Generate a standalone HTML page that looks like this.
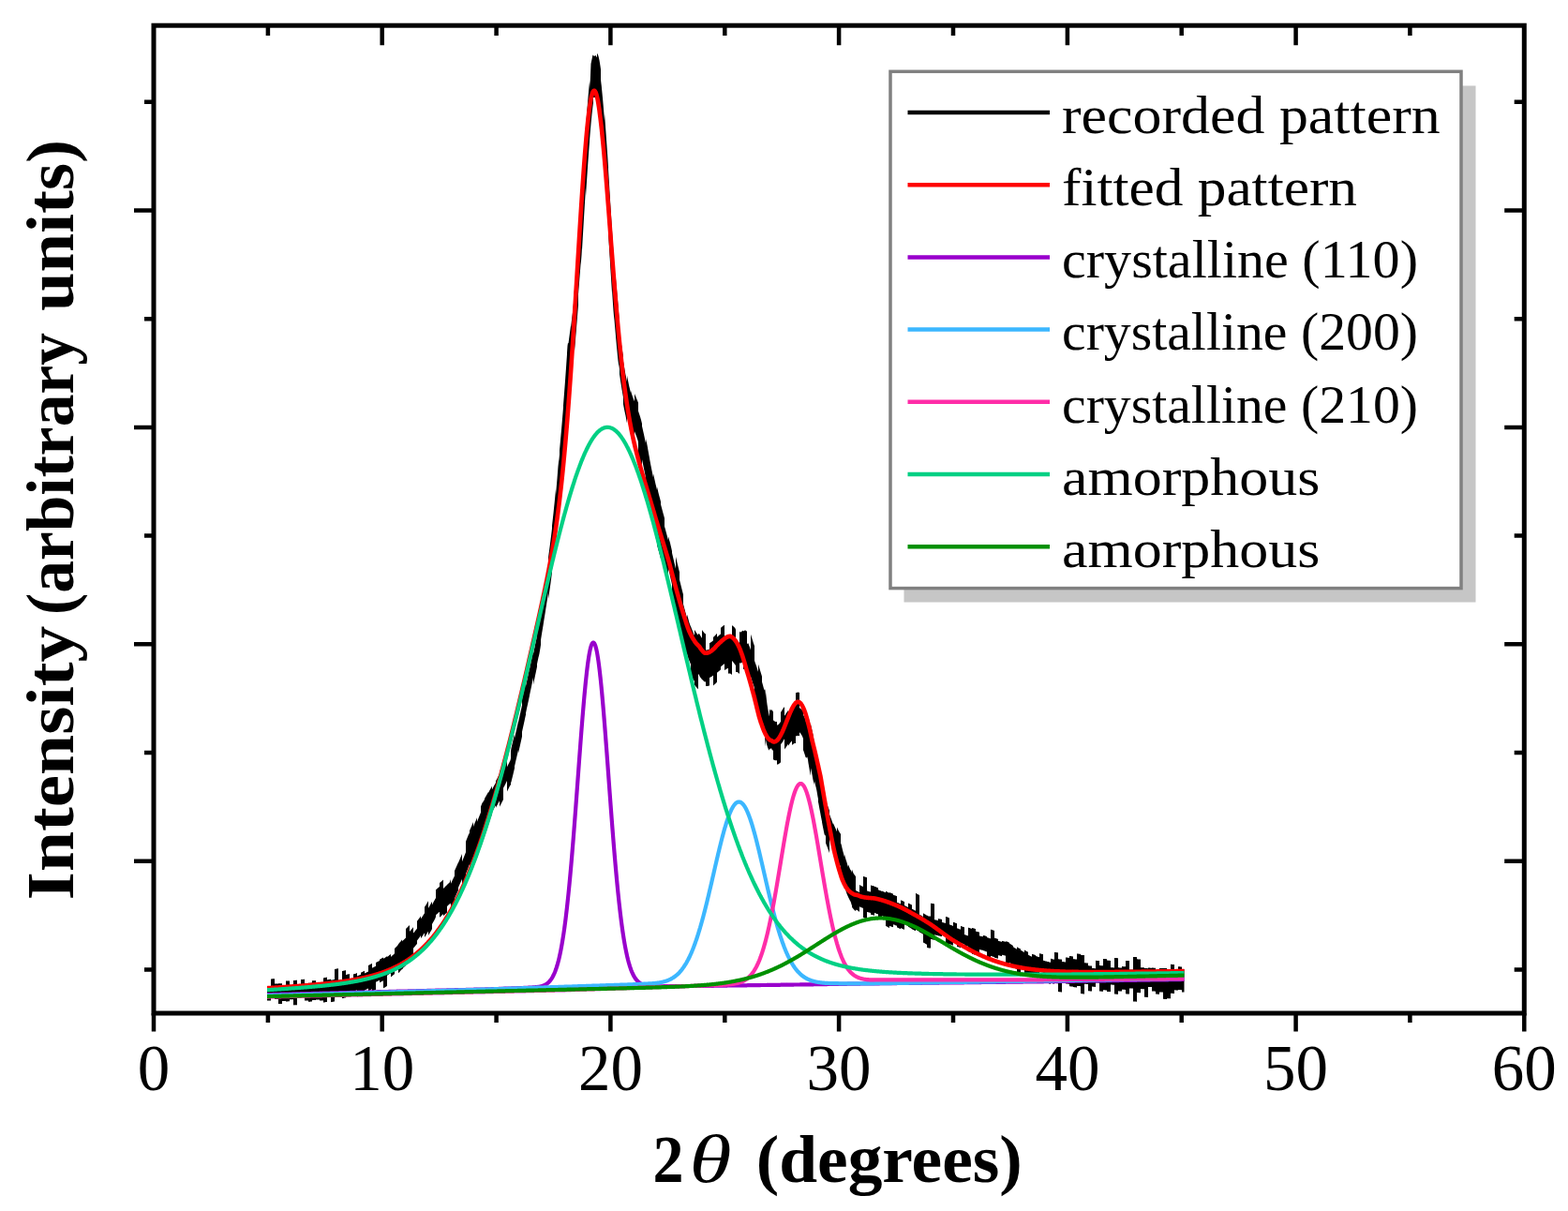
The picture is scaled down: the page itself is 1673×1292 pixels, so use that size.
<!DOCTYPE html>
<html><head><meta charset="utf-8"><title>XRD pattern</title><style>html,body{margin:0;padding:0;background:#fff;overflow:hidden}svg{display:block}text{font-family:"Liberation Serif",serif}</style></head><body>
<svg width="1673" height="1292" viewBox="0 0 1673 1292">
<rect x="0" y="0" width="1673" height="1292" fill="#fff"/>
<path fill="#000" d="M285.0,1052.7 L285.5,1052.7 L286.0,1052.7 L286.5,1052.7 L287.0,1052.7 L287.5,1052.7 L288.0,1052.7 L288.5,1052.7 L289.0,1052.6 L289.0,1044.4 L289.5,1044.4 L290.0,1044.4 L290.5,1044.3 L291.0,1044.3 L291.5,1044.3 L292.0,1044.3 L292.5,1044.3 L293.0,1044.3 L293.0,1049.6 L293.5,1049.6 L294.0,1049.6 L294.5,1049.6 L295.0,1049.5 L295.5,1049.5 L296.0,1049.5 L296.5,1049.5 L297.0,1049.5 L297.0,1049.3 L297.5,1049.3 L298.0,1049.3 L298.5,1049.3 L299.0,1049.3 L299.5,1049.3 L300.0,1049.3 L300.5,1049.3 L301.0,1049.2 L301.0,1051.1 L301.5,1051.1 L302.0,1051.1 L302.5,1051.1 L303.0,1051.1 L303.5,1051.1 L304.0,1051.1 L304.5,1051.0 L305.0,1051.0 L305.0,1046.6 L305.5,1046.5 L306.0,1046.5 L306.5,1046.5 L307.0,1046.5 L307.5,1046.5 L308.0,1046.5 L308.5,1046.5 L309.0,1046.4 L309.0,1051.3 L309.5,1051.2 L310.0,1051.2 L310.5,1051.2 L311.0,1051.2 L311.5,1051.2 L312.0,1051.2 L312.5,1051.1 L313.0,1051.1 L313.0,1045.9 L313.5,1045.9 L314.0,1045.9 L314.5,1045.9 L315.0,1045.9 L315.5,1045.8 L316.0,1045.8 L316.5,1045.8 L317.0,1045.8 L317.0,1051.2 L317.5,1051.2 L318.0,1051.2 L318.5,1051.2 L319.0,1051.2 L319.5,1051.2 L320.0,1051.1 L320.5,1051.1 L321.0,1051.1 L321.0,1045.0 L321.5,1044.9 L322.0,1044.9 L322.5,1044.9 L323.0,1044.9 L323.5,1044.9 L324.0,1044.8 L324.5,1044.8 L325.0,1044.8 L325.0,1049.6 L325.5,1049.6 L326.0,1049.5 L326.5,1049.5 L327.0,1049.5 L327.5,1049.5 L328.0,1049.5 L328.5,1049.4 L329.0,1049.4 L329.0,1048.8 L329.5,1048.8 L330.0,1048.7 L330.5,1048.7 L331.0,1048.7 L331.5,1048.7 L332.0,1048.7 L332.5,1048.6 L333.0,1048.6 L333.0,1046.3 L333.5,1046.3 L334.0,1046.3 L334.5,1046.3 L335.0,1046.2 L335.5,1046.2 L336.0,1046.2 L336.5,1046.2 L337.0,1046.1 L337.0,1049.3 L337.5,1049.3 L338.0,1049.2 L338.5,1049.2 L339.0,1049.2 L339.5,1049.2 L340.0,1049.1 L340.5,1049.1 L341.0,1049.1 L341.0,1048.0 L341.5,1048.0 L342.0,1048.0 L342.5,1048.0 L343.0,1047.9 L343.5,1047.9 L344.0,1047.9 L344.5,1047.8 L345.0,1047.8 L345.0,1043.4 L345.5,1043.3 L346.0,1043.2 L346.5,1043.1 L347.0,1043.0 L347.5,1042.9 L348.0,1042.8 L348.5,1042.7 L349.0,1042.6 L349.0,1045.4 L349.5,1045.3 L350.0,1045.2 L350.5,1045.1 L351.0,1045.0 L351.5,1044.9 L352.0,1044.8 L352.5,1044.7 L353.0,1044.7 L353.0,1045.7 L353.5,1045.6 L354.0,1045.5 L354.5,1045.5 L355.0,1045.4 L355.5,1045.3 L356.0,1045.2 L356.5,1045.1 L357.0,1045.0 L357.0,1034.0 L357.5,1033.9 L358.0,1033.8 L358.5,1033.7 L359.0,1033.6 L359.5,1033.5 L360.0,1033.4 L360.5,1033.3 L361.0,1033.2 L361.0,1045.8 L361.5,1045.7 L362.0,1045.6 L362.5,1045.5 L363.0,1045.4 L363.5,1045.3 L364.0,1045.2 L364.5,1045.1 L365.0,1045.0 L365.0,1036.0 L365.5,1035.9 L366.0,1035.8 L366.5,1035.7 L367.0,1035.6 L367.5,1035.5 L368.0,1035.4 L368.5,1035.3 L369.0,1035.1 L369.0,1040.0 L369.5,1039.9 L370.0,1039.8 L370.5,1039.6 L371.0,1039.5 L371.5,1039.4 L372.0,1039.3 L372.5,1039.2 L373.0,1039.1 L373.0,1046.4 L373.5,1046.3 L374.0,1046.1 L374.5,1046.0 L375.0,1045.9 L375.5,1045.8 L376.0,1045.7 L376.5,1045.5 L377.0,1045.4 L377.0,1039.4 L377.5,1039.2 L378.0,1039.1 L378.5,1039.0 L379.0,1038.9 L379.5,1038.7 L380.0,1038.6 L380.5,1038.3 L381.0,1038.1 L381.0,1041.5 L381.5,1041.3 L382.0,1041.0 L382.5,1040.8 L383.0,1040.6 L383.5,1040.4 L384.0,1040.1 L384.5,1039.9 L385.0,1039.7 L385.0,1037.7 L385.5,1037.4 L386.0,1037.2 L386.5,1037.0 L387.0,1036.7 L387.5,1036.5 L388.0,1036.3 L388.5,1036.0 L389.0,1035.8 L389.0,1038.4 L389.5,1038.2 L390.0,1037.9 L390.5,1037.7 L391.0,1037.4 L391.5,1037.2 L392.0,1036.9 L392.5,1036.7 L393.0,1036.4 L393.0,1029.9 L393.5,1029.7 L394.0,1029.4 L394.5,1029.2 L395.0,1028.9 L395.5,1028.6 L396.0,1028.4 L396.5,1028.1 L397.0,1027.9 L397.0,1032.8 L397.5,1032.6 L398.0,1032.3 L398.5,1032.0 L399.0,1031.8 L399.5,1031.5 L400.0,1031.2 L400.5,1031.1 L401.0,1030.8 L401.0,1026.9 L401.5,1026.7 L402.0,1026.4 L402.5,1026.2 L403.0,1026.0 L403.5,1025.7 L404.0,1025.5 L404.5,1025.2 L405.0,1025.0 L405.0,1023.7 L405.5,1023.4 L406.0,1023.1 L406.5,1022.9 L407.0,1022.6 L407.5,1022.3 L408.0,1022.0 L408.5,1021.7 L409.0,1021.4 L409.0,1022.8 L409.5,1022.5 L410.0,1022.2 L410.5,1021.9 L411.0,1021.5 L411.5,1021.2 L412.0,1020.9 L412.5,1020.6 L413.0,1020.2 L413.0,1020.9 L413.5,1020.6 L414.0,1020.2 L414.5,1019.9 L415.0,1019.5 L415.5,1019.1 L416.0,1018.7 L416.5,1018.3 L417.0,1017.9 L417.0,1020.8 L417.5,1020.4 L418.0,1020.0 L418.5,1019.6 L419.0,1019.1 L419.5,1018.7 L420.0,1018.2 L420.5,1017.7 L421.0,1017.3 L421.0,1011.9 L421.5,1011.4 L422.0,1010.9 L422.5,1010.4 L423.0,1009.9 L423.5,1009.4 L424.0,1008.9 L424.5,1008.3 L425.0,1007.8 L425.0,1007.3 L425.5,1006.7 L426.0,1006.1 L426.5,1005.6 L427.0,1005.0 L427.5,1004.4 L428.0,1003.7 L428.5,1003.1 L429.0,1002.5 L429.0,1004.5 L429.5,1003.8 L430.0,1003.3 L430.5,1003.0 L431.0,1002.5 L431.5,1002.1 L432.0,1001.6 L432.5,1001.1 L433.0,1000.6 L433.0,991.1 L433.5,990.6 L434.0,990.1 L434.5,989.6 L435.0,989.1 L435.5,988.5 L436.0,988.0 L436.5,987.5 L437.0,986.9 L437.0,993.9 L437.5,993.3 L438.0,992.8 L438.5,992.2 L439.0,991.6 L439.5,991.0 L440.0,990.4 L440.5,989.8 L441.0,989.2 L441.0,995.6 L441.5,995.0 L442.0,994.4 L442.5,993.8 L443.0,993.1 L443.5,992.5 L444.0,991.9 L444.5,991.2 L445.0,990.6 L445.0,982.8 L445.5,982.1 L446.0,981.5 L446.5,980.8 L447.0,980.1 L447.5,979.4 L448.0,978.7 L448.5,978.0 L449.0,977.3 L449.0,980.3 L449.5,979.6 L450.0,978.9 L450.5,978.1 L451.0,977.4 L451.5,976.6 L452.0,975.8 L452.5,975.1 L453.0,974.3 L453.0,967.8 L453.5,967.0 L454.0,966.2 L454.5,965.4 L455.0,964.5 L455.5,963.7 L456.0,962.9 L456.5,962.0 L457.0,961.2 L457.0,969.0 L457.5,968.1 L458.0,967.2 L458.5,966.3 L459.0,965.4 L459.5,964.5 L460.0,963.6 L460.5,962.7 L461.0,961.8 L461.0,965.5 L461.5,964.5 L462.0,963.6 L462.5,962.6 L463.0,961.6 L463.5,960.7 L464.0,959.7 L464.5,958.7 L465.0,958.3 L465.0,948.9 L465.5,948.9 L466.0,948.5 L466.5,948.1 L467.0,947.6 L467.5,947.2 L468.0,946.8 L468.5,946.3 L469.0,945.9 L469.0,942.1 L469.5,941.6 L470.0,941.2 L470.5,940.8 L471.0,940.3 L471.5,939.9 L472.0,939.4 L472.5,938.9 L473.0,938.5 L473.0,947.9 L473.5,947.4 L474.0,947.0 L474.5,946.5 L475.0,946.0 L475.5,945.6 L476.0,945.1 L476.5,944.6 L477.0,944.2 L477.0,944.1 L477.5,943.6 L478.0,943.1 L478.5,942.6 L479.0,942.2 L479.5,941.7 L480.0,940.7 L480.5,939.2 L481.0,938.2 L481.0,942.7 L481.5,941.7 L482.0,940.7 L482.5,939.6 L483.0,938.6 L483.5,937.5 L484.0,936.5 L484.5,935.4 L485.0,934.4 L485.0,928.9 L485.5,927.9 L486.0,926.8 L486.5,925.7 L487.0,924.6 L487.5,923.5 L488.0,922.3 L488.5,921.2 L489.0,920.1 L489.0,920.4 L489.5,919.3 L490.0,918.1 L490.5,917.0 L491.0,915.8 L491.5,914.6 L492.0,913.4 L492.5,912.2 L493.0,911.0 L493.0,919.2 L493.5,918.0 L494.0,916.8 L494.5,915.5 L495.0,914.3 L495.5,913.0 L496.0,911.8 L496.5,910.5 L497.0,909.3 L497.0,897.9 L497.5,896.6 L498.0,895.3 L498.5,894.0 L499.0,892.7 L499.5,891.4 L500.0,890.3 L500.5,889.4 L501.0,888.3 L501.0,886.2 L501.5,885.1 L502.0,883.9 L502.5,882.8 L503.0,881.7 L503.5,880.5 L504.0,879.3 L504.5,878.2 L505.0,877.0 L505.0,881.9 L505.5,880.7 L506.0,879.5 L506.5,878.3 L507.0,877.1 L507.5,875.9 L508.0,874.7 L508.5,873.5 L509.0,872.3 L509.0,876.8 L509.5,875.5 L510.0,874.3 L510.5,873.1 L511.0,871.8 L511.5,870.6 L512.0,869.3 L512.5,868.0 L513.0,866.8 L513.0,860.6 L513.5,859.3 L514.0,858.1 L514.5,856.8 L515.0,855.9 L515.5,855.5 L516.0,854.6 L516.5,853.8 L517.0,852.9 L517.0,852.1 L517.5,851.2 L518.0,850.3 L518.5,849.5 L519.0,848.6 L519.5,847.7 L520.0,846.8 L520.5,845.9 L521.0,845.0 L521.0,845.8 L521.5,844.9 L522.0,844.0 L522.5,843.1 L523.0,842.2 L523.5,841.3 L524.0,840.4 L524.5,839.5 L525.0,838.6 L525.0,842.3 L525.5,841.4 L526.0,840.5 L526.5,839.6 L527.0,838.6 L527.5,837.7 L528.0,836.8 L528.5,835.9 L529.0,835.0 L529.0,833.3 L529.5,832.3 L530.0,831.4 L530.5,830.5 L531.0,829.5 L531.5,828.6 L532.0,827.7 L532.5,826.7 L533.0,825.8 L533.0,823.3 L533.5,822.3 L534.0,821.4 L534.5,820.4 L535.0,819.5 L535.5,818.5 L536.0,817.6 L536.5,816.6 L537.0,815.6 L537.0,817.9 L537.5,817.0 L538.0,816.0 L538.5,815.0 L539.0,814.1 L539.5,813.1 L540.0,812.1 L540.5,811.1 L541.0,810.2 L541.0,818.2 L541.5,817.3 L542.0,816.3 L542.5,815.3 L543.0,814.3 L543.5,813.3 L544.0,812.3 L544.5,811.3 L545.0,809.1 L545.0,801.5 L545.5,798.2 L546.0,796.0 L546.5,793.9 L547.0,791.8 L547.5,789.7 L548.0,787.6 L548.5,785.4 L549.0,783.3 L549.0,787.4 L549.5,785.3 L550.0,783.1 L550.5,780.9 L551.0,778.7 L551.5,776.5 L552.0,774.3 L552.5,772.1 L553.0,769.9 L553.0,770.4 L553.5,768.2 L554.0,766.0 L554.5,763.7 L555.0,761.5 L555.5,759.2 L556.0,757.0 L556.5,754.7 L557.0,752.4 L557.0,745.6 L557.5,743.3 L558.0,741.0 L558.5,738.7 L559.0,736.4 L559.5,734.1 L560.0,731.8 L560.5,729.5 L561.0,727.1 L561.0,731.9 L561.5,729.6 L562.0,727.2 L562.5,724.9 L563.0,722.6 L563.5,720.2 L564.0,717.9 L564.5,715.5 L565.0,713.1 L565.0,713.7 L565.5,711.3 L566.0,708.9 L566.5,706.5 L567.0,704.2 L567.5,701.8 L568.0,699.4 L568.5,697.0 L569.0,694.6 L569.0,697.6 L569.5,695.2 L570.0,692.8 L570.5,690.4 L571.0,688.0 L571.5,685.6 L572.0,683.2 L572.5,680.8 L573.0,678.4 L573.0,668.4 L573.5,665.9 L574.0,663.5 L574.5,661.1 L575.0,657.9 L575.5,654.1 L576.0,651.0 L576.5,647.9 L577.0,644.8 L577.0,649.5 L577.5,646.4 L578.0,643.2 L578.5,640.1 L579.0,636.9 L579.5,633.8 L580.0,630.6 L580.5,627.4 L581.0,624.1 L581.0,628.7 L581.5,625.5 L582.0,622.2 L582.5,618.8 L583.0,615.5 L583.5,612.1 L584.0,608.6 L584.5,605.1 L585.0,601.6 L585.0,594.9 L585.5,591.3 L586.0,587.6 L586.5,583.8 L587.0,580.0 L587.5,576.1 L588.0,572.1 L588.5,568.0 L589.0,563.8 L589.0,560.8 L589.5,556.5 L590.0,552.0 L590.5,547.4 L591.0,542.6 L591.5,537.7 L592.0,532.7 L592.5,527.4 L593.0,522.0 L593.0,527.9 L593.5,522.3 L594.0,516.5 L594.5,510.4 L595.0,504.1 L595.5,497.6 L596.0,493.0 L596.5,490.0 L597.0,484.9 L597.0,480.2 L597.5,475.0 L598.0,469.6 L598.5,464.1 L599.0,458.5 L599.5,452.7 L600.0,446.8 L600.5,440.8 L601.0,434.6 L601.0,432.4 L601.5,426.0 L602.0,419.5 L602.5,412.9 L603.0,406.2 L603.5,399.3 L604.0,392.3 L604.5,385.1 L605.0,377.9 L605.0,376.3 L605.5,368.9 L606.0,365.8 L606.5,366.4 L607.0,362.6 L607.5,358.8 L608.0,355.0 L608.5,351.2 L609.0,347.4 L609.0,349.3 L609.5,345.4 L610.0,341.5 L610.5,337.6 L611.0,333.6 L611.5,329.6 L612.0,323.3 L612.5,314.8 L613.0,308.7 L613.0,313.9 L613.5,307.7 L614.0,301.5 L614.5,295.3 L615.0,289.1 L615.5,282.8 L616.0,276.5 L616.5,270.2 L617.0,263.8 L617.0,265.8 L617.5,259.4 L618.0,253.0 L618.5,246.6 L619.0,240.2 L619.5,233.8 L620.0,225.0 L620.5,214.2 L621.0,205.9 L621.0,197.1 L621.5,188.9 L622.0,180.7 L622.5,172.7 L623.0,164.8 L623.5,157.0 L624.0,149.3 L624.5,141.9 L625.0,134.6 L625.0,136.7 L625.5,129.6 L626.0,122.7 L626.5,116.1 L627.0,109.8 L627.5,103.7 L628.0,97.9 L628.5,92.5 L629.0,87.4 L629.0,95.0 L629.5,90.3 L630.0,86.0 L630.5,82.1 L631.0,78.6 L631.5,75.5 L632.0,72.9 L632.5,70.7 L633.0,69.0 L633.0,64.1 L633.5,62.9 L634.0,62.0 L634.5,61.6 L635.0,61.7 L635.5,62.1 L636.0,62.0 L636.5,61.7 L637.0,61.7 L637.0,57.0 L637.5,57.5 L638.0,58.4 L638.5,59.9 L639.0,61.9 L639.5,64.3 L640.0,67.2 L640.5,70.6 L641.0,74.1 L641.0,85.1 L641.5,89.5 L642.0,94.3 L642.5,99.3 L643.0,104.6 L643.5,110.2 L644.0,116.2 L644.5,122.4 L645.0,128.8 L645.0,121.2 L645.5,127.8 L646.0,134.7 L646.5,141.7 L647.0,148.9 L647.5,156.3 L648.0,163.2 L648.5,170.6 L649.0,178.7 L649.0,180.4 L649.5,188.5 L650.0,196.7 L650.5,205.0 L651.0,213.2 L651.5,221.5 L652.0,229.7 L652.5,237.9 L653.0,246.1 L653.0,245.8 L653.5,253.9 L654.0,261.9 L654.5,269.9 L655.0,279.2 L655.5,287.1 L656.0,293.4 L656.5,299.5 L657.0,305.6 L657.0,297.3 L657.5,303.3 L658.0,309.1 L658.5,314.8 L659.0,320.5 L659.5,326.0 L660.0,332.8 L660.5,338.3 L661.0,342.1 L661.0,352.8 L661.5,356.6 L662.0,360.3 L662.5,363.9 L663.0,367.4 L663.5,370.9 L664.0,374.3 L664.5,377.6 L665.0,380.8 L665.0,385.4 L665.5,388.5 L666.0,391.5 L666.5,394.5 L667.0,397.3 L667.5,400.0 L668.0,402.2 L668.5,404.7 L669.0,407.6 L669.0,400.5 L669.5,403.2 L670.0,405.8 L670.5,408.3 L671.0,410.7 L671.5,412.9 L672.0,415.0 L672.5,417.0 L673.0,418.9 L673.0,416.8 L673.5,418.5 L674.0,420.2 L674.5,421.7 L675.0,423.2 L675.5,424.6 L676.0,425.9 L676.5,427.1 L677.0,428.3 L677.0,420.1 L677.5,421.3 L678.0,422.4 L678.5,423.6 L679.0,424.8 L679.5,425.9 L680.0,427.2 L680.5,428.4 L681.0,429.8 L681.0,438.5 L681.5,439.9 L682.0,441.4 L682.5,443.0 L683.0,444.6 L683.5,446.3 L684.0,448.1 L684.5,450.0 L685.0,452.0 L685.0,454.8 L685.5,456.8 L686.0,459.0 L686.5,461.2 L687.0,463.5 L687.5,465.8 L688.0,468.2 L688.5,470.6 L689.0,473.1 L689.0,467.9 L689.5,470.4 L690.0,472.3 L690.5,474.7 L691.0,477.6 L691.5,480.4 L692.0,483.2 L692.5,486.0 L693.0,488.8 L693.0,489.1 L693.5,491.8 L694.0,494.5 L694.5,497.1 L695.0,499.6 L695.5,502.1 L696.0,504.5 L696.5,506.9 L697.0,509.3 L697.0,505.3 L697.5,507.6 L698.0,509.8 L698.5,512.0 L699.0,514.2 L699.5,516.4 L700.0,518.5 L700.5,520.6 L701.0,522.7 L701.0,519.4 L701.5,521.4 L702.0,523.6 L702.5,525.8 L703.0,527.8 L703.5,529.6 L704.0,531.5 L704.5,533.3 L705.0,535.2 L705.0,538.1 L705.5,540.0 L706.0,541.8 L706.5,543.7 L707.0,545.5 L707.5,547.4 L708.0,549.2 L708.5,551.1 L709.0,552.9 L709.0,561.4 L709.5,563.3 L710.0,565.1 L710.5,567.0 L711.0,568.8 L711.5,570.7 L712.0,572.6 L712.5,574.4 L713.0,576.3 L713.0,572.2 L713.5,574.1 L714.0,575.9 L714.5,577.5 L715.0,579.3 L715.5,581.4 L716.0,583.5 L716.5,585.7 L717.0,587.9 L717.0,589.7 L717.5,591.9 L718.0,594.0 L718.5,596.2 L719.0,598.3 L719.5,600.4 L720.0,602.6 L720.5,604.7 L721.0,606.8 L721.0,593.9 L721.5,596.0 L722.0,598.1 L722.5,600.2 L723.0,602.2 L723.5,604.3 L724.0,606.4 L724.5,608.4 L725.0,610.4 L725.0,618.5 L725.5,620.5 L726.0,622.5 L726.5,624.5 L727.0,626.5 L727.5,628.5 L728.0,630.4 L728.5,632.4 L729.0,634.3 L729.0,644.4 L729.5,646.3 L730.0,648.2 L730.5,650.1 L731.0,651.9 L731.5,653.7 L732.0,655.5 L732.5,657.4 L733.0,659.2 L733.0,655.6 L733.5,657.3 L734.0,659.1 L734.5,660.8 L735.0,662.9 L735.5,664.6 L736.0,666.0 L736.5,667.3 L737.0,668.6 L737.0,668.3 L737.5,669.6 L738.0,670.9 L738.5,672.1 L739.0,673.4 L739.5,674.5 L740.0,675.9 L740.5,677.0 L741.0,677.9 L741.0,672.0 L741.5,672.8 L742.0,673.6 L742.5,674.4 L743.0,675.1 L743.5,675.8 L744.0,676.4 L744.5,677.1 L745.0,677.7 L745.0,675.7 L745.5,676.2 L746.0,676.3 L746.5,676.8 L747.0,677.7 L747.5,678.6 L748.0,679.4 L748.5,680.1 L749.0,680.9 L749.0,672.1 L749.5,672.8 L750.0,673.5 L750.5,674.1 L751.0,674.7 L751.5,675.2 L752.0,675.9 L752.5,676.2 L753.0,676.2 L753.0,693.4 L753.5,693.4 L754.0,693.4 L754.5,693.4 L755.0,693.3 L755.5,693.1 L756.0,693.0 L756.5,692.8 L757.0,692.6 L757.0,686.1 L757.5,685.9 L758.0,685.6 L758.5,685.3 L759.0,684.9 L759.5,684.5 L760.0,684.2 L760.5,683.7 L761.0,683.3 L761.0,679.8 L761.5,679.4 L762.0,678.9 L762.5,678.4 L763.0,677.9 L763.5,677.4 L764.0,676.8 L764.5,676.3 L765.0,675.9 L765.0,679.7 L765.5,679.3 L766.0,678.9 L766.5,678.5 L767.0,678.1 L767.5,677.6 L768.0,677.2 L768.5,676.8 L769.0,676.4 L769.0,669.8 L769.5,669.4 L770.0,669.0 L770.5,668.6 L771.0,668.2 L771.5,667.8 L772.0,667.5 L772.5,667.1 L773.0,666.8 L773.0,682.1 L773.5,681.8 L774.0,681.5 L774.5,681.3 L775.0,681.0 L775.5,680.8 L776.0,680.7 L776.5,680.5 L777.0,680.4 L777.0,679.1 L777.5,679.0 L778.0,679.0 L778.5,678.9 L779.0,678.9 L779.5,679.0 L780.0,679.3 L780.5,679.6 L781.0,679.9 L781.0,667.1 L781.5,667.5 L782.0,667.9 L782.5,668.3 L783.0,668.8 L783.5,669.3 L784.0,669.8 L784.5,670.4 L785.0,671.8 L785.0,684.3 L785.5,684.7 L786.0,684.8 L786.5,684.9 L787.0,685.0 L787.5,685.2 L788.0,685.4 L788.5,685.7 L789.0,686.0 L789.0,673.7 L789.5,674.0 L790.0,675.0 L790.5,674.3 L791.0,673.9 L791.5,673.6 L792.0,673.2 L792.5,672.9 L793.0,672.5 L793.0,673.6 L793.5,673.3 L794.0,672.9 L794.5,672.6 L795.0,672.5 L795.5,672.6 L796.0,672.9 L796.5,673.3 L797.0,673.7 L797.0,686.5 L797.5,686.9 L798.0,686.3 L798.5,686.6 L799.0,687.9 L799.5,689.2 L800.0,690.6 L800.5,692.0 L801.0,693.5 L801.0,676.8 L801.5,678.3 L802.0,679.9 L802.5,681.4 L803.0,682.9 L803.5,684.7 L804.0,686.4 L804.5,687.8 L805.0,689.2 L805.0,704.8 L805.5,706.2 L806.0,707.7 L806.5,709.1 L807.0,710.6 L807.5,712.1 L808.0,713.7 L808.5,715.2 L809.0,716.8 L809.0,708.7 L809.5,710.3 L810.0,711.9 L810.5,713.5 L811.0,715.2 L811.5,716.8 L812.0,718.5 L812.5,720.1 L813.0,721.7 L813.0,727.5 L813.5,729.3 L814.0,731.1 L814.5,732.9 L815.0,734.8 L815.5,736.6 L816.0,735.0 L816.5,736.7 L817.0,742.3 L817.0,738.3 L817.5,743.1 L818.0,747.6 L818.5,751.5 L819.0,754.6 L819.5,757.5 L820.0,760.2 L820.5,762.5 L821.0,764.4 L821.0,756.0 L821.5,757.4 L822.0,758.1 L822.5,757.5 L823.0,757.3 L823.5,757.3 L824.0,758.1 L824.5,758.8 L825.0,759.4 L825.0,768.2 L825.5,768.7 L826.0,769.2 L826.5,769.5 L827.0,769.8 L827.5,769.9 L828.0,770.0 L828.5,769.9 L829.0,769.8 L829.0,773.8 L829.5,773.6 L830.0,773.3 L830.5,772.9 L831.0,772.4 L831.5,771.9 L832.0,771.3 L832.5,770.6 L833.0,769.9 L833.0,760.0 L833.5,759.3 L834.0,758.5 L834.5,757.6 L835.0,756.8 L835.5,755.9 L836.0,755.2 L836.5,754.7 L837.0,754.0 L837.0,763.8 L837.5,763.1 L838.0,762.4 L838.5,761.6 L839.0,760.8 L839.5,760.1 L840.0,759.4 L840.5,758.6 L841.0,757.9 L841.0,765.6 L841.5,765.0 L842.0,764.3 L842.5,763.7 L843.0,763.1 L843.5,762.5 L844.0,762.0 L844.5,761.6 L845.0,761.2 L845.0,752.4 L845.5,752.0 L846.0,751.7 L846.5,751.5 L847.0,751.3 L847.5,751.1 L848.0,751.0 L848.5,751.0 L849.0,751.0 L849.0,738.9 L849.5,739.0 L850.0,739.2 L850.5,738.7 L851.0,738.6 L851.5,738.6 L852.0,738.7 L852.5,738.7 L853.0,738.9 L853.0,755.3 L853.5,755.6 L854.0,755.8 L854.5,756.2 L855.0,756.6 L855.5,757.2 L856.0,757.8 L856.5,758.5 L857.0,759.2 L857.0,762.5 L857.5,763.4 L858.0,764.4 L858.5,765.4 L859.0,766.6 L859.5,767.8 L860.0,770.3 L860.5,771.8 L861.0,772.3 L861.0,764.5 L861.5,765.2 L862.0,764.7 L862.5,765.2 L863.0,766.9 L863.5,768.9 L864.0,771.1 L864.5,774.2 L865.0,777.5 L865.0,772.7 L865.5,775.1 L866.0,777.2 L866.5,779.4 L867.0,781.7 L867.5,784.1 L868.0,787.3 L868.5,790.0 L869.0,792.0 L869.0,796.8 L869.5,798.9 L870.0,800.9 L870.5,803.0 L871.0,805.1 L871.5,807.0 L872.0,808.7 L872.5,810.9 L873.0,813.5 L873.0,814.4 L873.5,817.1 L874.0,819.7 L874.5,822.4 L875.0,825.0 L875.5,827.7 L876.0,830.4 L876.5,833.0 L877.0,835.7 L877.0,840.7 L877.5,843.4 L878.0,846.0 L878.5,848.7 L879.0,851.3 L879.5,853.9 L880.0,857.8 L880.5,860.5 L881.0,861.9 L881.0,854.1 L881.5,855.4 L882.0,856.8 L882.5,858.2 L883.0,859.5 L883.5,860.9 L884.0,862.1 L884.5,863.5 L885.0,864.8 L885.0,868.7 L885.5,870.0 L886.0,871.4 L886.5,872.7 L887.0,874.1 L887.5,875.4 L888.0,876.9 L888.5,878.2 L889.0,879.4 L889.0,878.3 L889.5,879.4 L890.0,880.6 L890.5,881.7 L891.0,882.8 L891.5,883.9 L892.0,885.1 L892.5,886.2 L893.0,887.2 L893.0,882.4 L893.5,883.5 L894.0,884.6 L894.5,885.7 L895.0,886.7 L895.5,887.6 L896.0,888.6 L896.5,889.5 L897.0,889.2 L897.0,899.8 L897.5,900.6 L898.0,902.6 L898.5,904.7 L899.0,906.7 L899.5,908.7 L900.0,910.6 L900.5,912.5 L901.0,914.3 L901.0,911.6 L901.5,913.4 L902.0,915.2 L902.5,916.9 L903.0,918.6 L903.5,920.1 L904.0,922.0 L904.5,923.6 L905.0,925.0 L905.0,922.2 L905.5,923.6 L906.0,924.8 L906.5,926.0 L907.0,927.2 L907.5,928.2 L908.0,928.6 L908.5,929.6 L909.0,931.3 L909.0,927.6 L909.5,929.0 L910.0,930.3 L910.5,931.5 L911.0,932.4 L911.5,933.1 L912.0,933.8 L912.5,934.5 L913.0,935.1 L913.0,949.8 L913.5,950.3 L914.0,950.6 L914.5,950.9 L915.0,951.0 L915.5,950.9 L916.0,951.4 L916.5,951.9 L917.0,952.2 L917.0,944.0 L917.5,944.3 L918.0,944.6 L918.5,944.9 L919.0,945.1 L919.5,945.4 L920.0,945.6 L920.5,945.8 L921.0,946.0 L921.0,934.9 L921.5,935.1 L922.0,935.3 L922.5,935.4 L923.0,935.6 L923.5,935.8 L924.0,935.9 L924.5,936.1 L925.0,936.2 L925.0,950.5 L925.5,950.6 L926.0,950.8 L926.5,950.9 L927.0,951.0 L927.5,951.2 L928.0,951.3 L928.5,951.4 L929.0,951.6 L929.0,944.5 L929.5,944.6 L930.0,944.7 L930.5,944.9 L931.0,945.0 L931.5,945.1 L932.0,945.3 L932.5,945.4 L933.0,945.5 L933.0,945.7 L933.5,945.9 L934.0,946.1 L934.5,946.3 L935.0,946.5 L935.5,946.7 L936.0,946.9 L936.5,947.1 L937.0,947.3 L937.0,949.2 L937.5,949.4 L938.0,949.7 L938.5,949.9 L939.0,950.1 L939.5,950.3 L940.0,950.5 L940.5,950.7 L941.0,951.0 L941.0,950.5 L941.5,950.7 L942.0,950.9 L942.5,951.2 L943.0,951.4 L943.5,951.6 L944.0,951.9 L944.5,952.1 L945.0,952.4 L945.0,950.7 L945.5,951.0 L946.0,951.2 L946.5,951.5 L947.0,951.8 L947.5,952.0 L948.0,952.3 L948.5,952.6 L949.0,952.8 L949.0,951.9 L949.5,952.2 L950.0,952.5 L950.5,952.7 L951.0,952.9 L951.5,953.1 L952.0,953.3 L952.5,953.5 L953.0,953.7 L953.0,954.7 L953.5,954.9 L954.0,955.0 L954.5,955.2 L955.0,955.4 L955.5,955.6 L956.0,955.8 L956.5,956.0 L957.0,956.1 L957.0,962.7 L957.5,962.9 L958.0,963.1 L958.5,963.3 L959.0,963.5 L959.5,963.7 L960.0,964.0 L960.5,964.2 L961.0,964.4 L961.0,960.3 L961.5,960.5 L962.0,960.7 L962.5,960.9 L963.0,961.1 L963.5,961.4 L964.0,961.6 L964.5,961.9 L965.0,962.1 L965.0,966.0 L965.5,966.3 L966.0,966.5 L966.5,966.8 L967.0,967.0 L967.5,967.3 L968.0,967.5 L968.5,967.8 L969.0,968.0 L969.0,963.4 L969.5,963.7 L970.0,964.0 L970.5,964.2 L971.0,964.5 L971.5,964.8 L972.0,965.0 L972.5,965.3 L973.0,965.6 L973.0,969.6 L973.5,969.9 L974.0,970.1 L974.5,970.4 L975.0,970.7 L975.5,970.9 L976.0,971.2 L976.5,971.4 L977.0,971.7 L977.0,952.9 L977.5,953.1 L978.0,953.4 L978.5,953.7 L979.0,953.9 L979.5,954.2 L980.0,954.5 L980.5,954.7 L981.0,955.0 L981.0,975.7 L981.5,976.0 L982.0,976.3 L982.5,976.6 L983.0,976.8 L983.5,977.1 L984.0,977.4 L984.5,977.7 L985.0,978.0 L985.0,974.3 L985.5,974.6 L986.0,974.9 L986.5,975.2 L987.0,975.5 L987.5,975.8 L988.0,976.1 L988.5,976.4 L989.0,976.7 L989.0,976.5 L989.5,976.8 L990.0,977.2 L990.5,977.4 L991.0,977.4 L991.5,977.5 L992.0,977.6 L992.5,977.6 L993.0,977.7 L993.0,963.7 L993.5,963.7 L994.0,963.8 L994.5,963.9 L995.0,964.0 L995.5,964.1 L996.0,964.2 L996.5,964.3 L997.0,964.4 L997.0,981.2 L997.5,981.3 L998.0,981.4 L998.5,981.5 L999.0,981.6 L999.5,981.8 L1000.0,981.9 L1000.5,982.0 L1001.0,982.1 L1001.0,980.0 L1001.5,980.2 L1002.0,980.3 L1002.5,980.4 L1003.0,980.5 L1003.5,980.6 L1004.0,980.7 L1004.5,980.8 L1005.0,981.0 L1005.0,984.0 L1005.5,984.1 L1006.0,984.2 L1006.5,984.3 L1007.0,984.5 L1007.5,984.6 L1008.0,984.7 L1008.5,984.8 L1009.0,984.9 L1009.0,977.9 L1009.5,978.0 L1010.0,978.1 L1010.5,978.2 L1011.0,978.5 L1011.5,978.7 L1012.0,979.0 L1012.5,979.2 L1013.0,979.5 L1013.0,986.2 L1013.5,986.4 L1014.0,986.7 L1014.5,986.9 L1015.0,987.1 L1015.5,987.3 L1016.0,987.5 L1016.5,987.7 L1017.0,987.9 L1017.0,983.8 L1017.5,984.0 L1018.0,984.1 L1018.5,984.3 L1019.0,984.5 L1019.5,984.7 L1020.0,984.9 L1020.5,985.1 L1021.0,985.3 L1021.0,990.2 L1021.5,990.4 L1022.0,990.6 L1022.5,990.8 L1023.0,991.0 L1023.5,991.2 L1024.0,991.3 L1024.5,991.5 L1025.0,991.7 L1025.0,987.9 L1025.5,988.1 L1026.0,988.3 L1026.5,988.5 L1027.0,988.7 L1027.5,988.8 L1028.0,989.0 L1028.5,989.2 L1029.0,989.3 L1029.0,997.1 L1029.5,997.3 L1030.0,997.5 L1030.5,997.6 L1031.0,997.8 L1031.5,998.0 L1032.0,998.1 L1032.5,998.3 L1033.0,998.5 L1033.0,989.6 L1033.5,989.8 L1034.0,989.9 L1034.5,990.1 L1035.0,990.3 L1035.5,990.4 L1036.0,990.6 L1036.5,990.7 L1037.0,990.9 L1037.0,989.9 L1037.5,990.1 L1038.0,990.2 L1038.5,990.3 L1039.0,990.5 L1039.5,990.6 L1040.0,990.8 L1040.5,990.9 L1041.0,991.0 L1041.0,993.5 L1041.5,993.7 L1042.0,993.8 L1042.5,993.9 L1043.0,994.1 L1043.5,994.2 L1044.0,994.3 L1044.5,994.4 L1045.0,994.6 L1045.0,998.4 L1045.5,998.5 L1046.0,998.7 L1046.5,998.8 L1047.0,998.9 L1047.5,999.0 L1048.0,999.1 L1048.5,999.2 L1049.0,999.3 L1049.0,997.9 L1049.5,998.0 L1050.0,998.1 L1050.5,998.3 L1051.0,998.5 L1051.5,998.6 L1052.0,998.8 L1052.5,999.0 L1053.0,999.2 L1053.0,1000.0 L1053.5,1000.2 L1054.0,1000.4 L1054.5,1000.5 L1055.0,1000.7 L1055.5,1000.9 L1056.0,1001.1 L1056.5,1001.2 L1057.0,1001.4 L1057.0,991.5 L1057.5,991.7 L1058.0,991.9 L1058.5,992.1 L1059.0,992.2 L1059.5,992.4 L1060.0,992.5 L1060.5,992.7 L1061.0,992.9 L1061.0,1000.7 L1061.5,1000.8 L1062.0,1001.0 L1062.5,1001.1 L1063.0,1001.3 L1063.5,1001.4 L1064.0,1001.6 L1064.5,1001.7 L1065.0,1001.9 L1065.0,1003.8 L1065.5,1003.9 L1066.0,1004.1 L1066.5,1004.2 L1067.0,1004.3 L1067.5,1004.5 L1068.0,1004.6 L1068.5,1004.7 L1069.0,1004.9 L1069.0,1003.8 L1069.5,1003.9 L1070.0,1004.0 L1070.5,1004.2 L1071.0,1004.3 L1071.5,1004.4 L1072.0,1004.5 L1072.5,1004.7 L1073.0,1004.8 L1073.0,1004.3 L1073.5,1004.4 L1074.0,1004.5 L1074.5,1004.6 L1075.0,1004.7 L1075.5,1004.9 L1076.0,1005.2 L1076.5,1005.5 L1077.0,1005.8 L1077.0,1006.5 L1077.5,1006.8 L1078.0,1007.1 L1078.5,1007.5 L1079.0,1007.8 L1079.5,1008.1 L1080.0,1008.4 L1080.5,1008.7 L1081.0,1009.0 L1081.0,1010.3 L1081.5,1010.6 L1082.0,1010.9 L1082.5,1011.2 L1083.0,1011.5 L1083.5,1011.8 L1084.0,1012.1 L1084.5,1012.4 L1085.0,1012.7 L1085.0,1010.3 L1085.5,1010.6 L1086.0,1010.9 L1086.5,1011.2 L1087.0,1011.5 L1087.5,1011.8 L1088.0,1012.0 L1088.5,1012.3 L1089.0,1012.6 L1089.0,1013.7 L1089.5,1014.0 L1090.0,1014.3 L1090.5,1014.6 L1091.0,1014.9 L1091.5,1015.2 L1092.0,1015.5 L1092.5,1015.7 L1093.0,1016.0 L1093.0,1013.5 L1093.5,1013.8 L1094.0,1014.1 L1094.5,1014.4 L1095.0,1014.7 L1095.5,1014.9 L1096.0,1015.2 L1096.5,1015.5 L1097.0,1015.8 L1097.0,1018.6 L1097.5,1018.9 L1098.0,1019.2 L1098.5,1019.4 L1099.0,1019.7 L1099.5,1020.0 L1100.0,1020.3 L1100.5,1020.5 L1101.0,1020.7 L1101.0,1017.8 L1101.5,1018.0 L1102.0,1018.1 L1102.5,1018.3 L1103.0,1018.5 L1103.5,1018.6 L1104.0,1018.8 L1104.5,1018.9 L1105.0,1019.1 L1105.0,1019.9 L1105.5,1020.1 L1106.0,1020.2 L1106.5,1020.4 L1107.0,1020.6 L1107.5,1020.7 L1108.0,1020.9 L1108.5,1021.0 L1109.0,1021.2 L1109.0,1017.1 L1109.5,1017.3 L1110.0,1017.4 L1110.5,1017.6 L1111.0,1017.7 L1111.5,1017.8 L1112.0,1018.0 L1112.5,1018.1 L1113.0,1018.3 L1113.0,1024.7 L1113.5,1024.8 L1114.0,1024.9 L1114.5,1025.1 L1115.0,1025.2 L1115.5,1025.4 L1116.0,1025.5 L1116.5,1025.6 L1117.0,1025.8 L1117.0,1025.7 L1117.5,1025.9 L1118.0,1026.0 L1118.5,1026.1 L1119.0,1026.3 L1119.5,1026.4 L1120.0,1026.5 L1120.5,1026.7 L1121.0,1026.8 L1121.0,1022.7 L1121.5,1022.8 L1122.0,1023.0 L1122.5,1023.1 L1123.0,1023.2 L1123.5,1023.4 L1124.0,1023.5 L1124.5,1023.6 L1125.0,1023.8 L1125.0,1015.8 L1125.5,1015.9 L1126.0,1016.0 L1126.5,1016.0 L1127.0,1016.1 L1127.5,1016.2 L1128.0,1016.2 L1128.5,1016.3 L1129.0,1016.4 L1129.0,1023.2 L1129.5,1023.2 L1130.0,1023.3 L1130.5,1023.4 L1131.0,1023.4 L1131.5,1023.5 L1132.0,1023.6 L1132.5,1023.6 L1133.0,1023.7 L1133.0,1026.0 L1133.5,1026.0 L1134.0,1026.1 L1134.5,1026.1 L1135.0,1026.2 L1135.5,1026.3 L1136.0,1026.3 L1136.5,1026.4 L1137.0,1026.4 L1137.0,1021.4 L1137.5,1021.5 L1138.0,1021.5 L1138.5,1021.6 L1139.0,1021.7 L1139.5,1021.7 L1140.0,1021.8 L1140.5,1021.8 L1141.0,1021.9 L1141.0,1020.0 L1141.5,1020.0 L1142.0,1020.1 L1142.5,1020.1 L1143.0,1020.2 L1143.5,1020.3 L1144.0,1020.3 L1144.5,1020.4 L1145.0,1020.4 L1145.0,1023.1 L1145.5,1023.2 L1146.0,1023.2 L1146.5,1023.3 L1147.0,1023.3 L1147.5,1023.4 L1148.0,1023.4 L1148.5,1023.5 L1149.0,1023.5 L1149.0,1017.5 L1149.5,1017.5 L1150.0,1017.6 L1150.5,1017.6 L1151.0,1017.7 L1151.5,1017.7 L1152.0,1017.8 L1152.5,1017.8 L1153.0,1017.9 L1153.0,1018.8 L1153.5,1018.8 L1154.0,1018.9 L1154.5,1018.9 L1155.0,1018.9 L1155.5,1019.0 L1156.0,1019.0 L1156.5,1019.1 L1157.0,1019.1 L1157.0,1027.2 L1157.5,1027.2 L1158.0,1027.3 L1158.5,1027.3 L1159.0,1027.4 L1159.5,1027.4 L1160.0,1027.5 L1160.5,1027.5 L1161.0,1027.5 L1161.0,1030.3 L1161.5,1030.3 L1162.0,1030.3 L1162.5,1030.4 L1163.0,1030.4 L1163.5,1030.5 L1164.0,1030.5 L1164.5,1030.5 L1165.0,1030.6 L1165.0,1032.9 L1165.5,1033.0 L1166.0,1033.0 L1166.5,1033.1 L1167.0,1033.1 L1167.5,1033.1 L1168.0,1033.2 L1168.5,1033.2 L1169.0,1033.2 L1169.0,1024.8 L1169.5,1024.8 L1170.0,1024.9 L1170.5,1024.9 L1171.0,1025.0 L1171.5,1025.0 L1172.0,1025.0 L1172.5,1025.1 L1173.0,1025.1 L1173.0,1030.1 L1173.5,1030.1 L1174.0,1030.1 L1174.5,1030.2 L1175.0,1030.2 L1175.5,1030.2 L1176.0,1030.3 L1176.5,1030.3 L1177.0,1030.3 L1177.0,1022.9 L1177.5,1023.0 L1178.0,1023.0 L1178.5,1023.0 L1179.0,1023.1 L1179.5,1023.1 L1180.0,1023.1 L1180.5,1023.2 L1181.0,1023.2 L1181.0,1024.6 L1181.5,1024.6 L1182.0,1024.7 L1182.5,1024.7 L1183.0,1024.7 L1183.5,1024.8 L1184.0,1024.8 L1184.5,1024.9 L1185.0,1024.9 L1185.0,1032.1 L1185.5,1032.2 L1186.0,1032.2 L1186.5,1032.2 L1187.0,1032.3 L1187.5,1032.3 L1188.0,1032.3 L1188.5,1032.4 L1189.0,1032.4 L1189.0,1022.0 L1189.5,1022.0 L1190.0,1022.0 L1190.5,1022.1 L1191.0,1022.1 L1191.5,1022.1 L1192.0,1022.2 L1192.5,1022.2 L1193.0,1022.2 L1193.0,1032.3 L1193.5,1032.3 L1194.0,1032.3 L1194.5,1032.4 L1195.0,1032.4 L1195.5,1032.4 L1196.0,1032.5 L1196.5,1032.5 L1197.0,1032.5 L1197.0,1031.1 L1197.5,1031.1 L1198.0,1031.1 L1198.5,1031.2 L1199.0,1031.2 L1199.5,1031.2 L1200.0,1031.3 L1200.5,1031.3 L1201.0,1031.3 L1201.0,1024.9 L1201.5,1025.0 L1202.0,1025.0 L1202.5,1025.0 L1203.0,1025.0 L1203.5,1025.1 L1204.0,1025.1 L1204.5,1025.1 L1205.0,1025.1 L1205.0,1034.4 L1205.5,1034.4 L1206.0,1034.5 L1206.5,1034.5 L1207.0,1034.5 L1207.5,1034.5 L1208.0,1034.6 L1208.5,1034.6 L1209.0,1034.6 L1209.0,1020.9 L1209.5,1021.0 L1210.0,1021.0 L1210.5,1021.0 L1211.0,1021.0 L1211.5,1021.1 L1212.0,1021.1 L1212.5,1021.1 L1213.0,1021.2 L1213.0,1023.3 L1213.5,1023.3 L1214.0,1023.3 L1214.5,1023.4 L1215.0,1023.4 L1215.5,1023.4 L1216.0,1023.4 L1216.5,1023.5 L1217.0,1023.5 L1217.0,1032.2 L1217.5,1032.2 L1218.0,1032.2 L1218.5,1032.2 L1219.0,1032.3 L1219.5,1032.3 L1220.0,1032.3 L1220.5,1032.3 L1221.0,1032.4 L1221.0,1033.0 L1221.5,1033.0 L1222.0,1033.0 L1222.5,1033.1 L1223.0,1033.1 L1223.5,1033.1 L1224.0,1033.1 L1224.5,1033.2 L1225.0,1033.2 L1225.0,1032.5 L1225.5,1032.6 L1226.0,1032.6 L1226.5,1032.6 L1227.0,1032.6 L1227.5,1032.7 L1228.0,1032.7 L1228.5,1032.7 L1229.0,1032.7 L1229.0,1032.6 L1229.5,1032.6 L1230.0,1032.6 L1230.5,1032.6 L1231.0,1032.7 L1231.5,1032.7 L1232.0,1032.7 L1232.5,1032.7 L1233.0,1032.8 L1233.0,1036.0 L1233.5,1036.0 L1234.0,1036.0 L1234.5,1036.0 L1235.0,1036.1 L1235.5,1036.1 L1236.0,1036.1 L1236.5,1036.1 L1237.0,1036.2 L1237.0,1032.9 L1237.5,1033.0 L1238.0,1033.0 L1238.5,1033.0 L1239.0,1033.0 L1239.5,1033.1 L1240.0,1033.1 L1240.5,1033.1 L1241.0,1033.1 L1241.0,1032.9 L1241.5,1032.9 L1242.0,1032.9 L1242.5,1033.0 L1243.0,1033.0 L1243.5,1033.0 L1244.0,1033.0 L1244.5,1033.1 L1245.0,1033.1 L1245.0,1037.3 L1245.5,1037.3 L1246.0,1037.3 L1246.5,1037.4 L1247.0,1037.4 L1247.5,1037.4 L1248.0,1037.4 L1248.5,1037.5 L1249.0,1037.5 L1249.0,1028.8 L1249.5,1028.8 L1250.0,1028.8 L1250.5,1028.9 L1251.0,1028.9 L1251.5,1028.9 L1252.0,1028.9 L1252.5,1029.0 L1253.0,1029.0 L1253.0,1035.2 L1253.5,1035.2 L1254.0,1035.2 L1254.5,1035.2 L1255.0,1035.3 L1255.5,1035.3 L1256.0,1035.3 L1256.5,1035.3 L1257.0,1035.4 L1257.0,1031.3 L1257.5,1031.3 L1258.0,1031.3 L1258.5,1031.3 L1259.0,1031.3 L1259.5,1031.4 L1260.0,1031.4 L1260.5,1031.4 L1261.0,1031.4 L1261.0,1033.9 L1261.5,1033.9 L1262.0,1033.9 L1262.5,1033.9 L1263.0,1034.0 L1263.5,1034.0 L1263.5,1058.6 L1263.0,1058.6 L1262.5,1058.6 L1262.0,1058.5 L1261.5,1058.5 L1261.0,1058.5 L1261.0,1056.2 L1260.5,1056.2 L1260.0,1056.1 L1259.5,1056.1 L1259.0,1056.1 L1258.5,1056.1 L1258.0,1056.0 L1257.5,1056.0 L1257.0,1056.0 L1257.0,1056.5 L1256.5,1056.5 L1256.0,1056.4 L1255.5,1056.4 L1255.0,1056.4 L1254.5,1056.4 L1254.0,1056.3 L1253.5,1056.3 L1253.0,1056.3 L1253.0,1059.9 L1252.5,1059.9 L1252.0,1059.9 L1251.5,1059.9 L1251.0,1059.8 L1250.5,1059.8 L1250.0,1059.8 L1249.5,1059.8 L1249.0,1059.7 L1249.0,1065.4 L1248.5,1065.3 L1248.0,1065.3 L1247.5,1065.3 L1247.0,1065.3 L1246.5,1065.3 L1246.0,1065.2 L1245.5,1065.2 L1245.0,1065.2 L1245.0,1066.0 L1244.5,1066.0 L1244.0,1066.0 L1243.5,1065.9 L1243.0,1065.9 L1242.5,1065.9 L1242.0,1065.9 L1241.5,1065.8 L1241.0,1065.8 L1241.0,1058.7 L1240.5,1058.6 L1240.0,1058.6 L1239.5,1058.6 L1239.0,1058.6 L1238.5,1058.5 L1238.0,1058.5 L1237.5,1058.5 L1237.0,1058.5 L1237.0,1060.8 L1236.5,1060.7 L1236.0,1060.7 L1235.5,1060.7 L1235.0,1060.7 L1234.5,1060.6 L1234.0,1060.6 L1233.5,1060.6 L1233.0,1060.6 L1233.0,1057.7 L1232.5,1057.7 L1232.0,1057.6 L1231.5,1057.6 L1231.0,1057.6 L1230.5,1057.6 L1230.0,1057.5 L1229.5,1057.5 L1229.0,1057.5 L1229.0,1053.1 L1228.5,1053.1 L1228.0,1053.0 L1227.5,1053.0 L1227.0,1053.0 L1226.5,1053.0 L1226.0,1052.9 L1225.5,1052.9 L1225.0,1052.9 L1225.0,1063.9 L1224.5,1063.9 L1224.0,1063.9 L1223.5,1063.9 L1223.0,1063.8 L1222.5,1063.8 L1222.0,1063.8 L1221.5,1063.8 L1221.0,1063.7 L1221.0,1055.3 L1220.5,1055.2 L1220.0,1055.2 L1219.5,1055.2 L1219.0,1055.2 L1218.5,1055.1 L1218.0,1055.1 L1217.5,1055.1 L1217.0,1055.1 L1217.0,1059.2 L1216.5,1059.2 L1216.0,1059.2 L1215.5,1059.2 L1215.0,1059.1 L1214.5,1059.1 L1214.0,1059.1 L1213.5,1059.1 L1213.0,1059.0 L1213.0,1068.7 L1212.5,1068.7 L1212.0,1068.6 L1211.5,1068.6 L1211.0,1068.6 L1210.5,1068.6 L1210.0,1068.5 L1209.5,1068.5 L1209.0,1068.5 L1209.0,1054.7 L1208.5,1054.6 L1208.0,1054.6 L1207.5,1054.6 L1207.0,1054.6 L1206.5,1054.5 L1206.0,1054.5 L1205.5,1054.5 L1205.0,1054.5 L1205.0,1060.5 L1204.5,1060.5 L1204.0,1060.5 L1203.5,1060.4 L1203.0,1060.4 L1202.5,1060.4 L1202.0,1060.4 L1201.5,1060.3 L1201.0,1060.3 L1201.0,1055.9 L1200.5,1055.9 L1200.0,1055.8 L1199.5,1055.8 L1199.0,1055.8 L1198.5,1055.7 L1198.0,1055.7 L1197.5,1055.7 L1197.0,1055.6 L1197.0,1057.6 L1196.5,1057.5 L1196.0,1057.5 L1195.5,1057.5 L1195.0,1057.4 L1194.5,1057.4 L1194.0,1057.4 L1193.5,1057.3 L1193.0,1057.3 L1193.0,1060.8 L1192.5,1060.8 L1192.0,1060.7 L1191.5,1060.7 L1191.0,1060.7 L1190.5,1060.6 L1190.0,1060.6 L1189.5,1060.6 L1189.0,1060.5 L1189.0,1050.8 L1188.5,1050.8 L1188.0,1050.7 L1187.5,1050.7 L1187.0,1050.7 L1186.5,1050.6 L1186.0,1050.6 L1185.5,1050.6 L1185.0,1050.5 L1185.0,1058.2 L1184.5,1058.1 L1184.0,1058.1 L1183.5,1058.1 L1183.0,1058.0 L1182.5,1058.0 L1182.0,1058.0 L1181.5,1057.9 L1181.0,1057.9 L1181.0,1056.5 L1180.5,1056.4 L1180.0,1056.4 L1179.5,1056.4 L1179.0,1056.3 L1178.5,1056.3 L1178.0,1056.3 L1177.5,1056.2 L1177.0,1056.2 L1177.0,1057.8 L1176.5,1057.8 L1176.0,1057.8 L1175.5,1057.7 L1175.0,1057.7 L1174.5,1057.6 L1174.0,1057.6 L1173.5,1057.6 L1173.0,1057.5 L1173.0,1048.7 L1172.5,1048.7 L1172.0,1048.6 L1171.5,1048.6 L1171.0,1048.6 L1170.5,1048.5 L1170.0,1048.5 L1169.5,1048.4 L1169.0,1048.4 L1169.0,1052.9 L1168.5,1052.9 L1168.0,1052.8 L1167.5,1052.8 L1167.0,1052.8 L1166.5,1052.7 L1166.0,1052.7 L1165.5,1052.6 L1165.0,1052.6 L1165.0,1057.5 L1164.5,1057.5 L1164.0,1057.4 L1163.5,1057.4 L1163.0,1057.4 L1162.5,1057.3 L1162.0,1057.3 L1161.5,1057.2 L1161.0,1057.2 L1161.0,1050.0 L1160.5,1050.0 L1160.0,1050.0 L1159.5,1049.9 L1159.0,1049.9 L1158.5,1049.8 L1158.0,1049.8 L1157.5,1049.7 L1157.0,1049.7 L1157.0,1060.4 L1156.5,1060.4 L1156.0,1060.4 L1155.5,1060.3 L1155.0,1060.3 L1154.5,1060.2 L1154.0,1060.2 L1153.5,1060.1 L1153.0,1060.1 L1153.0,1052.2 L1152.5,1052.2 L1152.0,1052.1 L1151.5,1052.1 L1151.0,1052.0 L1150.5,1052.0 L1150.0,1051.9 L1149.5,1051.9 L1149.0,1051.8 L1149.0,1053.5 L1148.5,1053.4 L1148.0,1053.4 L1147.5,1053.3 L1147.0,1053.3 L1146.5,1053.2 L1146.0,1053.2 L1145.5,1053.1 L1145.0,1053.1 L1145.0,1052.7 L1144.5,1052.6 L1144.0,1052.5 L1143.5,1052.5 L1143.0,1052.4 L1142.5,1052.4 L1142.0,1052.3 L1141.5,1052.3 L1141.0,1052.2 L1141.0,1049.8 L1140.5,1049.8 L1140.0,1049.7 L1139.5,1049.7 L1139.0,1049.6 L1138.5,1049.6 L1138.0,1049.5 L1137.5,1049.4 L1137.0,1049.4 L1137.0,1047.4 L1136.5,1047.4 L1136.0,1047.3 L1135.5,1047.2 L1135.0,1047.2 L1134.5,1047.1 L1134.0,1047.1 L1133.5,1047.0 L1133.0,1046.9 L1133.0,1058.5 L1132.5,1058.5 L1132.0,1058.4 L1131.5,1058.3 L1131.0,1058.3 L1130.5,1058.2 L1130.0,1058.2 L1129.5,1058.1 L1129.0,1058.0 L1129.0,1049.4 L1128.5,1049.3 L1128.0,1049.2 L1127.5,1049.2 L1127.0,1049.1 L1126.5,1049.0 L1126.0,1049.0 L1125.5,1048.9 L1125.0,1048.9 L1125.0,1049.7 L1124.5,1049.6 L1124.0,1049.5 L1123.5,1049.3 L1123.0,1049.2 L1122.5,1049.1 L1122.0,1048.9 L1121.5,1048.8 L1121.0,1048.7 L1121.0,1049.8 L1120.5,1049.7 L1120.0,1049.5 L1119.5,1049.4 L1119.0,1049.3 L1118.5,1049.1 L1118.0,1049.0 L1117.5,1048.9 L1117.0,1048.7 L1117.0,1047.6 L1116.5,1047.5 L1116.0,1047.4 L1115.5,1047.2 L1115.0,1047.1 L1114.5,1046.9 L1114.0,1046.8 L1113.5,1046.7 L1113.0,1046.5 L1113.0,1037.6 L1112.5,1037.5 L1112.0,1037.3 L1111.5,1037.2 L1111.0,1037.1 L1110.5,1036.9 L1110.0,1036.8 L1109.5,1036.6 L1109.0,1036.5 L1109.0,1042.3 L1108.5,1042.2 L1108.0,1042.0 L1107.5,1041.9 L1107.0,1041.7 L1106.5,1041.6 L1106.0,1041.4 L1105.5,1041.3 L1105.0,1041.1 L1105.0,1041.1 L1104.5,1041.0 L1104.0,1040.8 L1103.5,1040.7 L1103.0,1040.5 L1102.5,1040.4 L1102.0,1040.2 L1101.5,1040.0 L1101.0,1039.9 L1101.0,1041.5 L1100.5,1041.4 L1100.0,1041.3 L1099.5,1041.1 L1099.0,1040.8 L1098.5,1040.5 L1098.0,1040.3 L1097.5,1040.0 L1097.0,1039.7 L1097.0,1041.3 L1096.5,1041.1 L1096.0,1040.8 L1095.5,1040.5 L1095.0,1040.2 L1094.5,1040.0 L1094.0,1039.7 L1093.5,1039.4 L1093.0,1039.1 L1093.0,1032.3 L1092.5,1032.0 L1092.0,1031.8 L1091.5,1031.5 L1091.0,1031.2 L1090.5,1030.9 L1090.0,1030.6 L1089.5,1030.3 L1089.0,1030.0 L1089.0,1041.6 L1088.5,1041.3 L1088.0,1041.0 L1087.5,1040.7 L1087.0,1040.5 L1086.5,1040.2 L1086.0,1039.9 L1085.5,1039.6 L1085.0,1039.3 L1085.0,1034.0 L1084.5,1033.7 L1084.0,1033.4 L1083.5,1033.1 L1083.0,1032.8 L1082.5,1032.5 L1082.0,1032.2 L1081.5,1031.9 L1081.0,1031.6 L1081.0,1029.5 L1080.5,1029.2 L1080.0,1028.9 L1079.5,1028.6 L1079.0,1028.2 L1078.5,1027.9 L1078.0,1027.6 L1077.5,1027.3 L1077.0,1027.0 L1077.0,1031.3 L1076.5,1031.0 L1076.0,1030.7 L1075.5,1030.4 L1075.0,1029.9 L1074.5,1029.7 L1074.0,1029.6 L1073.5,1029.5 L1073.0,1029.4 L1073.0,1019.7 L1072.5,1019.5 L1072.0,1019.4 L1071.5,1019.3 L1071.0,1019.2 L1070.5,1019.1 L1070.0,1018.9 L1069.5,1018.8 L1069.0,1018.7 L1069.0,1020.2 L1068.5,1020.0 L1068.0,1019.9 L1067.5,1019.8 L1067.0,1019.6 L1066.5,1019.5 L1066.0,1019.4 L1065.5,1019.2 L1065.0,1019.1 L1065.0,1022.7 L1064.5,1022.6 L1064.0,1022.4 L1063.5,1022.3 L1063.0,1022.2 L1062.5,1022.0 L1062.0,1021.9 L1061.5,1021.7 L1061.0,1021.6 L1061.0,1021.1 L1060.5,1021.0 L1060.0,1020.8 L1059.5,1020.7 L1059.0,1020.5 L1058.5,1020.3 L1058.0,1020.2 L1057.5,1020.0 L1057.0,1019.8 L1057.0,1023.8 L1056.5,1023.6 L1056.0,1023.5 L1055.5,1023.3 L1055.0,1023.1 L1054.5,1023.0 L1054.0,1022.8 L1053.5,1022.6 L1053.0,1022.4 L1053.0,1015.5 L1052.5,1015.3 L1052.0,1015.2 L1051.5,1015.0 L1051.0,1014.8 L1050.5,1014.6 L1050.0,1014.4 L1049.5,1014.2 L1049.0,1014.1 L1049.0,1013.9 L1048.5,1013.8 L1048.0,1013.7 L1047.5,1013.6 L1047.0,1013.5 L1046.5,1013.4 L1046.0,1013.3 L1045.5,1013.1 L1045.0,1013.0 L1045.0,1018.0 L1044.5,1017.9 L1044.0,1017.8 L1043.5,1017.7 L1043.0,1017.5 L1042.5,1017.4 L1042.0,1017.3 L1041.5,1017.2 L1041.0,1017.0 L1041.0,1018.8 L1040.5,1018.7 L1040.0,1018.5 L1039.5,1018.4 L1039.0,1018.2 L1038.5,1018.1 L1038.0,1018.0 L1037.5,1017.8 L1037.0,1017.7 L1037.0,1016.3 L1036.5,1016.2 L1036.0,1016.0 L1035.5,1015.9 L1035.0,1015.7 L1034.5,1015.6 L1034.0,1015.4 L1033.5,1015.3 L1033.0,1015.1 L1033.0,1009.7 L1032.5,1009.6 L1032.0,1009.4 L1031.5,1009.3 L1031.0,1009.1 L1030.5,1008.9 L1030.0,1008.8 L1029.5,1008.6 L1029.0,1008.4 L1029.0,1007.4 L1028.5,1007.2 L1028.0,1007.1 L1027.5,1006.9 L1027.0,1006.7 L1026.5,1006.5 L1026.0,1006.4 L1025.5,1006.2 L1025.0,1006.0 L1025.0,1011.2 L1024.5,1011.0 L1024.0,1010.8 L1023.5,1010.6 L1023.0,1010.5 L1022.5,1010.3 L1022.0,1010.1 L1021.5,1009.9 L1021.0,1009.7 L1021.0,1005.4 L1020.5,1005.2 L1020.0,1005.0 L1019.5,1004.8 L1019.0,1004.6 L1018.5,1004.4 L1018.0,1004.2 L1017.5,1004.0 L1017.0,1003.9 L1017.0,1008.7 L1016.5,1008.5 L1016.0,1008.3 L1015.5,1008.1 L1015.0,1007.9 L1014.5,1007.7 L1014.0,1007.6 L1013.5,1007.4 L1013.0,1007.1 L1013.0,1009.9 L1012.5,1009.7 L1012.0,1009.4 L1011.5,1009.2 L1011.0,1008.9 L1010.5,1008.7 L1010.0,1008.4 L1009.5,1008.2 L1009.0,1008.1 L1009.0,998.9 L1008.5,998.8 L1008.0,998.7 L1007.5,998.5 L1007.0,998.4 L1006.5,998.3 L1006.0,998.2 L1005.5,998.1 L1005.0,998.0 L1005.0,999.2 L1004.5,999.1 L1004.0,999.0 L1003.5,998.9 L1003.0,998.8 L1002.5,998.6 L1002.0,998.5 L1001.5,998.4 L1001.0,998.3 L1001.0,998.2 L1000.5,998.1 L1000.0,998.0 L999.5,997.9 L999.0,997.8 L998.5,997.7 L998.0,997.6 L997.5,997.4 L997.0,997.3 L997.0,1002.8 L996.5,1002.7 L996.0,1002.6 L995.5,1002.5 L995.0,1002.4 L994.5,1002.3 L994.0,1002.1 L993.5,1002.1 L993.0,1002.0 L993.0,1011.6 L992.5,1011.6 L992.0,1011.5 L991.5,1011.4 L991.0,1011.4 L990.5,1011.3 L990.0,1011.3 L989.5,1011.1 L989.0,1010.8 L989.0,1007.8 L988.5,1007.5 L988.0,1007.2 L987.5,1006.9 L987.0,1006.6 L986.5,1006.3 L986.0,1006.0 L985.5,1005.7 L985.0,1005.4 L985.0,996.7 L984.5,996.4 L984.0,996.1 L983.5,995.8 L983.0,995.5 L982.5,995.2 L982.0,994.9 L981.5,994.7 L981.0,994.4 L981.0,994.0 L980.5,993.7 L980.0,993.4 L979.5,993.1 L979.0,992.9 L978.5,992.6 L978.0,992.3 L977.5,992.0 L977.0,991.8 L977.0,993.3 L976.5,993.1 L976.0,992.8 L975.5,992.5 L975.0,992.3 L974.5,992.0 L974.0,991.8 L973.5,991.5 L973.0,991.3 L973.0,990.9 L972.5,990.7 L972.0,990.4 L971.5,990.1 L971.0,989.8 L970.5,989.6 L970.0,989.3 L969.5,989.0 L969.0,988.7 L969.0,988.0 L968.5,987.8 L968.0,987.5 L967.5,987.2 L967.0,987.0 L966.5,986.7 L966.0,986.5 L965.5,986.2 L965.0,986.0 L965.0,991.9 L964.5,991.6 L964.0,991.4 L963.5,991.2 L963.0,990.9 L962.5,990.7 L962.0,990.4 L961.5,990.2 L961.0,990.0 L961.0,991.1 L960.5,990.9 L960.0,990.7 L959.5,990.5 L959.0,990.2 L958.5,990.0 L958.0,989.8 L957.5,989.6 L957.0,989.4 L957.0,987.8 L956.5,987.6 L956.0,987.4 L955.5,987.2 L955.0,987.0 L954.5,986.8 L954.0,986.6 L953.5,986.5 L953.0,986.3 L953.0,989.3 L952.5,989.1 L952.0,988.9 L951.5,988.7 L951.0,988.5 L950.5,988.4 L950.0,988.2 L949.5,988.0 L949.0,987.7 L949.0,990.0 L948.5,989.7 L948.0,989.5 L947.5,989.2 L947.0,988.9 L946.5,988.6 L946.0,988.4 L945.5,988.1 L945.0,987.9 L945.0,978.9 L944.5,978.6 L944.0,978.4 L943.5,978.1 L943.0,977.9 L942.5,977.7 L942.0,977.4 L941.5,977.2 L941.0,977.0 L941.0,980.6 L940.5,980.3 L940.0,980.1 L939.5,979.9 L939.0,979.7 L938.5,979.4 L938.0,979.2 L937.5,979.0 L937.0,978.8 L937.0,975.5 L936.5,975.3 L936.0,975.1 L935.5,974.9 L935.0,974.7 L934.5,974.5 L934.0,974.3 L933.5,974.1 L933.0,973.8 L933.0,976.7 L932.5,976.5 L932.0,976.4 L931.5,976.3 L931.0,976.1 L930.5,976.0 L930.0,975.9 L929.5,975.8 L929.0,975.6 L929.0,974.0 L928.5,973.8 L928.0,973.7 L927.5,973.6 L927.0,973.5 L926.5,973.3 L926.0,973.2 L925.5,973.1 L925.0,972.9 L925.0,980.1 L924.5,980.0 L924.0,979.8 L923.5,979.7 L923.0,979.5 L922.5,979.4 L922.0,979.2 L921.5,979.0 L921.0,978.8 L921.0,968.9 L920.5,968.8 L920.0,968.6 L919.5,968.4 L919.0,968.1 L918.5,967.9 L918.0,967.7 L917.5,967.4 L917.0,967.2 L917.0,972.7 L916.5,972.4 L916.0,972.3 L915.5,971.6 L915.0,971.2 L914.5,971.1 L914.0,970.9 L913.5,970.8 L913.0,970.5 L913.0,972.0 L912.5,971.7 L912.0,971.3 L911.5,970.8 L911.0,970.2 L910.5,969.7 L910.0,969.1 L909.5,968.5 L909.0,967.7 L909.0,965.9 L908.5,965.0 L908.0,963.1 L907.5,961.7 L907.0,960.9 L906.5,960.0 L906.0,959.0 L905.5,958.0 L905.0,957.0 L905.0,956.9 L904.5,955.8 L904.0,954.8 L903.5,953.5 L903.0,952.0 L902.5,950.5 L902.0,949.0 L901.5,947.4 L901.0,945.8 L901.0,947.9 L900.5,946.2 L900.0,944.5 L899.5,942.8 L899.0,941.0 L898.5,939.2 L898.0,937.4 L897.5,935.5 L897.0,932.2 L897.0,926.0 L896.5,923.8 L896.0,922.9 L895.5,922.0 L895.0,921.1 L894.5,920.2 L894.0,919.3 L893.5,918.4 L893.0,917.3 L893.0,920.5 L892.5,919.4 L892.0,918.3 L891.5,917.3 L891.0,916.2 L890.5,915.1 L890.0,914.0 L889.5,912.9 L889.0,911.8 L889.0,904.5 L888.5,903.4 L888.0,902.4 L887.5,901.3 L887.0,900.0 L886.5,898.7 L886.0,897.4 L885.5,896.1 L885.0,894.7 L885.0,910.0 L884.5,908.7 L884.0,907.3 L883.5,905.9 L883.0,904.6 L882.5,903.3 L882.0,902.0 L881.5,900.7 L881.0,899.3 L881.0,892.4 L880.5,891.0 L880.0,891.0 L879.5,889.8 L879.0,887.3 L878.5,884.8 L878.0,882.3 L877.5,879.7 L877.0,877.1 L877.0,876.6 L876.5,874.0 L876.0,871.4 L875.5,868.7 L875.0,866.1 L874.5,863.4 L874.0,860.8 L873.5,858.1 L873.0,855.4 L873.0,852.6 L872.5,850.0 L872.0,846.9 L871.5,844.0 L871.0,841.6 L870.5,839.5 L870.0,837.4 L869.5,835.3 L869.0,833.2 L869.0,837.4 L868.5,835.3 L868.0,833.9 L867.5,831.9 L867.0,829.2 L866.5,826.5 L866.0,823.9 L865.5,821.4 L865.0,819.4 L865.0,827.4 L864.5,825.7 L864.0,823.0 L863.5,819.9 L863.0,816.9 L862.5,814.2 L862.0,810.5 L861.5,808.3 L861.0,807.3 L861.0,808.9 L860.5,808.1 L860.0,808.3 L859.5,807.7 L859.0,806.0 L858.5,804.4 L858.0,802.9 L857.5,801.5 L857.0,800.3 L857.0,787.9 L856.5,786.7 L856.0,785.6 L855.5,784.6 L855.0,783.7 L854.5,782.9 L854.0,782.2 L853.5,781.7 L853.0,781.2 L853.0,785.4 L852.5,785.1 L852.0,784.9 L851.5,784.8 L851.0,784.8 L850.5,785.2 L850.0,785.4 L849.5,785.2 L849.0,785.1 L849.0,792.9 L848.5,792.9 L848.0,792.9 L847.5,793.1 L847.0,793.4 L846.5,793.7 L846.0,794.1 L845.5,794.6 L845.0,795.1 L845.0,790.3 L844.5,790.9 L844.0,791.5 L843.5,792.1 L843.0,792.8 L842.5,793.5 L842.0,794.2 L841.5,795.0 L841.0,795.7 L841.0,793.7 L840.5,794.5 L840.0,795.2 L839.5,796.0 L839.0,796.7 L838.5,797.4 L838.0,798.1 L837.5,798.8 L837.0,799.5 L837.0,788.3 L836.5,789.0 L836.0,789.8 L835.5,790.8 L835.0,791.6 L834.5,792.3 L834.0,793.0 L833.5,793.6 L833.0,794.2 L833.0,813.2 L832.5,813.7 L832.0,814.2 L831.5,814.6 L831.0,814.9 L830.5,815.2 L830.0,815.4 L829.5,815.6 L829.0,815.7 L829.0,811.2 L828.5,811.2 L828.0,811.3 L827.5,811.2 L827.0,811.2 L826.5,811.0 L826.0,810.9 L825.5,810.6 L825.0,810.3 L825.0,800.9 L824.5,800.5 L824.0,800.1 L823.5,799.6 L823.0,798.1 L822.5,798.7 L822.0,798.7 L821.5,798.9 L821.0,799.0 L821.0,800.5 L820.5,800.3 L820.0,799.6 L819.5,798.6 L819.0,797.2 L818.5,795.4 L818.0,793.9 L817.5,791.5 L817.0,788.9 L817.0,796.4 L816.5,793.3 L816.0,785.6 L815.5,780.4 L815.0,778.6 L814.5,776.7 L814.0,774.9 L813.5,773.1 L813.0,771.2 L813.0,776.7 L812.5,774.7 L812.0,773.0 L811.5,771.3 L811.0,769.6 L810.5,767.9 L810.0,766.2 L809.5,764.6 L809.0,762.9 L809.0,762.5 L808.5,760.8 L808.0,759.2 L807.5,757.6 L807.0,756.0 L806.5,754.4 L806.0,752.8 L805.5,751.3 L805.0,749.8 L805.0,734.0 L804.5,732.5 L804.0,731.1 L803.5,729.8 L803.0,728.4 L802.5,726.7 L802.0,725.1 L801.5,723.5 L801.0,722.0 L801.0,728.5 L800.5,726.9 L800.0,725.3 L799.5,723.7 L799.0,722.2 L798.5,720.8 L798.0,718.3 L797.5,717.0 L797.0,716.6 L797.0,714.3 L796.5,714.0 L796.0,713.6 L795.5,713.2 L795.0,712.6 L794.5,713.2 L794.0,713.5 L793.5,713.9 L793.0,714.3 L793.0,705.7 L792.5,706.1 L792.0,706.4 L791.5,706.8 L791.0,707.2 L790.5,707.5 L790.0,707.6 L789.5,707.6 L789.0,707.0 L789.0,718.9 L788.5,718.4 L788.0,718.0 L787.5,717.6 L787.0,717.3 L786.5,717.1 L786.0,716.9 L785.5,716.8 L785.0,717.1 L785.0,709.7 L784.5,709.5 L784.0,708.7 L783.5,708.0 L783.0,707.3 L782.5,706.7 L782.0,706.1 L781.5,705.6 L781.0,705.1 L781.0,720.0 L780.5,719.6 L780.0,719.2 L779.5,718.8 L779.0,718.4 L778.5,718.4 L778.0,718.5 L777.5,718.5 L777.0,718.7 L777.0,712.9 L776.5,713.1 L776.0,713.3 L775.5,713.5 L775.0,713.8 L774.5,714.1 L774.0,714.4 L773.5,714.7 L773.0,715.0 L773.0,708.1 L772.5,708.5 L772.0,708.9 L771.5,709.3 L771.0,709.7 L770.5,710.1 L770.0,710.5 L769.5,710.9 L769.0,711.4 L769.0,714.4 L768.5,714.8 L768.0,715.2 L767.5,715.7 L767.0,716.1 L766.5,716.5 L766.0,716.9 L765.5,717.3 L765.0,717.8 L765.0,727.6 L764.5,728.2 L764.0,728.7 L763.5,729.2 L763.0,729.7 L762.5,730.1 L762.0,730.6 L761.5,731.0 L761.0,731.4 L761.0,720.6 L760.5,721.0 L760.0,721.3 L759.5,721.7 L759.0,722.0 L758.5,722.3 L758.0,722.5 L757.5,722.7 L757.0,723.0 L757.0,731.4 L756.5,731.6 L756.0,731.7 L755.5,731.8 L755.0,731.9 L754.5,732.0 L754.0,732.0 L753.5,732.0 L753.0,732.0 L753.0,727.4 L752.5,727.3 L752.0,727.4 L751.5,727.2 L751.0,726.8 L750.5,726.3 L750.0,725.8 L749.5,725.3 L749.0,724.8 L749.0,724.9 L748.5,724.3 L748.0,723.6 L747.5,723.0 L747.0,722.3 L746.5,721.5 L746.0,720.3 L745.5,719.5 L745.0,719.1 L745.0,735.2 L744.5,734.8 L744.0,734.3 L743.5,733.7 L743.0,733.2 L742.5,732.6 L742.0,731.9 L741.5,731.3 L741.0,730.6 L741.0,726.8 L740.5,726.1 L740.0,725.5 L739.5,724.7 L739.0,723.7 L738.5,722.6 L738.0,721.5 L737.5,720.4 L737.0,719.2 L737.0,708.7 L736.5,707.5 L736.0,706.2 L735.5,705.0 L735.0,704.0 L734.5,702.7 L734.0,701.1 L733.5,699.5 L733.0,697.8 L733.0,706.6 L732.5,704.9 L732.0,703.2 L731.5,701.5 L731.0,699.6 L730.5,697.8 L730.0,696.1 L729.5,694.3 L729.0,692.5 L729.0,688.1 L728.5,686.2 L728.0,684.4 L727.5,682.5 L727.0,680.6 L726.5,678.7 L726.0,676.8 L725.5,674.8 L725.0,672.9 L725.0,675.3 L724.5,673.3 L724.0,671.3 L723.5,669.3 L723.0,667.3 L722.5,665.3 L722.0,663.3 L721.5,661.2 L721.0,659.2 L721.0,649.3 L720.5,647.3 L720.0,645.2 L719.5,643.1 L719.0,641.0 L718.5,638.9 L718.0,636.8 L717.5,634.7 L717.0,632.5 L717.0,623.4 L716.5,621.3 L716.0,619.1 L715.5,617.0 L715.0,614.8 L714.5,612.3 L714.0,610.2 L713.5,608.4 L713.0,606.5 L713.0,621.8 L712.5,620.0 L712.0,618.1 L711.5,616.2 L711.0,614.4 L710.5,612.5 L710.0,610.6 L709.5,608.7 L709.0,606.9 L709.0,602.4 L708.5,600.6 L708.0,598.7 L707.5,596.8 L707.0,595.0 L706.5,593.1 L706.0,591.3 L705.5,589.4 L705.0,587.5 L705.0,596.0 L704.5,594.2 L704.0,592.3 L703.5,590.5 L703.0,588.6 L702.5,586.9 L702.0,585.1 L701.5,583.2 L701.0,581.2 L701.0,578.9 L700.5,576.9 L700.0,574.9 L699.5,572.8 L699.0,570.7 L698.5,568.7 L698.0,566.6 L697.5,564.5 L697.0,562.3 L697.0,553.4 L696.5,551.3 L696.0,549.1 L695.5,546.8 L695.0,544.6 L694.5,542.2 L694.0,539.9 L693.5,537.5 L693.0,535.0 L693.0,537.8 L692.5,535.3 L692.0,532.7 L691.5,530.1 L691.0,527.4 L690.5,524.7 L690.0,521.4 L689.5,518.5 L689.0,516.1 L689.0,509.7 L688.5,507.2 L688.0,504.8 L687.5,502.3 L687.0,499.9 L686.5,497.4 L686.0,495.0 L685.5,492.6 L685.0,490.2 L685.0,502.9 L684.5,500.6 L684.0,498.3 L683.5,496.1 L683.0,494.0 L682.5,492.0 L682.0,490.0 L681.5,488.2 L681.0,486.4 L681.0,471.5 L680.5,469.8 L680.0,468.2 L679.5,466.7 L679.0,465.3 L678.5,464.0 L678.0,462.7 L677.5,461.4 L677.0,460.2 L677.0,465.6 L676.5,464.5 L676.0,463.3 L675.5,462.2 L675.0,461.0 L674.5,459.8 L674.0,458.6 L673.5,457.3 L673.0,455.9 L673.0,454.8 L672.5,453.3 L672.0,451.8 L671.5,450.2 L671.0,448.5 L670.5,446.7 L670.0,444.8 L669.5,442.8 L669.0,440.6 L669.0,451.4 L668.5,449.1 L668.0,446.2 L667.5,443.6 L667.0,441.3 L666.5,439.0 L666.0,436.5 L665.5,433.9 L665.0,431.2 L665.0,424.0 L664.5,421.2 L664.0,418.3 L663.5,415.4 L663.0,412.3 L662.5,409.2 L662.0,405.9 L661.5,402.6 L661.0,399.2 L661.0,393.9 L660.5,390.5 L660.0,388.4 L659.5,385.1 L659.0,380.2 L658.5,375.1 L658.0,369.9 L657.5,364.6 L657.0,359.2 L657.0,358.4 L656.5,352.9 L656.0,347.2 L655.5,341.5 L655.0,337.2 L654.5,331.5 L654.0,324.2 L653.5,316.7 L653.0,309.0 L653.0,312.2 L652.5,304.5 L652.0,296.6 L651.5,288.7 L651.0,280.7 L650.5,272.5 L650.0,264.4 L649.5,256.2 L649.0,247.9 L649.0,241.3 L648.5,233.1 L648.0,224.3 L647.5,216.0 L647.0,208.3 L646.5,200.6 L646.0,193.0 L645.5,185.4 L645.0,178.0 L645.0,181.3 L644.5,174.0 L644.0,166.8 L643.5,159.8 L643.0,153.0 L642.5,146.4 L642.0,140.0 L641.5,134.0 L641.0,127.9 L641.0,129.6 L640.5,123.9 L640.0,118.7 L639.5,113.9 L639.0,109.4 L638.5,105.3 L638.0,101.7 L637.5,98.5 L637.0,95.8 L637.0,90.9 L636.5,88.7 L636.0,87.2 L635.5,86.8 L635.0,88.0 L634.5,90.1 L634.0,92.5 L633.5,95.4 L633.0,98.7 L633.0,109.4 L632.5,113.2 L632.0,117.4 L631.5,122.0 L631.0,127.0 L630.5,132.3 L630.0,138.0 L629.5,144.0 L629.0,150.3 L629.0,151.0 L628.5,157.6 L628.0,164.4 L627.5,171.5 L627.0,178.7 L626.5,186.2 L626.0,193.8 L625.5,201.5 L625.0,209.4 L625.0,200.2 L624.5,208.2 L624.0,216.3 L623.5,224.6 L623.0,232.8 L622.5,241.2 L622.0,249.6 L621.5,258.0 L621.0,266.5 L621.0,264.0 L620.5,272.5 L620.0,278.5 L619.5,282.4 L619.0,288.8 L618.5,295.1 L618.0,301.4 L617.5,307.7 L617.0,314.0 L617.0,325.4 L616.5,331.6 L616.0,337.8 L615.5,344.0 L615.0,350.1 L614.5,356.2 L614.0,362.2 L613.5,368.2 L613.0,374.2 L613.0,363.2 L612.5,369.1 L612.0,372.6 L611.5,374.1 L611.0,378.0 L610.5,381.8 L610.0,385.6 L609.5,389.4 L609.0,393.2 L609.0,398.6 L608.5,402.3 L608.0,406.0 L607.5,409.7 L607.0,413.4 L606.5,417.0 L606.0,424.8 L605.5,436.1 L605.0,442.9 L605.0,436.2 L604.5,442.9 L604.0,449.4 L603.5,455.7 L603.0,462.0 L602.5,468.1 L602.0,474.0 L601.5,479.8 L601.0,485.5 L601.0,496.2 L600.5,501.8 L600.0,507.1 L599.5,512.4 L599.0,517.5 L598.5,522.5 L598.0,527.4 L597.5,532.1 L597.0,536.7 L597.0,531.4 L596.5,535.9 L596.0,542.2 L595.5,550.1 L595.0,555.5 L594.5,560.8 L594.0,566.0 L593.5,570.9 L593.0,575.7 L593.0,574.4 L592.5,579.0 L592.0,583.5 L591.5,587.9 L591.0,592.1 L590.5,596.2 L590.0,600.2 L589.5,604.2 L589.0,608.0 L589.0,610.8 L588.5,614.5 L588.0,618.3 L587.5,621.9 L587.0,625.5 L586.5,629.0 L586.0,632.4 L585.5,635.8 L585.0,639.2 L585.0,632.2 L584.5,635.6 L584.0,638.9 L583.5,642.1 L583.0,645.4 L582.5,648.6 L582.0,651.8 L581.5,654.9 L581.0,658.1 L581.0,658.0 L580.5,661.1 L580.0,664.2 L579.5,667.4 L579.0,670.5 L578.5,673.6 L578.0,676.6 L577.5,679.7 L577.0,682.8 L577.0,688.1 L576.5,691.2 L576.0,694.2 L575.5,697.3 L575.0,699.6 L574.5,701.2 L574.0,703.7 L573.5,706.1 L573.0,708.5 L573.0,711.2 L572.5,713.7 L572.0,716.1 L571.5,718.4 L571.0,720.8 L570.5,723.2 L570.0,725.6 L569.5,728.0 L569.0,730.4 L569.0,722.9 L568.5,725.3 L568.0,727.6 L567.5,730.0 L567.0,732.4 L566.5,734.7 L566.0,737.1 L565.5,739.4 L565.0,741.8 L565.0,742.2 L564.5,744.5 L564.0,746.9 L563.5,749.2 L563.0,751.5 L562.5,753.8 L562.0,756.1 L561.5,758.4 L561.0,760.7 L561.0,762.5 L560.5,764.8 L560.0,767.1 L559.5,769.4 L559.0,771.7 L558.5,774.0 L558.0,776.2 L557.5,778.5 L557.0,780.7 L557.0,785.8 L556.5,788.0 L556.0,790.3 L555.5,792.5 L555.0,794.7 L554.5,796.9 L554.0,799.1 L553.5,801.3 L553.0,803.5 L553.0,800.3 L552.5,802.4 L552.0,804.6 L551.5,806.8 L551.0,808.9 L550.5,811.1 L550.0,813.2 L549.5,815.4 L549.0,817.5 L549.0,819.6 L548.5,821.7 L548.0,823.8 L547.5,825.9 L547.0,828.0 L546.5,830.1 L546.0,832.1 L545.5,834.2 L545.0,835.0 L545.0,837.8 L544.5,837.6 L544.0,838.6 L543.5,839.6 L543.0,840.5 L542.5,841.5 L542.0,842.5 L541.5,843.5 L541.0,844.4 L541.0,833.1 L540.5,834.0 L540.0,835.0 L539.5,836.0 L539.0,836.9 L538.5,837.9 L538.0,838.9 L537.5,839.8 L537.0,840.8 L537.0,853.1 L536.5,854.1 L536.0,855.0 L535.5,856.0 L535.0,856.9 L534.5,857.9 L534.0,858.8 L533.5,859.8 L533.0,860.7 L533.0,854.3 L532.5,855.2 L532.0,856.2 L531.5,857.1 L531.0,858.0 L530.5,858.9 L530.0,859.8 L529.5,860.8 L529.0,861.7 L529.0,859.0 L528.5,859.9 L528.0,860.8 L527.5,861.7 L527.0,862.7 L526.5,863.6 L526.0,864.5 L525.5,865.4 L525.0,866.3 L525.0,868.9 L524.5,869.8 L524.0,870.7 L523.5,871.6 L523.0,872.5 L522.5,873.4 L522.0,874.3 L521.5,875.2 L521.0,876.1 L521.0,874.8 L520.5,875.7 L520.0,876.6 L519.5,877.5 L519.0,878.4 L518.5,879.2 L518.0,880.1 L517.5,881.0 L517.0,881.8 L517.0,883.1 L516.5,883.9 L516.0,884.8 L515.5,885.7 L515.0,887.0 L514.5,888.7 L514.0,889.9 L513.5,891.2 L513.0,892.4 L513.0,897.8 L512.5,899.1 L512.0,900.3 L511.5,901.5 L511.0,902.8 L510.5,904.0 L510.0,905.2 L509.5,906.4 L509.0,907.6 L509.0,905.5 L508.5,906.7 L508.0,907.9 L507.5,909.1 L507.0,910.3 L506.5,911.4 L506.0,912.6 L505.5,913.8 L505.0,914.9 L505.0,915.1 L504.5,916.2 L504.0,917.4 L503.5,918.5 L503.0,919.6 L502.5,920.8 L502.0,921.9 L501.5,923.0 L501.0,924.1 L501.0,922.2 L500.5,923.3 L500.0,924.6 L499.5,926.1 L499.0,927.4 L498.5,928.6 L498.0,929.9 L497.5,931.1 L497.0,932.4 L497.0,938.6 L496.5,939.8 L496.0,941.0 L495.5,942.2 L495.0,943.4 L494.5,944.6 L494.0,945.8 L493.5,947.0 L493.0,948.2 L493.0,937.7 L492.5,938.9 L492.0,940.0 L491.5,941.2 L491.0,942.3 L490.5,943.4 L490.0,944.6 L489.5,945.7 L489.0,946.8 L489.0,949.8 L488.5,950.9 L488.0,952.0 L487.5,953.1 L487.0,954.2 L486.5,955.2 L486.0,956.3 L485.5,957.4 L485.0,958.4 L485.0,963.7 L484.5,964.7 L484.0,965.8 L483.5,966.8 L483.0,967.8 L482.5,968.8 L482.0,969.8 L481.5,970.8 L481.0,971.8 L481.0,963.2 L480.5,964.2 L480.0,964.6 L479.5,964.6 L479.0,965.1 L478.5,965.6 L478.0,966.1 L477.5,966.5 L477.0,967.0 L477.0,973.4 L476.5,973.9 L476.0,974.4 L475.5,974.8 L475.0,975.3 L474.5,975.8 L474.0,976.2 L473.5,976.7 L473.0,977.1 L473.0,975.2 L472.5,975.6 L472.0,976.1 L471.5,976.5 L471.0,977.0 L470.5,977.4 L470.0,977.9 L469.5,978.3 L469.0,978.7 L469.0,972.7 L468.5,973.2 L468.0,973.6 L467.5,974.0 L467.0,974.5 L466.5,974.9 L466.0,975.3 L465.5,975.7 L465.0,976.7 L465.0,978.0 L464.5,979.5 L464.0,980.5 L463.5,981.4 L463.0,982.4 L462.5,983.3 L462.0,984.2 L461.5,985.1 L461.0,986.0 L461.0,991.1 L460.5,992.0 L460.0,992.9 L459.5,993.7 L459.0,994.6 L458.5,995.5 L458.0,996.3 L457.5,997.1 L457.0,998.0 L457.0,993.6 L456.5,994.4 L456.0,995.3 L455.5,996.1 L455.0,996.9 L454.5,997.6 L454.0,998.4 L453.5,999.2 L453.0,1000.0 L453.0,995.3 L452.5,996.1 L452.0,996.8 L451.5,997.6 L451.0,998.3 L450.5,999.0 L450.0,999.7 L449.5,1000.4 L449.0,1001.1 L449.0,998.1 L448.5,998.8 L448.0,999.5 L447.5,1000.2 L447.0,1000.8 L446.5,1001.5 L446.0,1002.2 L445.5,1002.8 L445.0,1003.4 L445.0,1006.9 L444.5,1007.5 L444.0,1008.1 L443.5,1008.7 L443.0,1009.3 L442.5,1009.9 L442.0,1010.5 L441.5,1011.1 L441.0,1011.7 L441.0,1021.2 L440.5,1021.7 L440.0,1022.3 L439.5,1022.9 L439.0,1023.4 L438.5,1024.0 L438.0,1024.5 L437.5,1025.1 L437.0,1025.6 L437.0,1022.0 L436.5,1022.6 L436.0,1023.1 L435.5,1023.6 L435.0,1024.1 L434.5,1024.6 L434.0,1025.1 L433.5,1025.6 L433.0,1026.1 L433.0,1029.9 L432.5,1030.4 L432.0,1030.9 L431.5,1031.4 L431.0,1031.8 L430.5,1032.3 L430.0,1032.9 L429.5,1033.7 L429.0,1034.3 L429.0,1033.8 L428.5,1034.4 L428.0,1035.0 L427.5,1035.6 L427.0,1036.1 L426.5,1036.7 L426.0,1037.3 L425.5,1037.8 L425.0,1038.3 L425.0,1032.5 L424.5,1033.1 L424.0,1033.6 L423.5,1034.1 L423.0,1034.6 L422.5,1035.0 L422.0,1035.5 L421.5,1036.0 L421.0,1036.4 L421.0,1039.0 L420.5,1039.5 L420.0,1039.9 L419.5,1040.3 L419.0,1040.8 L418.5,1041.2 L418.0,1041.6 L417.5,1042.0 L417.0,1042.4 L417.0,1038.0 L416.5,1038.3 L416.0,1038.7 L415.5,1039.1 L415.0,1039.5 L414.5,1039.8 L414.0,1040.1 L413.5,1040.5 L413.0,1040.8 L413.0,1051.9 L412.5,1052.2 L412.0,1052.6 L411.5,1052.9 L411.0,1053.2 L410.5,1053.5 L410.0,1053.8 L409.5,1054.1 L409.0,1054.4 L409.0,1046.2 L408.5,1046.5 L408.0,1046.7 L407.5,1047.0 L407.0,1047.3 L406.5,1047.5 L406.0,1047.8 L405.5,1048.1 L405.0,1048.3 L405.0,1045.8 L404.5,1046.1 L404.0,1046.3 L403.5,1046.6 L403.0,1046.8 L402.5,1047.0 L402.0,1047.3 L401.5,1047.5 L401.0,1047.7 L401.0,1055.7 L400.5,1055.9 L400.0,1056.1 L399.5,1056.4 L399.0,1056.7 L398.5,1057.0 L398.0,1057.2 L397.5,1057.5 L397.0,1057.7 L397.0,1055.1 L396.5,1055.4 L396.0,1055.7 L395.5,1055.9 L395.0,1056.2 L394.5,1056.4 L394.0,1056.7 L393.5,1056.9 L393.0,1057.2 L393.0,1054.6 L392.5,1054.8 L392.0,1055.1 L391.5,1055.3 L391.0,1055.6 L390.5,1055.8 L390.0,1056.1 L389.5,1056.3 L389.0,1056.5 L389.0,1059.5 L388.5,1059.8 L388.0,1060.0 L387.5,1060.2 L387.0,1060.5 L386.5,1060.7 L386.0,1060.9 L385.5,1061.2 L385.0,1061.4 L385.0,1061.7 L384.5,1061.9 L384.0,1062.2 L383.5,1062.4 L383.0,1062.6 L382.5,1062.8 L382.0,1063.0 L381.5,1063.3 L381.0,1063.5 L381.0,1056.3 L380.5,1056.5 L380.0,1056.7 L379.5,1056.8 L379.0,1056.9 L378.5,1057.1 L378.0,1057.2 L377.5,1057.3 L377.0,1057.4 L377.0,1061.9 L376.5,1062.0 L376.0,1062.1 L375.5,1062.2 L375.0,1062.4 L374.5,1062.5 L374.0,1062.6 L373.5,1062.7 L373.0,1062.8 L373.0,1062.6 L372.5,1062.7 L372.0,1062.8 L371.5,1062.9 L371.0,1063.0 L370.5,1063.1 L370.0,1063.2 L369.5,1063.4 L369.0,1063.5 L369.0,1064.3 L368.5,1064.4 L368.0,1064.5 L367.5,1064.6 L367.0,1064.7 L366.5,1064.9 L366.0,1065.0 L365.5,1065.1 L365.0,1065.2 L365.0,1061.5 L364.5,1061.6 L364.0,1061.7 L363.5,1061.8 L363.0,1061.9 L362.5,1062.0 L362.0,1062.1 L361.5,1062.2 L361.0,1062.3 L361.0,1063.5 L360.5,1063.6 L360.0,1063.7 L359.5,1063.8 L359.0,1063.9 L358.5,1064.0 L358.0,1064.1 L357.5,1064.2 L357.0,1064.3 L357.0,1068.4 L356.5,1068.5 L356.0,1068.6 L355.5,1068.7 L355.0,1068.8 L354.5,1068.9 L354.0,1069.0 L353.5,1069.1 L353.0,1069.2 L353.0,1060.0 L352.5,1060.1 L352.0,1060.2 L351.5,1060.3 L351.0,1060.3 L350.5,1060.4 L350.0,1060.5 L349.5,1060.6 L349.0,1060.7 L349.0,1068.8 L348.5,1068.9 L348.0,1069.0 L347.5,1069.1 L347.0,1069.2 L346.5,1069.3 L346.0,1069.4 L345.5,1069.4 L345.0,1069.5 L345.0,1067.3 L344.5,1067.4 L344.0,1067.4 L343.5,1067.4 L343.0,1067.5 L342.5,1067.5 L342.0,1067.5 L341.5,1067.5 L341.0,1067.6 L341.0,1066.4 L340.5,1066.4 L340.0,1066.5 L339.5,1066.5 L339.0,1066.5 L338.5,1066.5 L338.0,1066.6 L337.5,1066.6 L337.0,1066.6 L337.0,1067.0 L336.5,1067.0 L336.0,1067.0 L335.5,1067.0 L335.0,1067.1 L334.5,1067.1 L334.0,1067.1 L333.5,1067.1 L333.0,1067.2 L333.0,1068.6 L332.5,1068.6 L332.0,1068.6 L331.5,1068.6 L331.0,1068.7 L330.5,1068.7 L330.0,1068.7 L329.5,1068.7 L329.0,1068.7 L329.0,1067.4 L328.5,1067.4 L328.0,1067.5 L327.5,1067.5 L327.0,1067.5 L326.5,1067.5 L326.0,1067.5 L325.5,1067.6 L325.0,1067.6 L325.0,1064.1 L324.5,1064.2 L324.0,1064.2 L323.5,1064.2 L323.0,1064.2 L322.5,1064.2 L322.0,1064.3 L321.5,1064.3 L321.0,1064.3 L321.0,1065.0 L320.5,1065.0 L320.0,1065.0 L319.5,1065.0 L319.0,1065.1 L318.5,1065.1 L318.0,1065.1 L317.5,1065.1 L317.0,1065.1 L317.0,1072.2 L316.5,1072.2 L316.0,1072.3 L315.5,1072.3 L315.0,1072.3 L314.5,1072.3 L314.0,1072.3 L313.5,1072.3 L313.0,1072.4 L313.0,1066.2 L312.5,1066.3 L312.0,1066.3 L311.5,1066.3 L311.0,1066.3 L310.5,1066.3 L310.0,1066.3 L309.5,1066.3 L309.0,1066.4 L309.0,1068.3 L308.5,1068.3 L308.0,1068.3 L307.5,1068.3 L307.0,1068.4 L306.5,1068.4 L306.0,1068.4 L305.5,1068.4 L305.0,1068.4 L305.0,1067.8 L304.5,1067.9 L304.0,1067.9 L303.5,1067.9 L303.0,1067.9 L302.5,1067.9 L302.0,1067.9 L301.5,1067.9 L301.0,1067.9 L301.0,1071.0 L300.5,1071.0 L300.0,1071.0 L299.5,1071.0 L299.0,1071.0 L298.5,1071.0 L298.0,1071.0 L297.5,1071.1 L297.0,1071.1 L297.0,1065.9 L296.5,1065.9 L296.0,1065.9 L295.5,1065.9 L295.0,1065.9 L294.5,1065.9 L294.0,1066.0 L293.5,1066.0 L293.0,1066.0 L293.0,1064.0 L292.5,1064.0 L292.0,1064.0 L291.5,1064.0 L291.0,1064.0 L290.5,1064.0 L290.0,1064.0 L289.5,1064.0 L289.0,1064.0 L289.0,1067.5 L288.5,1067.5 L288.0,1067.5 L287.5,1067.5 L287.0,1067.5 L286.5,1067.5 L286.0,1067.5 L285.5,1067.5 L285.0,1067.5 Z"/>
<path fill="#000" d="M629,104 L630.5,68 L632.5,58.5 L634,60 L635.5,59 L638.5,64 L640.5,82 L642,104 Z"/>
<polyline fill="none" stroke="#FF0000" stroke-width="4.6" stroke-linejoin="round" points="285.0,1054.2 285.5,1054.2 286.0,1054.1 286.5,1054.1 287.0,1054.1 287.5,1054.0 288.0,1054.0 288.5,1054.0 289.0,1054.0 289.5,1053.9 290.0,1053.9 290.5,1053.9 291.0,1053.8 291.5,1053.8 292.0,1053.8 292.5,1053.7 293.0,1053.7 293.5,1053.7 294.0,1053.6 294.5,1053.6 295.0,1053.6 295.5,1053.5 296.0,1053.5 296.5,1053.5 297.0,1053.5 297.5,1053.4 298.0,1053.4 298.5,1053.4 299.0,1053.3 299.5,1053.3 300.0,1053.3 300.5,1053.2 301.0,1053.2 301.5,1053.2 302.0,1053.1 302.5,1053.1 303.0,1053.1 303.5,1053.0 304.0,1053.0 304.5,1053.0 305.0,1052.9 305.5,1052.9 306.0,1052.9 306.5,1052.8 307.0,1052.8 307.5,1052.8 308.0,1052.7 308.5,1052.7 309.0,1052.7 309.5,1052.6 310.0,1052.6 310.5,1052.5 311.0,1052.5 311.5,1052.5 312.0,1052.4 312.5,1052.4 313.0,1052.4 313.5,1052.3 314.0,1052.3 314.5,1052.3 315.0,1052.2 315.5,1052.2 316.0,1052.1 316.5,1052.1 317.0,1052.1 317.5,1052.0 318.0,1052.0 318.5,1052.0 319.0,1051.9 319.5,1051.9 320.0,1051.8 320.5,1051.8 321.0,1051.8 321.5,1051.7 322.0,1051.7 322.5,1051.7 323.0,1051.6 323.5,1051.6 324.0,1051.5 324.5,1051.5 325.0,1051.5 325.5,1051.4 326.0,1051.4 326.5,1051.3 327.0,1051.3 327.5,1051.3 328.0,1051.2 328.5,1051.2 329.0,1051.1 329.5,1051.1 330.0,1051.0 330.5,1051.0 331.0,1051.0 331.5,1050.9 332.0,1050.9 332.5,1050.8 333.0,1050.8 333.5,1050.7 334.0,1050.7 334.5,1050.7 335.0,1050.6 335.5,1050.6 336.0,1050.5 336.5,1050.5 337.0,1050.4 337.5,1050.4 338.0,1050.3 338.5,1050.3 339.0,1050.2 339.5,1050.2 340.0,1050.1 340.5,1050.1 341.0,1050.1 341.5,1050.0 342.0,1050.0 342.5,1049.9 343.0,1049.9 343.5,1049.8 344.0,1049.8 344.5,1049.7 345.0,1049.7 345.5,1049.6 346.0,1049.6 346.5,1049.5 347.0,1049.5 347.5,1049.4 348.0,1049.3 348.5,1049.3 349.0,1049.2 349.5,1049.2 350.0,1049.1 350.5,1049.1 351.0,1049.0 351.5,1049.0 352.0,1048.9 352.5,1048.9 353.0,1048.8 353.5,1048.7 354.0,1048.7 354.5,1048.6 355.0,1048.6 355.5,1048.5 356.0,1048.4 356.5,1048.4 357.0,1048.3 357.5,1048.3 358.0,1048.2 358.5,1048.1 359.0,1048.1 359.5,1048.0 360.0,1048.0 360.5,1047.9 361.0,1047.8 361.5,1047.8 362.0,1047.7 362.5,1047.6 363.0,1047.6 363.5,1047.5 364.0,1047.4 364.5,1047.4 365.0,1047.3 365.5,1047.2 366.0,1047.1 366.5,1047.1 367.0,1047.0 367.5,1046.9 368.0,1046.9 368.5,1046.8 369.0,1046.7 369.5,1046.6 370.0,1046.6 370.5,1046.5 371.0,1046.4 371.5,1046.3 372.0,1046.2 372.5,1046.2 373.0,1046.1 373.5,1046.0 374.0,1045.9 374.5,1045.8 375.0,1045.7 375.5,1045.7 376.0,1045.6 376.5,1045.5 377.0,1045.4 377.5,1045.3 378.0,1045.2 378.5,1045.1 379.0,1045.0 379.5,1045.0 380.0,1044.9 380.5,1044.8 381.0,1044.7 381.5,1044.6 382.0,1044.5 382.5,1044.4 383.0,1044.3 383.5,1044.2 384.0,1044.1 384.5,1044.0 385.0,1043.9 385.5,1043.8 386.0,1043.7 386.5,1043.6 387.0,1043.4 387.5,1043.3 388.0,1043.2 388.5,1043.1 389.0,1043.0 389.5,1042.9 390.0,1042.8 390.5,1042.7 391.0,1042.5 391.5,1042.4 392.0,1042.3 392.5,1042.2 393.0,1042.1 393.5,1041.9 394.0,1041.8 394.5,1041.7 395.0,1041.5 395.5,1041.4 396.0,1041.3 396.5,1041.2 397.0,1041.0 397.5,1040.9 398.0,1040.7 398.5,1040.6 399.0,1040.5 399.5,1040.3 400.0,1040.2 400.5,1040.0 401.0,1039.9 401.5,1039.7 402.0,1039.6 402.5,1039.4 403.0,1039.3 403.5,1039.1 404.0,1038.9 404.5,1038.8 405.0,1038.6 405.5,1038.5 406.0,1038.3 406.5,1038.1 407.0,1038.0 407.5,1037.8 408.0,1037.6 408.5,1037.4 409.0,1037.3 409.5,1037.1 410.0,1036.9 410.5,1036.7 411.0,1036.5 411.5,1036.3 412.0,1036.1 412.5,1035.9 413.0,1035.7 413.5,1035.5 414.0,1035.3 414.5,1035.1 415.0,1034.9 415.5,1034.7 416.0,1034.5 416.5,1034.3 417.0,1034.1 417.5,1033.9 418.0,1033.6 418.5,1033.4 419.0,1033.2 419.5,1033.0 420.0,1032.7 420.5,1032.5 421.0,1032.2 421.5,1032.0 422.0,1031.8 422.5,1031.5 423.0,1031.3 423.5,1031.0 424.0,1030.8 424.5,1030.5 425.0,1030.2 425.5,1030.0 426.0,1029.7 426.5,1029.4 427.0,1029.2 427.5,1028.9 428.0,1028.6 428.5,1028.3 429.0,1028.0 429.5,1027.7 430.0,1027.4 430.5,1027.1 431.0,1026.8 431.5,1026.5 432.0,1026.2 432.5,1025.9 433.0,1025.6 433.5,1025.3 434.0,1024.9 434.5,1024.6 435.0,1024.3 435.5,1024.0 436.0,1023.6 436.5,1023.3 437.0,1022.9 437.5,1022.6 438.0,1022.2 438.5,1021.9 439.0,1021.5 439.5,1021.1 440.0,1020.8 440.5,1020.4 441.0,1020.0 441.5,1019.6 442.0,1019.2 442.5,1018.8 443.0,1018.4 443.5,1018.0 444.0,1017.6 444.5,1017.2 445.0,1016.8 445.5,1016.4 446.0,1015.9 446.5,1015.5 447.0,1015.1 447.5,1014.6 448.0,1014.2 448.5,1013.7 449.0,1013.3 449.5,1012.8 450.0,1012.3 450.5,1011.9 451.0,1011.4 451.5,1010.9 452.0,1010.4 452.5,1009.9 453.0,1009.4 453.5,1008.9 454.0,1008.4 454.5,1007.9 455.0,1007.4 455.5,1006.9 456.0,1006.3 456.5,1005.8 457.0,1005.2 457.5,1004.7 458.0,1004.1 458.5,1003.6 459.0,1003.0 459.5,1002.4 460.0,1001.9 460.5,1001.3 461.0,1000.7 461.5,1000.1 462.0,999.5 462.5,998.9 463.0,998.3 463.5,997.6 464.0,997.0 464.5,996.4 465.0,995.7 465.5,995.1 466.0,994.4 466.5,993.8 467.0,993.1 467.5,992.4 468.0,991.7 468.5,991.0 469.0,990.3 469.5,989.6 470.0,988.9 470.5,988.2 471.0,987.5 471.5,986.8 472.0,986.0 472.5,985.3 473.0,984.5 473.5,983.8 474.0,983.0 474.5,982.2 475.0,981.4 475.5,980.6 476.0,979.8 476.5,979.0 477.0,978.2 477.5,977.4 478.0,976.6 478.5,975.7 479.0,974.9 479.5,974.0 480.0,973.2 480.5,972.3 481.0,971.4 481.5,970.6 482.0,969.7 482.5,968.8 483.0,967.9 483.5,966.9 484.0,966.0 484.5,965.1 485.0,964.1 485.5,963.2 486.0,962.2 486.5,961.3 487.0,960.3 487.5,959.3 488.0,958.3 488.5,957.3 489.0,956.3 489.5,955.3 490.0,954.3 490.5,953.2 491.0,952.2 491.5,951.1 492.0,950.1 492.5,949.0 493.0,947.9 493.5,946.8 494.0,945.7 494.5,944.6 495.0,943.5 495.5,942.4 496.0,941.3 496.5,940.1 497.0,939.0 497.5,937.8 498.0,936.7 498.5,935.5 499.0,934.3 499.5,933.1 500.0,931.9 500.5,930.7 501.0,929.5 501.5,928.2 502.0,927.0 502.5,925.7 503.0,924.5 503.5,923.2 504.0,921.9 504.5,920.6 505.0,919.3 505.5,918.0 506.0,916.7 506.5,915.4 507.0,914.1 507.5,912.7 508.0,911.4 508.5,910.0 509.0,908.6 509.5,907.2 510.0,905.8 510.5,904.4 511.0,903.0 511.5,901.6 512.0,900.2 512.5,898.8 513.0,897.3 513.5,895.8 514.0,894.4 514.5,892.9 515.0,891.4 515.5,889.9 516.0,888.4 516.5,886.9 517.0,885.4 517.5,883.8 518.0,882.3 518.5,880.8 519.0,879.2 519.5,877.6 520.0,876.0 520.5,874.5 521.0,872.9 521.5,871.3 522.0,869.6 522.5,868.0 523.0,866.4 523.5,864.7 524.0,863.1 524.5,861.4 525.0,859.8 525.5,858.1 526.0,856.4 526.5,854.7 527.0,853.0 527.5,851.3 528.0,849.6 528.5,847.8 529.0,846.1 529.5,844.3 530.0,842.6 530.5,840.8 531.0,839.0 531.5,837.2 532.0,835.5 532.5,833.7 533.0,831.8 533.5,830.0 534.0,828.2 534.5,826.4 535.0,824.5 535.5,822.7 536.0,820.8 536.5,819.0 537.0,817.1 537.5,815.2 538.0,813.3 538.5,811.4 539.0,809.5 539.5,807.6 540.0,805.7 540.5,803.8 541.0,801.8 541.5,799.9 542.0,797.9 542.5,796.0 543.0,794.0 543.5,792.0 544.0,790.1 544.5,788.1 545.0,786.1 545.5,784.1 546.0,782.1 546.5,780.1 547.0,778.1 547.5,776.1 548.0,774.0 548.5,772.0 549.0,769.9 549.5,767.9 550.0,765.9 550.5,763.8 551.0,761.7 551.5,759.7 552.0,757.6 552.5,755.5 553.0,753.4 553.5,751.3 554.0,749.2 554.5,747.1 555.0,745.0 555.5,742.9 556.0,740.8 556.5,738.7 557.0,736.6 557.5,734.5 558.0,732.3 558.5,730.2 559.0,728.1 559.5,725.9 560.0,723.8 560.5,721.6 561.0,719.5 561.5,717.3 562.0,715.2 562.5,713.0 563.0,710.8 563.5,708.7 564.0,706.5 564.5,704.3 565.0,702.1 565.5,700.0 566.0,697.8 566.5,695.6 567.0,693.4 567.5,691.2 568.0,689.0 568.5,686.8 569.0,684.6 569.5,682.4 570.0,680.2 570.5,678.0 571.0,675.8 571.5,673.6 572.0,671.4 572.5,669.1 573.0,666.9 573.5,664.7 574.0,662.4 574.5,660.2 575.0,657.9 575.5,655.7 576.0,653.4 576.5,651.1 577.0,648.9 577.5,646.6 578.0,644.3 578.5,642.0 579.0,639.7 579.5,637.3 580.0,635.0 580.5,632.6 581.0,630.2 581.5,627.9 582.0,625.4 582.5,623.0 583.0,620.6 583.5,618.1 584.0,615.6 584.5,613.1 585.0,610.5 585.5,607.9 586.0,605.3 586.5,602.7 587.0,600.0 587.5,597.2 588.0,594.5 588.5,591.7 589.0,588.8 589.5,585.9 590.0,582.9 590.5,579.9 591.0,576.8 591.5,573.6 592.0,570.4 592.5,567.1 593.0,563.7 593.5,560.3 594.0,556.8 594.5,553.1 595.0,549.4 595.5,545.6 596.0,541.7 596.5,537.8 597.0,533.7 597.5,529.5 598.0,525.1 598.5,520.7 599.0,516.2 599.5,511.5 600.0,506.7 600.5,501.8 601.0,496.7 601.5,491.6 602.0,486.2 602.5,480.8 603.0,475.2 603.5,469.5 604.0,463.6 604.5,457.6 605.0,451.5 605.5,445.2 606.0,438.8 606.5,432.2 607.0,425.5 607.5,418.7 608.0,411.7 608.5,404.7 609.0,397.5 609.5,390.1 610.0,382.7 610.5,375.2 611.0,367.5 611.5,359.8 612.0,351.9 612.5,344.0 613.0,336.0 613.5,328.0 614.0,319.9 614.5,311.7 615.0,303.6 615.5,295.4 616.0,287.2 616.5,279.0 617.0,270.8 617.5,262.6 618.0,254.5 618.5,246.4 619.0,238.4 619.5,230.5 620.0,222.7 620.5,215.0 621.0,207.4 621.5,200.0 622.0,192.7 622.5,185.6 623.0,178.7 623.5,172.0 624.0,165.5 624.5,159.2 625.0,153.1 625.5,147.3 626.0,141.8 626.5,136.5 627.0,131.5 627.5,126.9 628.0,122.5 628.5,118.5 629.0,114.7 629.5,111.3 630.0,108.3 630.5,105.6 631.0,103.2 631.5,101.3 632.0,99.6 632.5,98.4 633.0,97.4 633.5,96.9 634.0,96.7 634.5,96.9 635.0,97.5 635.5,98.4 636.0,99.6 636.5,101.2 637.0,103.2 637.5,105.4 638.0,108.0 638.5,111.0 639.0,114.2 639.5,117.7 640.0,121.6 640.5,125.5 641.0,129.6 641.5,134.0 642.0,138.6 642.5,143.4 643.0,148.4 643.5,153.6 644.0,158.9 644.5,164.4 645.0,170.1 645.5,175.9 646.0,181.9 646.5,187.9 647.0,194.1 647.5,200.3 648.0,206.6 648.5,213.0 649.0,219.4 649.5,225.9 650.0,232.4 650.5,239.0 651.0,245.5 651.5,252.0 652.0,258.6 652.5,265.1 653.0,271.5 653.5,278.0 654.0,284.3 654.5,290.7 655.0,296.9 655.5,303.2 656.0,309.3 656.5,315.3 657.0,321.3 657.5,327.1 658.0,332.9 658.5,338.6 659.0,344.1 659.5,349.6 660.0,355.0 660.5,360.2 661.0,365.3 661.5,370.3 662.0,375.2 662.5,380.0 663.0,384.6 663.5,389.2 664.0,393.6 664.5,397.9 665.0,402.1 665.5,406.2 666.0,410.2 666.5,414.0 667.0,417.8 667.5,421.4 668.0,424.9 668.5,428.4 669.0,431.7 669.5,434.9 670.0,438.1 670.5,441.1 671.0,444.1 671.5,447.0 672.0,449.8 672.5,452.5 673.0,455.2 673.5,457.8 674.0,460.3 674.5,462.7 675.0,465.1 675.5,467.4 676.0,469.7 676.5,471.9 677.0,474.1 677.5,476.2 678.0,478.3 678.5,480.3 679.0,482.3 679.5,484.3 680.0,486.2 680.5,488.1 681.0,490.0 681.5,491.8 682.0,493.6 682.5,495.4 683.0,497.2 683.5,499.0 684.0,500.7 684.5,502.4 685.0,504.2 685.5,505.9 686.0,507.5 686.5,509.2 687.0,510.9 687.5,512.6 688.0,514.3 688.5,515.9 689.0,517.6 689.5,519.2 690.0,520.9 690.5,522.6 691.0,524.2 691.5,525.9 692.0,527.5 692.5,529.2 693.0,530.9 693.5,532.5 694.0,534.2 694.5,535.9 695.0,537.6 695.5,539.2 696.0,540.9 696.5,542.6 697.0,544.3 697.5,546.0 698.0,547.7 698.5,549.5 699.0,551.2 699.5,552.9 700.0,554.6 700.5,556.2 701.0,557.8 701.5,559.4 702.0,561.0 702.5,562.6 703.0,564.2 703.5,565.8 704.0,567.5 704.5,569.1 705.0,570.7 705.5,572.3 706.0,574.0 706.5,575.6 707.0,577.2 707.5,578.9 708.0,580.5 708.5,582.2 709.0,583.8 709.5,585.4 710.0,587.1 710.5,588.7 711.0,590.4 711.5,592.0 712.0,593.7 712.5,595.3 713.0,597.0 713.5,598.6 714.0,600.3 714.5,602.2 715.0,604.1 715.5,606.0 716.0,607.9 716.5,609.8 717.0,611.7 717.5,613.6 718.0,615.5 718.5,617.4 719.0,619.2 719.5,621.1 720.0,623.0 720.5,624.8 721.0,626.6 721.5,628.5 722.0,630.3 722.5,632.1 723.0,633.9 723.5,635.7 724.0,637.5 724.5,639.2 725.0,641.0 725.5,642.7 726.0,644.5 726.5,646.2 727.0,647.9 727.5,649.5 728.0,651.2 728.5,652.9 729.0,654.5 729.5,656.1 730.0,657.7 730.5,659.3 731.0,660.8 731.5,662.4 732.0,663.9 732.5,665.5 733.0,667.0 733.5,668.4 734.0,669.9 734.5,671.3 735.0,672.7 735.5,673.8 736.0,674.9 736.5,675.9 737.0,676.9 737.5,677.9 738.0,678.9 738.5,679.8 739.0,680.7 739.5,681.5 740.0,682.3 740.5,683.1 741.0,683.9 741.5,684.6 742.0,685.3 742.5,686.0 743.0,686.6 743.5,687.2 744.0,687.7 744.5,688.2 745.0,688.7 745.5,689.1 746.0,689.5 746.5,690.3 747.0,691.1 747.5,691.8 748.0,692.5 748.5,693.2 749.0,693.8 749.5,694.4 750.0,694.9 750.5,695.5 751.0,695.9 751.5,696.4 752.0,696.8 752.5,696.8 753.0,696.8 753.5,696.8 754.0,696.7 754.5,696.7 755.0,696.5 755.5,696.4 756.0,696.2 756.5,696.0 757.0,695.7 757.5,695.4 758.0,695.1 758.5,694.8 759.0,694.5 759.5,694.1 760.0,693.7 760.5,693.2 761.0,692.8 761.5,692.3 762.0,691.8 762.5,691.3 763.0,690.8 763.5,690.2 764.0,689.7 764.5,689.1 765.0,688.5 765.5,688.1 766.0,687.6 766.5,687.2 767.0,686.7 767.5,686.2 768.0,685.7 768.5,685.3 769.0,684.8 769.5,684.3 770.0,683.9 770.5,683.4 771.0,683.0 771.5,682.6 772.0,682.2 772.5,681.8 773.0,681.4 773.5,681.0 774.0,680.7 774.5,680.3 775.0,680.0 775.5,679.8 776.0,679.5 776.5,679.3 777.0,679.1 777.5,679.0 778.0,678.8 778.5,678.8 779.0,678.7 779.5,678.9 780.0,679.2 780.5,679.5 781.0,679.8 781.5,680.2 782.0,680.6 782.5,681.0 783.0,681.5 783.5,682.1 784.0,682.7 784.5,683.3 785.0,684.0 785.5,684.8 786.0,685.6 786.5,686.4 787.0,687.3 787.5,688.2 788.0,689.2 788.5,690.3 789.0,691.4 789.5,692.5 790.0,693.7 790.5,695.1 791.0,696.4 791.5,697.9 792.0,699.3 792.5,700.9 793.0,702.4 793.5,704.1 794.0,705.7 794.5,707.4 795.0,709.2 795.5,710.9 796.0,712.7 796.5,714.5 797.0,716.3 797.5,717.9 798.0,719.5 798.5,721.2 799.0,722.9 799.5,724.6 800.0,726.3 800.5,728.0 801.0,729.8 801.5,731.6 802.0,733.4 802.5,735.3 803.0,737.1 803.5,739.0 804.0,740.9 804.5,742.7 805.0,744.6 805.5,746.7 806.0,748.7 806.5,750.8 807.0,752.8 807.5,754.9 808.0,756.9 808.5,759.0 809.0,761.0 809.5,763.0 810.0,764.9 810.5,766.5 811.0,768.1 811.5,769.7 812.0,771.2 812.5,772.6 813.0,774.1 813.5,775.4 814.0,776.8 814.5,778.1 815.0,779.3 815.5,780.5 816.0,781.6 816.5,782.7 817.0,783.7 817.5,784.6 818.0,785.5 818.5,786.2 819.0,787.0 819.5,787.6 820.0,788.2 820.5,788.7 821.0,789.1 821.5,789.5 822.0,789.7 822.5,789.9 823.0,790.0 823.5,790.4 824.0,790.8 824.5,791.1 825.0,791.3 825.5,791.4 826.0,791.4 826.5,791.4 827.0,791.2 827.5,791.0 828.0,790.8 828.5,790.4 829.0,790.0 829.5,789.5 830.0,789.0 830.5,788.3 831.0,787.6 831.5,786.9 832.0,786.1 832.5,785.2 833.0,784.3 833.5,783.3 834.0,782.3 834.5,781.3 835.0,780.2 835.5,779.0 836.0,777.9 836.5,776.7 837.0,775.4 837.5,774.2 838.0,772.9 838.5,771.7 839.0,770.4 839.5,769.1 840.0,767.8 840.5,766.6 841.0,765.3 841.5,764.0 842.0,762.8 842.5,761.6 843.0,760.4 843.5,759.3 844.0,758.2 844.5,757.1 845.0,756.1 845.5,755.1 846.0,754.2 846.5,753.3 847.0,752.5 847.5,751.7 848.0,751.1 848.5,750.5 849.0,750.0 849.5,749.5 850.0,749.1 850.5,748.9 851.0,748.7 851.5,748.7 852.0,748.8 852.5,749.0 853.0,749.3 853.5,749.7 854.0,750.2 854.5,750.7 855.0,751.4 855.5,752.2 856.0,753.0 856.5,754.0 857.0,755.0 857.5,756.1 858.0,757.4 858.5,758.7 859.0,760.1 859.5,761.6 860.0,763.2 860.5,764.9 861.0,766.7 861.5,768.6 862.0,770.5 862.5,772.3 863.0,774.3 863.5,776.3 864.0,778.3 864.5,780.5 865.0,782.7 865.5,785.0 866.0,787.4 866.5,789.8 867.0,791.7 867.5,793.7 868.0,795.7 868.5,797.7 869.0,799.8 869.5,801.8 870.0,804.0 870.5,806.1 871.0,808.3 871.5,810.5 872.0,812.7 872.5,814.9 873.0,817.1 873.5,819.4 874.0,821.7 874.5,824.0 875.0,826.3 875.5,828.6 876.0,831.5 876.5,834.4 877.0,837.3 877.5,840.2 878.0,843.1 878.5,846.0 879.0,848.9 879.5,851.8 880.0,854.6 880.5,857.5 881.0,860.3 881.5,863.2 882.0,866.0 882.5,868.8 883.0,871.5 883.5,874.3 884.0,877.0 884.5,879.6 885.0,882.3 885.5,885.0 886.0,887.7 886.5,890.3 887.0,892.9 887.5,895.5 888.0,898.0 888.5,900.5 889.0,902.9 889.5,905.3 890.0,907.6 890.5,909.7 891.0,911.7 891.5,913.8 892.0,915.8 892.5,917.7 893.0,919.6 893.5,921.5 894.0,923.3 894.5,925.1 895.0,926.8 895.5,928.5 896.0,930.2 896.5,931.8 897.0,933.4 897.5,934.9 898.0,936.5 898.5,937.8 899.0,939.1 899.5,940.2 900.0,941.4 900.5,942.5 901.0,943.5 901.5,944.4 902.0,945.3 902.5,946.2 903.0,947.0 903.5,947.7 904.0,948.4 904.5,949.0 905.0,949.6 905.5,950.2 906.0,950.7 906.5,951.1 907.0,951.5 907.5,951.9 908.0,952.3 908.5,952.6 909.0,953.0 909.5,953.3 910.0,953.6 910.5,953.9 911.0,954.1 911.5,954.3 912.0,954.5 912.5,954.6 913.0,954.7 913.5,954.8 914.0,954.9 914.5,954.9 915.0,954.9 915.5,955.2 916.0,955.5 916.5,955.7 917.0,955.9 917.5,956.1 918.0,956.3 918.5,956.5 919.0,956.6 919.5,956.8 920.0,956.9 920.5,957.0 921.0,957.1 921.5,957.2 922.0,957.3 922.5,957.4 923.0,957.5 923.5,957.5 924.0,957.6 924.5,957.7 925.0,957.7 925.5,957.8 926.0,957.8 926.5,957.9 927.0,957.9 927.5,958.0 928.0,958.0 928.5,958.0 929.0,958.1 929.5,958.1 930.0,958.2 930.5,958.2 931.0,958.2 931.5,958.3 932.0,958.3 932.5,958.4 933.0,958.4 933.5,958.5 934.0,958.6 934.5,958.7 935.0,958.9 935.5,959.0 936.0,959.1 936.5,959.2 937.0,959.3 937.5,959.4 938.0,959.6 938.5,959.7 939.0,959.8 939.5,960.0 940.0,960.1 940.5,960.2 941.0,960.4 941.5,960.5 942.0,960.7 942.5,960.8 943.0,961.0 943.5,961.1 944.0,961.3 944.5,961.4 945.0,961.6 945.5,961.8 946.0,961.9 946.5,962.1 947.0,962.3 947.5,962.5 948.0,962.6 948.5,962.8 949.0,963.0 949.5,963.2 950.0,963.4 950.5,963.6 951.0,963.8 951.5,964.0 952.0,964.2 952.5,964.4 953.0,964.6 953.5,964.8 954.0,965.0 954.5,965.2 955.0,965.4 955.5,965.6 956.0,965.8 956.5,966.0 957.0,966.2 957.5,966.4 958.0,966.7 958.5,966.9 959.0,967.1 959.5,967.3 960.0,967.5 960.5,967.8 961.0,968.0 961.5,968.2 962.0,968.5 962.5,968.7 963.0,969.0 963.5,969.2 964.0,969.5 964.5,969.7 965.0,970.0 965.5,970.2 966.0,970.5 966.5,970.8 967.0,971.0 967.5,971.3 968.0,971.6 968.5,971.8 969.0,972.1 969.5,972.4 970.0,972.7 970.5,973.0 971.0,973.2 971.5,973.5 972.0,973.8 972.5,974.1 973.0,974.4 973.5,974.7 974.0,974.9 974.5,975.2 975.0,975.5 975.5,975.7 976.0,976.0 976.5,976.3 977.0,976.6 977.5,976.8 978.0,977.1 978.5,977.4 979.0,977.7 979.5,978.0 980.0,978.2 980.5,978.5 981.0,978.8 981.5,979.1 982.0,979.4 982.5,979.7 983.0,980.0 983.5,980.3 984.0,980.6 984.5,980.9 985.0,981.2 985.5,981.5 986.0,981.8 986.5,982.1 987.0,982.4 987.5,982.7 988.0,983.1 988.5,983.4 989.0,983.7 989.5,984.0 990.0,984.3 990.5,984.6 991.0,984.9 991.5,985.3 992.0,985.6 992.5,985.9 993.0,986.2 993.5,986.5 994.0,986.9 994.5,987.2 995.0,987.6 995.5,987.9 996.0,988.3 996.5,988.7 997.0,989.0 997.5,989.4 998.0,989.7 998.5,990.1 999.0,990.5 999.5,990.8 1000.0,991.2 1000.5,991.6 1001.0,991.9 1001.5,992.3 1002.0,992.6 1002.5,993.0 1003.0,993.4 1003.5,993.7 1004.0,994.1 1004.5,994.5 1005.0,994.8 1005.5,995.2 1006.0,995.6 1006.5,995.9 1007.0,996.3 1007.5,996.6 1008.0,997.0 1008.5,997.4 1009.0,997.7 1009.5,998.1 1010.0,998.5 1010.5,998.8 1011.0,999.2 1011.5,999.5 1012.0,999.9 1012.5,1000.3 1013.0,1000.6 1013.5,1001.0 1014.0,1001.3 1014.5,1001.6 1015.0,1002.0 1015.5,1002.3 1016.0,1002.6 1016.5,1002.9 1017.0,1003.2 1017.5,1003.5 1018.0,1003.8 1018.5,1004.1 1019.0,1004.4 1019.5,1004.7 1020.0,1005.0 1020.5,1005.3 1021.0,1005.6 1021.5,1005.9 1022.0,1006.2 1022.5,1006.5 1023.0,1006.8 1023.5,1007.1 1024.0,1007.4 1024.5,1007.7 1025.0,1008.0 1025.5,1008.3 1026.0,1008.6 1026.5,1008.9 1027.0,1009.1 1027.5,1009.4 1028.0,1009.7 1028.5,1010.0 1029.0,1010.3 1029.5,1010.6 1030.0,1010.8 1030.5,1011.1 1031.0,1011.4 1031.5,1011.7 1032.0,1011.9 1032.5,1012.2 1033.0,1012.5 1033.5,1012.7 1034.0,1013.0 1034.5,1013.3 1035.0,1013.5 1035.5,1013.8 1036.0,1014.1 1036.5,1014.3 1037.0,1014.6 1037.5,1014.8 1038.0,1015.1 1038.5,1015.4 1039.0,1015.6 1039.5,1015.9 1040.0,1016.1 1040.5,1016.4 1041.0,1016.6 1041.5,1016.8 1042.0,1017.1 1042.5,1017.3 1043.0,1017.6 1043.5,1017.8 1044.0,1018.0 1044.5,1018.3 1045.0,1018.5 1045.5,1018.7 1046.0,1019.0 1046.5,1019.2 1047.0,1019.4 1047.5,1019.6 1048.0,1019.9 1048.5,1020.1 1049.0,1020.3 1049.5,1020.5 1050.0,1020.7 1050.5,1020.9 1051.0,1021.1 1051.5,1021.4 1052.0,1021.6 1052.5,1021.8 1053.0,1022.0 1053.5,1022.2 1054.0,1022.4 1054.5,1022.6 1055.0,1022.8 1055.5,1023.0 1056.0,1023.2 1056.5,1023.4 1057.0,1023.5 1057.5,1023.7 1058.0,1023.9 1058.5,1024.1 1059.0,1024.3 1059.5,1024.5 1060.0,1024.7 1060.5,1024.8 1061.0,1025.0 1061.5,1025.2 1062.0,1025.4 1062.5,1025.5 1063.0,1025.7 1063.5,1025.9 1064.0,1026.0 1064.5,1026.2 1065.0,1026.4 1065.5,1026.5 1066.0,1026.7 1066.5,1026.8 1067.0,1027.0 1067.5,1027.1 1068.0,1027.3 1068.5,1027.4 1069.0,1027.6 1069.5,1027.7 1070.0,1027.9 1070.5,1028.0 1071.0,1028.2 1071.5,1028.3 1072.0,1028.5 1072.5,1028.6 1073.0,1028.7 1073.5,1028.9 1074.0,1029.0 1074.5,1029.1 1075.0,1029.3 1075.5,1029.4 1076.0,1029.5 1076.5,1029.6 1077.0,1029.8 1077.5,1029.9 1078.0,1030.0 1078.5,1030.1 1079.0,1030.2 1079.5,1030.4 1080.0,1030.5 1080.5,1030.6 1081.0,1030.7 1081.5,1030.8 1082.0,1030.9 1082.5,1031.0 1083.0,1031.1 1083.5,1031.2 1084.0,1031.4 1084.5,1031.5 1085.0,1031.6 1085.5,1031.7 1086.0,1031.8 1086.5,1031.9 1087.0,1031.9 1087.5,1032.0 1088.0,1032.1 1088.5,1032.2 1089.0,1032.3 1089.5,1032.4 1090.0,1032.5 1090.5,1032.6 1091.0,1032.7 1091.5,1032.8 1092.0,1032.8 1092.5,1032.9 1093.0,1033.0 1093.5,1033.1 1094.0,1033.2 1094.5,1033.2 1095.0,1033.3 1095.5,1033.4 1096.0,1033.5 1096.5,1033.5 1097.0,1033.6 1097.5,1033.7 1098.0,1033.7 1098.5,1033.8 1099.0,1033.9 1099.5,1033.9 1100.0,1034.0 1100.5,1034.1 1101.0,1034.1 1101.5,1034.2 1102.0,1034.3 1102.5,1034.3 1103.0,1034.4 1103.5,1034.4 1104.0,1034.5 1104.5,1034.6 1105.0,1034.6 1105.5,1034.7 1106.0,1034.7 1106.5,1034.8 1107.0,1034.8 1107.5,1034.9 1108.0,1034.9 1108.5,1035.0 1109.0,1035.0 1109.5,1035.1 1110.0,1035.1 1110.5,1035.2 1111.0,1035.2 1111.5,1035.3 1112.0,1035.3 1112.5,1035.3 1113.0,1035.4 1113.5,1035.4 1114.0,1035.5 1114.5,1035.5 1115.0,1035.5 1115.5,1035.6 1116.0,1035.6 1116.5,1035.7 1117.0,1035.7 1117.5,1035.7 1118.0,1035.8 1118.5,1035.8 1119.0,1035.8 1119.5,1035.9 1120.0,1035.9 1120.5,1035.9 1121.0,1036.0 1121.5,1036.0 1122.0,1036.0 1122.5,1036.0 1123.0,1036.1 1123.5,1036.1 1124.0,1036.1 1124.5,1036.2 1125.0,1036.2 1125.5,1036.2 1126.0,1036.2 1126.5,1036.3 1127.0,1036.3 1127.5,1036.3 1128.0,1036.3 1128.5,1036.4 1129.0,1036.4 1129.5,1036.4 1130.0,1036.4 1130.5,1036.4 1131.0,1036.5 1131.5,1036.5 1132.0,1036.5 1132.5,1036.5 1133.0,1036.5 1133.5,1036.6 1134.0,1036.6 1134.5,1036.6 1135.0,1036.6 1135.5,1036.6 1136.0,1036.6 1136.5,1036.7 1137.0,1036.7 1137.5,1036.7 1138.0,1036.7 1138.5,1036.7 1139.0,1036.7 1139.5,1036.7 1140.0,1036.8 1140.5,1036.8 1141.0,1036.8 1141.5,1036.8 1142.0,1036.8 1142.5,1036.8 1143.0,1036.8 1143.5,1036.8 1144.0,1036.8 1144.5,1036.9 1145.0,1036.9 1145.5,1036.9 1146.0,1036.9 1146.5,1036.9 1147.0,1036.9 1147.5,1036.9 1148.0,1036.9 1148.5,1036.9 1149.0,1036.9 1149.5,1036.9 1150.0,1036.9 1150.5,1036.9 1151.0,1037.0 1151.5,1037.0 1152.0,1037.0 1152.5,1037.0 1153.0,1037.0 1153.5,1037.0 1154.0,1037.0 1154.5,1037.0 1155.0,1037.0 1155.5,1037.0 1156.0,1037.0 1156.5,1037.0 1157.0,1037.0 1157.5,1037.0 1158.0,1037.0 1158.5,1037.0 1159.0,1037.0 1159.5,1037.0 1160.0,1037.0 1160.5,1037.0 1161.0,1037.0 1161.5,1037.0 1162.0,1037.0 1162.5,1037.0 1163.0,1037.0 1163.5,1037.0 1164.0,1037.0 1164.5,1037.0 1165.0,1037.0 1165.5,1037.0 1166.0,1037.0 1166.5,1037.0 1167.0,1037.0 1167.5,1037.0 1168.0,1037.0 1168.5,1037.0 1169.0,1037.0 1169.5,1037.0 1170.0,1037.0 1170.5,1037.0 1171.0,1037.0 1171.5,1037.0 1172.0,1037.0 1172.5,1037.0 1173.0,1037.0 1173.5,1037.0 1174.0,1037.0 1174.5,1037.0 1175.0,1037.0 1175.5,1037.0 1176.0,1037.0 1176.5,1037.0 1177.0,1037.0 1177.5,1037.0 1178.0,1037.0 1178.5,1037.0 1179.0,1037.0 1179.5,1037.0 1180.0,1037.0 1180.5,1037.0 1181.0,1037.0 1181.5,1037.0 1182.0,1037.0 1182.5,1037.0 1183.0,1037.0 1183.5,1037.0 1184.0,1037.0 1184.5,1037.0 1185.0,1037.0 1185.5,1037.0 1186.0,1037.0 1186.5,1037.0 1187.0,1037.0 1187.5,1037.0 1188.0,1037.0 1188.5,1037.0 1189.0,1037.0 1189.5,1036.9 1190.0,1036.9 1190.5,1036.9 1191.0,1036.9 1191.5,1036.9 1192.0,1036.9 1192.5,1036.9 1193.0,1036.9 1193.5,1036.9 1194.0,1036.9 1194.5,1036.9 1195.0,1036.9 1195.5,1036.9 1196.0,1036.9 1196.5,1036.9 1197.0,1036.9 1197.5,1036.9 1198.0,1036.9 1198.5,1036.9 1199.0,1036.9 1199.5,1036.9 1200.0,1036.9 1200.5,1036.9 1201.0,1036.8 1201.5,1036.8 1202.0,1036.8 1202.5,1036.8 1203.0,1036.8 1203.5,1036.8 1204.0,1036.8 1204.5,1036.8 1205.0,1036.8 1205.5,1036.8 1206.0,1036.8 1206.5,1036.8 1207.0,1036.8 1207.5,1036.8 1208.0,1036.8 1208.5,1036.8 1209.0,1036.8 1209.5,1036.8 1210.0,1036.7 1210.5,1036.7 1211.0,1036.7 1211.5,1036.7 1212.0,1036.7 1212.5,1036.7 1213.0,1036.7 1213.5,1036.7 1214.0,1036.7 1214.5,1036.7 1215.0,1036.7 1215.5,1036.7 1216.0,1036.7 1216.5,1036.7 1217.0,1036.7 1217.5,1036.7 1218.0,1036.7 1218.5,1036.6 1219.0,1036.6 1219.5,1036.6 1220.0,1036.6 1220.5,1036.6 1221.0,1036.6 1221.5,1036.6 1222.0,1036.6 1222.5,1036.6 1223.0,1036.6 1223.5,1036.6 1224.0,1036.6 1224.5,1036.6 1225.0,1036.6 1225.5,1036.6 1226.0,1036.6 1226.5,1036.5 1227.0,1036.5 1227.5,1036.5 1228.0,1036.5 1228.5,1036.5 1229.0,1036.5 1229.5,1036.5 1230.0,1036.5 1230.5,1036.5 1231.0,1036.5 1231.5,1036.5 1232.0,1036.5 1232.5,1036.5 1233.0,1036.5 1233.5,1036.5 1234.0,1036.4 1234.5,1036.4 1235.0,1036.4 1235.5,1036.4 1236.0,1036.4 1236.5,1036.4 1237.0,1036.4 1237.5,1036.4 1238.0,1036.4 1238.5,1036.4 1239.0,1036.4 1239.5,1036.4 1240.0,1036.4 1240.5,1036.4 1241.0,1036.4 1241.5,1036.3 1242.0,1036.3 1242.5,1036.3 1243.0,1036.3 1243.5,1036.3 1244.0,1036.3 1244.5,1036.3 1245.0,1036.3 1245.5,1036.3 1246.0,1036.3 1246.5,1036.3 1247.0,1036.3 1247.5,1036.3 1248.0,1036.3 1248.5,1036.2 1249.0,1036.2 1249.5,1036.2 1250.0,1036.2 1250.5,1036.2 1251.0,1036.2 1251.5,1036.2 1252.0,1036.2 1252.5,1036.2 1253.0,1036.2 1253.5,1036.2 1254.0,1036.2 1254.5,1036.2 1255.0,1036.2 1255.5,1036.1 1256.0,1036.1 1256.5,1036.1 1257.0,1036.1 1257.5,1036.1 1258.0,1036.1 1258.5,1036.1 1259.0,1036.1 1259.5,1036.1 1260.0,1036.1 1260.5,1036.1 1261.0,1036.1 1261.5,1036.1 1262.0,1036.1 1262.5,1036.0 1263.0,1036.0 1263.5,1036.0"/>
<polyline fill="none" stroke="#9900CC" stroke-width="4.2" stroke-linejoin="round" points="285.0,1061.1 285.5,1061.1 286.0,1061.1 286.5,1061.1 287.0,1061.1 287.5,1061.0 288.0,1061.0 288.5,1061.0 289.0,1061.0 289.5,1061.0 290.0,1061.0 290.5,1061.0 291.0,1061.0 291.5,1060.9 292.0,1060.9 292.5,1060.9 293.0,1060.9 293.5,1060.9 294.0,1060.9 294.5,1060.9 295.0,1060.9 295.5,1060.8 296.0,1060.8 296.5,1060.8 297.0,1060.8 297.5,1060.8 298.0,1060.8 298.5,1060.8 299.0,1060.8 299.5,1060.7 300.0,1060.7 300.5,1060.7 301.0,1060.7 301.5,1060.7 302.0,1060.7 302.5,1060.7 303.0,1060.7 303.5,1060.7 304.0,1060.6 304.5,1060.6 305.0,1060.6 305.5,1060.6 306.0,1060.6 306.5,1060.6 307.0,1060.6 307.5,1060.6 308.0,1060.5 308.5,1060.5 309.0,1060.5 309.5,1060.5 310.0,1060.5 310.5,1060.5 311.0,1060.5 311.5,1060.5 312.0,1060.4 312.5,1060.4 313.0,1060.4 313.5,1060.4 314.0,1060.4 314.5,1060.4 315.0,1060.4 315.5,1060.4 316.0,1060.3 316.5,1060.3 317.0,1060.3 317.5,1060.3 318.0,1060.3 318.5,1060.3 319.0,1060.3 319.5,1060.3 320.0,1060.3 320.5,1060.2 321.0,1060.2 321.5,1060.2 322.0,1060.2 322.5,1060.2 323.0,1060.2 323.5,1060.2 324.0,1060.2 324.5,1060.1 325.0,1060.1 325.5,1060.1 326.0,1060.1 326.5,1060.1 327.0,1060.1 327.5,1060.1 328.0,1060.1 328.5,1060.0 329.0,1060.0 329.5,1060.0 330.0,1060.0 330.5,1060.0 331.0,1060.0 331.5,1060.0 332.0,1060.0 332.5,1059.9 333.0,1059.9 333.5,1059.9 334.0,1059.9 334.5,1059.9 335.0,1059.9 335.5,1059.9 336.0,1059.9 336.5,1059.8 337.0,1059.8 337.5,1059.8 338.0,1059.8 338.5,1059.8 339.0,1059.8 339.5,1059.8 340.0,1059.8 340.5,1059.8 341.0,1059.7 341.5,1059.7 342.0,1059.7 342.5,1059.7 343.0,1059.7 343.5,1059.7 344.0,1059.7 344.5,1059.7 345.0,1059.6 345.5,1059.6 346.0,1059.6 346.5,1059.6 347.0,1059.6 347.5,1059.6 348.0,1059.6 348.5,1059.6 349.0,1059.5 349.5,1059.5 350.0,1059.5 350.5,1059.5 351.0,1059.5 351.5,1059.5 352.0,1059.5 352.5,1059.5 353.0,1059.4 353.5,1059.4 354.0,1059.4 354.5,1059.4 355.0,1059.4 355.5,1059.4 356.0,1059.4 356.5,1059.4 357.0,1059.4 357.5,1059.3 358.0,1059.3 358.5,1059.3 359.0,1059.3 359.5,1059.3 360.0,1059.3 360.5,1059.3 361.0,1059.3 361.5,1059.2 362.0,1059.2 362.5,1059.2 363.0,1059.2 363.5,1059.2 364.0,1059.2 364.5,1059.2 365.0,1059.2 365.5,1059.1 366.0,1059.1 366.5,1059.1 367.0,1059.1 367.5,1059.1 368.0,1059.1 368.5,1059.1 369.0,1059.1 369.5,1059.0 370.0,1059.0 370.5,1059.0 371.0,1059.0 371.5,1059.0 372.0,1059.0 372.5,1059.0 373.0,1059.0 373.5,1059.0 374.0,1058.9 374.5,1058.9 375.0,1058.9 375.5,1058.9 376.0,1058.9 376.5,1058.9 377.0,1058.9 377.5,1058.9 378.0,1058.8 378.5,1058.8 379.0,1058.8 379.5,1058.8 380.0,1058.8 380.5,1058.8 381.0,1058.8 381.5,1058.8 382.0,1058.7 382.5,1058.7 383.0,1058.7 383.5,1058.7 384.0,1058.7 384.5,1058.7 385.0,1058.7 385.5,1058.7 386.0,1058.6 386.5,1058.6 387.0,1058.6 387.5,1058.6 388.0,1058.6 388.5,1058.6 389.0,1058.6 389.5,1058.6 390.0,1058.6 390.5,1058.5 391.0,1058.5 391.5,1058.5 392.0,1058.5 392.5,1058.5 393.0,1058.5 393.5,1058.5 394.0,1058.5 394.5,1058.4 395.0,1058.4 395.5,1058.4 396.0,1058.4 396.5,1058.4 397.0,1058.4 397.5,1058.4 398.0,1058.4 398.5,1058.3 399.0,1058.3 399.5,1058.3 400.0,1058.3 400.5,1058.3 401.0,1058.3 401.5,1058.3 402.0,1058.3 402.5,1058.2 403.0,1058.2 403.5,1058.2 404.0,1058.2 404.5,1058.2 405.0,1058.2 405.5,1058.2 406.0,1058.2 406.5,1058.2 407.0,1058.1 407.5,1058.1 408.0,1058.1 408.5,1058.1 409.0,1058.1 409.5,1058.1 410.0,1058.1 410.5,1058.1 411.0,1058.0 411.5,1058.0 412.0,1058.0 412.5,1058.0 413.0,1058.0 413.5,1058.0 414.0,1058.0 414.5,1058.0 415.0,1057.9 415.5,1057.9 416.0,1057.9 416.5,1057.9 417.0,1057.9 417.5,1057.9 418.0,1057.9 418.5,1057.9 419.0,1057.8 419.5,1057.8 420.0,1057.8 420.5,1057.8 421.0,1057.8 421.5,1057.8 422.0,1057.8 422.5,1057.8 423.0,1057.7 423.5,1057.7 424.0,1057.7 424.5,1057.7 425.0,1057.7 425.5,1057.7 426.0,1057.7 426.5,1057.7 427.0,1057.7 427.5,1057.6 428.0,1057.6 428.5,1057.6 429.0,1057.6 429.5,1057.6 430.0,1057.6 430.5,1057.6 431.0,1057.6 431.5,1057.5 432.0,1057.5 432.5,1057.5 433.0,1057.5 433.5,1057.5 434.0,1057.5 434.5,1057.5 435.0,1057.5 435.5,1057.4 436.0,1057.4 436.5,1057.4 437.0,1057.4 437.5,1057.4 438.0,1057.4 438.5,1057.4 439.0,1057.4 439.5,1057.3 440.0,1057.3 440.5,1057.3 441.0,1057.3 441.5,1057.3 442.0,1057.3 442.5,1057.3 443.0,1057.3 443.5,1057.3 444.0,1057.2 444.5,1057.2 445.0,1057.2 445.5,1057.2 446.0,1057.2 446.5,1057.2 447.0,1057.2 447.5,1057.2 448.0,1057.1 448.5,1057.1 449.0,1057.1 449.5,1057.1 450.0,1057.1 450.5,1057.1 451.0,1057.1 451.5,1057.1 452.0,1057.0 452.5,1057.0 453.0,1057.0 453.5,1057.0 454.0,1057.0 454.5,1057.0 455.0,1057.0 455.5,1057.0 456.0,1056.9 456.5,1056.9 457.0,1056.9 457.5,1056.9 458.0,1056.9 458.5,1056.9 459.0,1056.9 459.5,1056.9 460.0,1056.9 460.5,1056.8 461.0,1056.8 461.5,1056.8 462.0,1056.8 462.5,1056.8 463.0,1056.8 463.5,1056.8 464.0,1056.8 464.5,1056.7 465.0,1056.7 465.5,1056.7 466.0,1056.7 466.5,1056.7 467.0,1056.7 467.5,1056.7 468.0,1056.7 468.5,1056.6 469.0,1056.6 469.5,1056.6 470.0,1056.6 470.5,1056.6 471.0,1056.6 471.5,1056.6 472.0,1056.6 472.5,1056.5 473.0,1056.5 473.5,1056.5 474.0,1056.5 474.5,1056.5 475.0,1056.5 475.5,1056.5 476.0,1056.5 476.5,1056.5 477.0,1056.4 477.5,1056.4 478.0,1056.4 478.5,1056.4 479.0,1056.4 479.5,1056.4 480.0,1056.4 480.5,1056.4 481.0,1056.3 481.5,1056.3 482.0,1056.3 482.5,1056.3 483.0,1056.3 483.5,1056.3 484.0,1056.3 484.5,1056.3 485.0,1056.2 485.5,1056.2 486.0,1056.2 486.5,1056.2 487.0,1056.2 487.5,1056.2 488.0,1056.2 488.5,1056.2 489.0,1056.1 489.5,1056.1 490.0,1056.1 490.5,1056.1 491.0,1056.1 491.5,1056.1 492.0,1056.1 492.5,1056.1 493.0,1056.1 493.5,1056.0 494.0,1056.0 494.5,1056.0 495.0,1056.0 495.5,1056.0 496.0,1056.0 496.5,1056.0 497.0,1056.0 497.5,1055.9 498.0,1055.9 498.5,1055.9 499.0,1055.9 499.5,1055.9 500.0,1055.9 500.5,1055.9 501.0,1055.9 501.5,1055.8 502.0,1055.8 502.5,1055.8 503.0,1055.8 503.5,1055.8 504.0,1055.8 504.5,1055.8 505.0,1055.8 505.5,1055.7 506.0,1055.7 506.5,1055.7 507.0,1055.7 507.5,1055.7 508.0,1055.7 508.5,1055.7 509.0,1055.7 509.5,1055.6 510.0,1055.6 510.5,1055.6 511.0,1055.6 511.5,1055.6 512.0,1055.6 512.5,1055.6 513.0,1055.6 513.5,1055.6 514.0,1055.5 514.5,1055.5 515.0,1055.5 515.5,1055.5 516.0,1055.5 516.5,1055.5 517.0,1055.5 517.5,1055.5 518.0,1055.4 518.5,1055.4 519.0,1055.4 519.5,1055.4 520.0,1055.4 520.5,1055.4 521.0,1055.4 521.5,1055.3 522.0,1055.3 522.5,1055.3 523.0,1055.3 523.5,1055.3 524.0,1055.2 524.5,1055.2 525.0,1055.2 525.5,1055.2 526.0,1055.2 526.5,1055.2 527.0,1055.1 527.5,1055.1 528.0,1055.1 528.5,1055.1 529.0,1055.1 529.5,1055.0 530.0,1055.0 530.5,1055.0 531.0,1055.0 531.5,1055.0 532.0,1055.0 532.5,1054.9 533.0,1054.9 533.5,1054.9 534.0,1054.9 534.5,1054.9 535.0,1054.8 535.5,1054.8 536.0,1054.8 536.5,1054.8 537.0,1054.8 537.5,1054.7 538.0,1054.7 538.5,1054.7 539.0,1054.7 539.5,1054.7 540.0,1054.7 540.5,1054.6 541.0,1054.6 541.5,1054.6 542.0,1054.6 542.5,1054.6 543.0,1054.5 543.5,1054.5 544.0,1054.5 544.5,1054.5 545.0,1054.5 545.5,1054.5 546.0,1054.4 546.5,1054.4 547.0,1054.4 547.5,1054.4 548.0,1054.4 548.5,1054.3 549.0,1054.3 549.5,1054.3 550.0,1054.3 550.5,1054.3 551.0,1054.2 551.5,1054.2 552.0,1054.2 552.5,1054.2 553.0,1054.2 553.5,1054.2 554.0,1054.1 554.5,1054.1 555.0,1054.1 555.5,1054.1 556.0,1054.1 556.5,1054.0 557.0,1054.0 557.5,1054.0 558.0,1054.0 558.5,1054.0 559.0,1053.9 559.5,1053.9 560.0,1053.9 560.5,1053.9 561.0,1053.9 561.5,1053.8 562.0,1053.8 562.5,1053.8 563.0,1053.8 563.5,1053.7 564.0,1053.7 564.5,1053.7 565.0,1053.7 565.5,1053.6 566.0,1053.6 566.5,1053.6 567.0,1053.5 567.5,1053.5 568.0,1053.5 568.5,1053.4 569.0,1053.4 569.5,1053.4 570.0,1053.3 570.5,1053.3 571.0,1053.2 571.5,1053.2 572.0,1053.2 572.5,1053.1 573.0,1053.1 573.5,1053.0 574.0,1052.9 574.5,1052.9 575.0,1052.8 575.5,1052.7 576.0,1052.6 576.5,1052.5 577.0,1052.4 577.5,1052.3 578.0,1052.1 578.5,1052.0 579.0,1051.8 579.5,1051.7 580.0,1051.5 580.5,1051.3 581.0,1051.0 581.5,1050.8 582.0,1050.5 582.5,1050.2 583.0,1049.9 583.5,1049.6 584.0,1049.2 584.5,1048.8 585.0,1048.3 585.5,1047.9 586.0,1047.3 586.5,1046.8 587.0,1046.2 587.5,1045.6 588.0,1044.9 588.5,1044.1 589.0,1043.3 589.5,1042.5 590.0,1041.5 590.5,1040.6 591.0,1039.5 591.5,1038.4 592.0,1037.2 592.5,1035.9 593.0,1034.6 593.5,1033.1 594.0,1031.6 594.5,1030.0 595.0,1028.2 595.5,1026.4 596.0,1024.5 596.5,1022.4 597.0,1020.3 597.5,1018.0 598.0,1015.6 598.5,1013.1 599.0,1010.4 599.5,1007.7 600.0,1004.7 600.5,1001.7 601.0,998.5 601.5,995.2 602.0,991.7 602.5,988.1 603.0,984.3 603.5,980.4 604.0,976.3 604.5,972.0 605.0,967.7 605.5,963.1 606.0,958.4 606.5,953.6 607.0,948.6 607.5,943.5 608.0,938.2 608.5,932.8 609.0,927.2 609.5,921.6 610.0,915.7 610.5,909.8 611.0,903.7 611.5,897.6 612.0,891.3 612.5,884.9 613.0,878.5 613.5,871.9 614.0,865.3 614.5,858.6 615.0,851.9 615.5,845.2 616.0,838.4 616.5,831.6 617.0,824.8 617.5,818.0 618.0,811.2 618.5,804.5 619.0,797.8 619.5,791.2 620.0,784.7 620.5,778.2 621.0,771.9 621.5,765.7 622.0,759.6 622.5,753.7 623.0,747.9 623.5,742.3 624.0,737.0 624.5,731.8 625.0,726.8 625.5,722.1 626.0,717.6 626.5,713.3 627.0,709.3 627.5,705.6 628.0,702.2 628.5,699.1 629.0,696.3 629.5,693.8 630.0,691.6 630.5,689.8 631.0,688.2 631.5,687.0 632.0,686.2 632.5,685.7 633.0,685.5 633.5,685.7 634.0,686.2 634.5,687.0 635.0,688.2 635.5,689.7 636.0,691.6 636.5,693.7 637.0,696.2 637.5,699.0 638.0,702.1 638.5,705.5 639.0,709.2 639.5,713.2 640.0,717.4 640.5,721.9 641.0,726.6 641.5,731.6 642.0,736.8 642.5,742.2 643.0,747.7 643.5,753.5 644.0,759.4 644.5,765.5 645.0,771.7 645.5,778.0 646.0,784.4 646.5,791.0 647.0,797.6 647.5,804.2 648.0,811.0 648.5,817.7 649.0,824.5 649.5,831.3 650.0,838.1 650.5,844.8 651.0,851.6 651.5,858.3 652.0,865.0 652.5,871.6 653.0,878.1 653.5,884.5 654.0,890.9 654.5,897.2 655.0,903.3 655.5,909.4 656.0,915.3 656.5,921.1 657.0,926.8 657.5,932.3 658.0,937.7 658.5,943.0 659.0,948.1 659.5,953.1 660.0,957.9 660.5,962.6 661.0,967.1 661.5,971.5 662.0,975.7 662.5,979.8 663.0,983.7 663.5,987.5 664.0,991.1 664.5,994.6 665.0,997.9 665.5,1001.1 666.0,1004.1 666.5,1007.0 667.0,1009.8 667.5,1012.4 668.0,1014.9 668.5,1017.3 669.0,1019.6 669.5,1021.7 670.0,1023.8 670.5,1025.7 671.0,1027.5 671.5,1029.2 672.0,1030.9 672.5,1032.4 673.0,1033.8 673.5,1035.2 674.0,1036.4 674.5,1037.6 675.0,1038.7 675.5,1039.8 676.0,1040.7 676.5,1041.7 677.0,1042.5 677.5,1043.3 678.0,1044.0 678.5,1044.7 679.0,1045.3 679.5,1045.9 680.0,1046.5 680.5,1047.0 681.0,1047.4 681.5,1047.9 682.0,1048.3 682.5,1048.6 683.0,1049.0 683.5,1049.3 684.0,1049.6 684.5,1049.8 685.0,1050.1 685.5,1050.3 686.0,1050.5 686.5,1050.7 687.0,1050.8 687.5,1051.0 688.0,1051.1 688.5,1051.2 689.0,1051.4 689.5,1051.5 690.0,1051.6 690.5,1051.6 691.0,1051.7 691.5,1051.8 692.0,1051.8 692.5,1051.9 693.0,1051.9 693.5,1052.0 694.0,1052.0 694.5,1052.1 695.0,1052.1 695.5,1052.1 696.0,1052.1 696.5,1052.2 697.0,1052.2 697.5,1052.2 698.0,1052.2 698.5,1052.2 699.0,1052.2 699.5,1052.2 700.0,1052.2 700.5,1052.3 701.0,1052.3 701.5,1052.3 702.0,1052.3 702.5,1052.3 703.0,1052.3 703.5,1052.3 704.0,1052.3 704.5,1052.3 705.0,1052.3 705.5,1052.3 706.0,1052.3 706.5,1052.3 707.0,1052.3 707.5,1052.3 708.0,1052.2 708.5,1052.2 709.0,1052.2 709.5,1052.2 710.0,1052.2 710.5,1052.2 711.0,1052.2 711.5,1052.2 712.0,1052.2 712.5,1052.2 713.0,1052.2 713.5,1052.2 714.0,1052.2 714.5,1052.2 715.0,1052.2 715.5,1052.2 716.0,1052.2 716.5,1052.2 717.0,1052.2 717.5,1052.2 718.0,1052.2 718.5,1052.2 719.0,1052.2 719.5,1052.2 720.0,1052.1 720.5,1052.1 721.0,1052.1 721.5,1052.1 722.0,1052.1 722.5,1052.1 723.0,1052.1 723.5,1052.1 724.0,1052.1 724.5,1052.1 725.0,1052.1 725.5,1052.1 726.0,1052.1 726.5,1052.1 727.0,1052.1 727.5,1052.1 728.0,1052.1 728.5,1052.1 729.0,1052.1 729.5,1052.1 730.0,1052.1 730.5,1052.0 731.0,1052.0 731.5,1052.0 732.0,1052.0 732.5,1052.0 733.0,1052.0 733.5,1052.0 734.0,1052.0 734.5,1052.0 735.0,1052.0 735.5,1052.0 736.0,1052.0 736.5,1052.0 737.0,1052.0 737.5,1052.0 738.0,1052.0 738.5,1052.0 739.0,1052.0 739.5,1052.0 740.0,1052.0 740.5,1052.0 741.0,1052.0 741.5,1051.9 742.0,1051.9 742.5,1051.9 743.0,1051.9 743.5,1051.9 744.0,1051.9 744.5,1051.9 745.0,1051.9 745.5,1051.9 746.0,1051.9 746.5,1051.9 747.0,1051.9 747.5,1051.9 748.0,1051.9 748.5,1051.9 749.0,1051.9 749.5,1051.9 750.0,1051.9 750.5,1051.9 751.0,1051.9 751.5,1051.9 752.0,1051.8 752.5,1051.8 753.0,1051.8 753.5,1051.8 754.0,1051.8 754.5,1051.8 755.0,1051.8 755.5,1051.8 756.0,1051.8 756.5,1051.8 757.0,1051.8 757.5,1051.8 758.0,1051.8 758.5,1051.8 759.0,1051.8 759.5,1051.8 760.0,1051.8 760.5,1051.8 761.0,1051.8 761.5,1051.8 762.0,1051.7 762.5,1051.7 763.0,1051.7 763.5,1051.7 764.0,1051.7 764.5,1051.7 765.0,1051.7 765.5,1051.7 766.0,1051.7 766.5,1051.7 767.0,1051.7 767.5,1051.7 768.0,1051.7 768.5,1051.7 769.0,1051.6 769.5,1051.6 770.0,1051.6 770.5,1051.6 771.0,1051.6 771.5,1051.6 772.0,1051.6 772.5,1051.6 773.0,1051.6 773.5,1051.6 774.0,1051.6 774.5,1051.6 775.0,1051.6 775.5,1051.6 776.0,1051.5 776.5,1051.5 777.0,1051.5 777.5,1051.5 778.0,1051.5 778.5,1051.5 779.0,1051.5 779.5,1051.5 780.0,1051.5 780.5,1051.5 781.0,1051.5 781.5,1051.5 782.0,1051.5 782.5,1051.5 783.0,1051.5 783.5,1051.4 784.0,1051.4 784.5,1051.4 785.0,1051.4 785.5,1051.4 786.0,1051.4 786.5,1051.4 787.0,1051.4 787.5,1051.4 788.0,1051.4 788.5,1051.4 789.0,1051.4 789.5,1051.4 790.0,1051.4 790.5,1051.3 791.0,1051.3 791.5,1051.3 792.0,1051.3 792.5,1051.3 793.0,1051.3 793.5,1051.3 794.0,1051.3 794.5,1051.3 795.0,1051.3 795.5,1051.3 796.0,1051.3 796.5,1051.3 797.0,1051.3 797.5,1051.2 798.0,1051.2 798.5,1051.2 799.0,1051.2 799.5,1051.2 800.0,1051.2 800.5,1051.2 801.0,1051.2 801.5,1051.2 802.0,1051.2 802.5,1051.2 803.0,1051.2 803.5,1051.2 804.0,1051.2 804.5,1051.1 805.0,1051.1 805.5,1051.1 806.0,1051.1 806.5,1051.1 807.0,1051.1 807.5,1051.1 808.0,1051.1 808.5,1051.1 809.0,1051.1 809.5,1051.1 810.0,1051.1 810.5,1051.1 811.0,1051.1 811.5,1051.0 812.0,1051.0 812.5,1051.0 813.0,1051.0 813.5,1051.0 814.0,1051.0 814.5,1051.0 815.0,1051.0 815.5,1051.0 816.0,1051.0 816.5,1051.0 817.0,1051.0 817.5,1051.0 818.0,1051.0 818.5,1050.9 819.0,1050.9 819.5,1050.9 820.0,1050.9 820.5,1050.9 821.0,1050.9 821.5,1050.9 822.0,1050.9 822.5,1050.9 823.0,1050.9 823.5,1050.9 824.0,1050.9 824.5,1050.9 825.0,1050.9 825.5,1050.9 826.0,1050.8 826.5,1050.8 827.0,1050.8 827.5,1050.8 828.0,1050.8 828.5,1050.8 829.0,1050.8 829.5,1050.8 830.0,1050.8 830.5,1050.8 831.0,1050.8 831.5,1050.8 832.0,1050.8 832.5,1050.8 833.0,1050.7 833.5,1050.7 834.0,1050.7 834.5,1050.7 835.0,1050.7 835.5,1050.7 836.0,1050.7 836.5,1050.7 837.0,1050.7 837.5,1050.7 838.0,1050.7 838.5,1050.7 839.0,1050.7 839.5,1050.7 840.0,1050.6 840.5,1050.6 841.0,1050.6 841.5,1050.6 842.0,1050.6 842.5,1050.6 843.0,1050.6 843.5,1050.6 844.0,1050.6 844.5,1050.6 845.0,1050.6 845.5,1050.6 846.0,1050.6 846.5,1050.6 847.0,1050.5 847.5,1050.5 848.0,1050.5 848.5,1050.5 849.0,1050.5 849.5,1050.5 850.0,1050.5 850.5,1050.5 851.0,1050.5 851.5,1050.5 852.0,1050.5 852.5,1050.5 853.0,1050.5 853.5,1050.5 854.0,1050.4 854.5,1050.4 855.0,1050.4 855.5,1050.4 856.0,1050.4 856.5,1050.4 857.0,1050.4 857.5,1050.4 858.0,1050.4 858.5,1050.4 859.0,1050.4 859.5,1050.4 860.0,1050.4 860.5,1050.4 861.0,1050.3 861.5,1050.3 862.0,1050.3 862.5,1050.3 863.0,1050.3 863.5,1050.3 864.0,1050.3 864.5,1050.3 865.0,1050.3 865.5,1050.3 866.0,1050.3 866.5,1050.3 867.0,1050.3 867.5,1050.3 868.0,1050.3 868.5,1050.2 869.0,1050.2 869.5,1050.2 870.0,1050.2 870.5,1050.2 871.0,1050.2 871.5,1050.2 872.0,1050.2 872.5,1050.2 873.0,1050.2 873.5,1050.2 874.0,1050.2 874.5,1050.2 875.0,1050.2 875.5,1050.1 876.0,1050.1 876.5,1050.1 877.0,1050.1 877.5,1050.1 878.0,1050.1 878.5,1050.1 879.0,1050.1 879.5,1050.1 880.0,1050.1 880.5,1050.1 881.0,1050.1 881.5,1050.1 882.0,1050.1 882.5,1050.0 883.0,1050.0 883.5,1050.0 884.0,1050.0 884.5,1050.0 885.0,1050.0 885.5,1050.0 886.0,1050.0 886.5,1050.0 887.0,1050.0 887.5,1050.0 888.0,1050.0 888.5,1050.0 889.0,1050.0 889.5,1049.9 890.0,1049.9 890.5,1049.9 891.0,1049.9 891.5,1049.9 892.0,1049.9 892.5,1049.9 893.0,1049.9 893.5,1049.9 894.0,1049.9 894.5,1049.9 895.0,1049.9 895.5,1049.9 896.0,1049.9 896.5,1049.8 897.0,1049.8 897.5,1049.8 898.0,1049.8 898.5,1049.8 899.0,1049.8 899.5,1049.8 900.0,1049.8 900.5,1049.8 901.0,1049.8 901.5,1049.8 902.0,1049.8 902.5,1049.8 903.0,1049.8 903.5,1049.8 904.0,1049.7 904.5,1049.7 905.0,1049.7 905.5,1049.7 906.0,1049.7 906.5,1049.7 907.0,1049.7 907.5,1049.7 908.0,1049.7 908.5,1049.7 909.0,1049.7 909.5,1049.7 910.0,1049.7 910.5,1049.7 911.0,1049.6 911.5,1049.6 912.0,1049.6 912.5,1049.6 913.0,1049.6 913.5,1049.6 914.0,1049.6 914.5,1049.6 915.0,1049.6 915.5,1049.6 916.0,1049.6 916.5,1049.6 917.0,1049.6 917.5,1049.6 918.0,1049.5 918.5,1049.5 919.0,1049.5 919.5,1049.5 920.0,1049.5 920.5,1049.5 921.0,1049.5 921.5,1049.5 922.0,1049.5 922.5,1049.5 923.0,1049.5 923.5,1049.5 924.0,1049.5 924.5,1049.5 925.0,1049.4 925.5,1049.4 926.0,1049.4 926.5,1049.4 927.0,1049.4 927.5,1049.4 928.0,1049.4 928.5,1049.4 929.0,1049.4 929.5,1049.4 930.0,1049.4 930.5,1049.4 931.0,1049.4 931.5,1049.4 932.0,1049.3 932.5,1049.3 933.0,1049.3 933.5,1049.3 934.0,1049.3 934.5,1049.3 935.0,1049.3 935.5,1049.3 936.0,1049.3 936.5,1049.3 937.0,1049.3 937.5,1049.3 938.0,1049.3 938.5,1049.3 939.0,1049.2 939.5,1049.2 940.0,1049.2 940.5,1049.2 941.0,1049.2 941.5,1049.2 942.0,1049.2 942.5,1049.2 943.0,1049.2 943.5,1049.2 944.0,1049.2 944.5,1049.2 945.0,1049.2 945.5,1049.2 946.0,1049.2 946.5,1049.2 947.0,1049.2 947.5,1049.2 948.0,1049.1 948.5,1049.1 949.0,1049.1 949.5,1049.1 950.0,1049.1 950.5,1049.1 951.0,1049.1 951.5,1049.1 952.0,1049.1 952.5,1049.1 953.0,1049.1 953.5,1049.1 954.0,1049.1 954.5,1049.1 955.0,1049.1 955.5,1049.1 956.0,1049.1 956.5,1049.1 957.0,1049.0 957.5,1049.0 958.0,1049.0 958.5,1049.0 959.0,1049.0 959.5,1049.0 960.0,1049.0 960.5,1049.0 961.0,1049.0 961.5,1049.0 962.0,1049.0 962.5,1049.0 963.0,1049.0 963.5,1049.0 964.0,1049.0 964.5,1049.0 965.0,1049.0 965.5,1049.0 966.0,1048.9 966.5,1048.9 967.0,1048.9 967.5,1048.9 968.0,1048.9 968.5,1048.9 969.0,1048.9 969.5,1048.9 970.0,1048.9 970.5,1048.9 971.0,1048.9 971.5,1048.9 972.0,1048.9 972.5,1048.9 973.0,1048.9 973.5,1048.9 974.0,1048.9 974.5,1048.9 975.0,1048.8 975.5,1048.8 976.0,1048.8 976.5,1048.8 977.0,1048.8 977.5,1048.8 978.0,1048.8 978.5,1048.8 979.0,1048.8 979.5,1048.8 980.0,1048.8 980.5,1048.8 981.0,1048.8 981.5,1048.8 982.0,1048.8 982.5,1048.8 983.0,1048.8 983.5,1048.8 984.0,1048.7 984.5,1048.7 985.0,1048.7 985.5,1048.7 986.0,1048.7 986.5,1048.7 987.0,1048.7 987.5,1048.7 988.0,1048.7 988.5,1048.7 989.0,1048.7 989.5,1048.7 990.0,1048.7 990.5,1048.7 991.0,1048.7 991.5,1048.7 992.0,1048.7 992.5,1048.7 993.0,1048.6 993.5,1048.6 994.0,1048.6 994.5,1048.6 995.0,1048.6 995.5,1048.6 996.0,1048.6 996.5,1048.6 997.0,1048.6 997.5,1048.6 998.0,1048.6 998.5,1048.6 999.0,1048.6 999.5,1048.6 1000.0,1048.6 1000.5,1048.6 1001.0,1048.6 1001.5,1048.6 1002.0,1048.5 1002.5,1048.5 1003.0,1048.5 1003.5,1048.5 1004.0,1048.5 1004.5,1048.5 1005.0,1048.5 1005.5,1048.5 1006.0,1048.5 1006.5,1048.5 1007.0,1048.5 1007.5,1048.5 1008.0,1048.5 1008.5,1048.5 1009.0,1048.5 1009.5,1048.5 1010.0,1048.5 1010.5,1048.5 1011.0,1048.4 1011.5,1048.4 1012.0,1048.4 1012.5,1048.4 1013.0,1048.4 1013.5,1048.4 1014.0,1048.4 1014.5,1048.4 1015.0,1048.4 1015.5,1048.4 1016.0,1048.4 1016.5,1048.4 1017.0,1048.4 1017.5,1048.4 1018.0,1048.4 1018.5,1048.4 1019.0,1048.4 1019.5,1048.4 1020.0,1048.3 1020.5,1048.3 1021.0,1048.3 1021.5,1048.3 1022.0,1048.3 1022.5,1048.3 1023.0,1048.3 1023.5,1048.3 1024.0,1048.3 1024.5,1048.3 1025.0,1048.3 1025.5,1048.3 1026.0,1048.3 1026.5,1048.3 1027.0,1048.3 1027.5,1048.3 1028.0,1048.3 1028.5,1048.3 1029.0,1048.2 1029.5,1048.2 1030.0,1048.2 1030.5,1048.2 1031.0,1048.2 1031.5,1048.2 1032.0,1048.2 1032.5,1048.2 1033.0,1048.2 1033.5,1048.2 1034.0,1048.2 1034.5,1048.2 1035.0,1048.2 1035.5,1048.2 1036.0,1048.2 1036.5,1048.2 1037.0,1048.2 1037.5,1048.2 1038.0,1048.1 1038.5,1048.1 1039.0,1048.1 1039.5,1048.1 1040.0,1048.1 1040.5,1048.1 1041.0,1048.1 1041.5,1048.1 1042.0,1048.1 1042.5,1048.1 1043.0,1048.1 1043.5,1048.1 1044.0,1048.1 1044.5,1048.1 1045.0,1048.1 1045.5,1048.1 1046.0,1048.1 1046.5,1048.1 1047.0,1048.0 1047.5,1048.0 1048.0,1048.0 1048.5,1048.0 1049.0,1048.0 1049.5,1048.0 1050.0,1048.0 1050.5,1048.0 1051.0,1048.0 1051.5,1048.0 1052.0,1048.0 1052.5,1048.0 1053.0,1048.0 1053.5,1048.0 1054.0,1048.0 1054.5,1048.0 1055.0,1048.0 1055.5,1048.0 1056.0,1047.9 1056.5,1047.9 1057.0,1047.9 1057.5,1047.9 1058.0,1047.9 1058.5,1047.9 1059.0,1047.9 1059.5,1047.9 1060.0,1047.9 1060.5,1047.9 1061.0,1047.9 1061.5,1047.9 1062.0,1047.9 1062.5,1047.9 1063.0,1047.9 1063.5,1047.9 1064.0,1047.9 1064.5,1047.8 1065.0,1047.8 1065.5,1047.8 1066.0,1047.8 1066.5,1047.8 1067.0,1047.8 1067.5,1047.8 1068.0,1047.8 1068.5,1047.8 1069.0,1047.8 1069.5,1047.8 1070.0,1047.8 1070.5,1047.8 1071.0,1047.8 1071.5,1047.8 1072.0,1047.8 1072.5,1047.8 1073.0,1047.8 1073.5,1047.7 1074.0,1047.7 1074.5,1047.7 1075.0,1047.7 1075.5,1047.7 1076.0,1047.7 1076.5,1047.7 1077.0,1047.7 1077.5,1047.7 1078.0,1047.7 1078.5,1047.7 1079.0,1047.7 1079.5,1047.7 1080.0,1047.7 1080.5,1047.7 1081.0,1047.7 1081.5,1047.7 1082.0,1047.7 1082.5,1047.6 1083.0,1047.6 1083.5,1047.6 1084.0,1047.6 1084.5,1047.6 1085.0,1047.6 1085.5,1047.6 1086.0,1047.6 1086.5,1047.6 1087.0,1047.6 1087.5,1047.6 1088.0,1047.6 1088.5,1047.6 1089.0,1047.6 1089.5,1047.6 1090.0,1047.6 1090.5,1047.6 1091.0,1047.6 1091.5,1047.5 1092.0,1047.5 1092.5,1047.5 1093.0,1047.5 1093.5,1047.5 1094.0,1047.5 1094.5,1047.5 1095.0,1047.5 1095.5,1047.5 1096.0,1047.5 1096.5,1047.5 1097.0,1047.5 1097.5,1047.5 1098.0,1047.5 1098.5,1047.5 1099.0,1047.5 1099.5,1047.5 1100.0,1047.5 1100.5,1047.4 1101.0,1047.4 1101.5,1047.4 1102.0,1047.4 1102.5,1047.4 1103.0,1047.4 1103.5,1047.4 1104.0,1047.4 1104.5,1047.4 1105.0,1047.4 1105.5,1047.4 1106.0,1047.4 1106.5,1047.4 1107.0,1047.3 1107.5,1047.3 1108.0,1047.3 1108.5,1047.3 1109.0,1047.3 1109.5,1047.3 1110.0,1047.3 1110.5,1047.3 1111.0,1047.3 1111.5,1047.3 1112.0,1047.3 1112.5,1047.3 1113.0,1047.3 1113.5,1047.3 1114.0,1047.2 1114.5,1047.2 1115.0,1047.2 1115.5,1047.2 1116.0,1047.2 1116.5,1047.2 1117.0,1047.2 1117.5,1047.2 1118.0,1047.2 1118.5,1047.2 1119.0,1047.2 1119.5,1047.2 1120.0,1047.2 1120.5,1047.1 1121.0,1047.1 1121.5,1047.1 1122.0,1047.1 1122.5,1047.1 1123.0,1047.1 1123.5,1047.1 1124.0,1047.1 1124.5,1047.1 1125.0,1047.1 1125.5,1047.1 1126.0,1047.1 1126.5,1047.1 1127.0,1047.0 1127.5,1047.0 1128.0,1047.0 1128.5,1047.0 1129.0,1047.0 1129.5,1047.0 1130.0,1047.0 1130.5,1047.0 1131.0,1047.0 1131.5,1047.0 1132.0,1047.0 1132.5,1047.0 1133.0,1047.0 1133.5,1047.0 1134.0,1046.9 1134.5,1046.9 1135.0,1046.9 1135.5,1046.9 1136.0,1046.9 1136.5,1046.9 1137.0,1046.9 1137.5,1046.9 1138.0,1046.9 1138.5,1046.9 1139.0,1046.9 1139.5,1046.9 1140.0,1046.9 1140.5,1046.8 1141.0,1046.8 1141.5,1046.8 1142.0,1046.8 1142.5,1046.8 1143.0,1046.8 1143.5,1046.8 1144.0,1046.8 1144.5,1046.8 1145.0,1046.8 1145.5,1046.8 1146.0,1046.8 1146.5,1046.8 1147.0,1046.7 1147.5,1046.7 1148.0,1046.7 1148.5,1046.7 1149.0,1046.7 1149.5,1046.7 1150.0,1046.7 1150.5,1046.7 1151.0,1046.7 1151.5,1046.7 1152.0,1046.7 1152.5,1046.7 1153.0,1046.7 1153.5,1046.7 1154.0,1046.6 1154.5,1046.6 1155.0,1046.6 1155.5,1046.6 1156.0,1046.6 1156.5,1046.6 1157.0,1046.6 1157.5,1046.6 1158.0,1046.6 1158.5,1046.6 1159.0,1046.6 1159.5,1046.6 1160.0,1046.6 1160.5,1046.5 1161.0,1046.5 1161.5,1046.5 1162.0,1046.5 1162.5,1046.5 1163.0,1046.5 1163.5,1046.5 1164.0,1046.5 1164.5,1046.5 1165.0,1046.5 1165.5,1046.5 1166.0,1046.5 1166.5,1046.5 1167.0,1046.4 1167.5,1046.4 1168.0,1046.4 1168.5,1046.4 1169.0,1046.4 1169.5,1046.4 1170.0,1046.4 1170.5,1046.4 1171.0,1046.4 1171.5,1046.4 1172.0,1046.4 1172.5,1046.4 1173.0,1046.4 1173.5,1046.4 1174.0,1046.3 1174.5,1046.3 1175.0,1046.3 1175.5,1046.3 1176.0,1046.3 1176.5,1046.3 1177.0,1046.3 1177.5,1046.3 1178.0,1046.3 1178.5,1046.3 1179.0,1046.3 1179.5,1046.3 1180.0,1046.3 1180.5,1046.2 1181.0,1046.2 1181.5,1046.2 1182.0,1046.2 1182.5,1046.2 1183.0,1046.2 1183.5,1046.2 1184.0,1046.2 1184.5,1046.2 1185.0,1046.2 1185.5,1046.2 1186.0,1046.2 1186.5,1046.2 1187.0,1046.1 1187.5,1046.1 1188.0,1046.1 1188.5,1046.1 1189.0,1046.1 1189.5,1046.1 1190.0,1046.1 1190.5,1046.1 1191.0,1046.1 1191.5,1046.1 1192.0,1046.1 1192.5,1046.1 1193.0,1046.1 1193.5,1046.1 1194.0,1046.0 1194.5,1046.0 1195.0,1046.0 1195.5,1046.0 1196.0,1046.0 1196.5,1046.0 1197.0,1046.0 1197.5,1046.0 1198.0,1046.0 1198.5,1046.0 1199.0,1046.0 1199.5,1046.0 1200.0,1046.0 1200.5,1045.9 1201.0,1045.9 1201.5,1045.9 1202.0,1045.9 1202.5,1045.9 1203.0,1045.9 1203.5,1045.9 1204.0,1045.9 1204.5,1045.9 1205.0,1045.9 1205.5,1045.9 1206.0,1045.9 1206.5,1045.9 1207.0,1045.8 1207.5,1045.8 1208.0,1045.8 1208.5,1045.8 1209.0,1045.8 1209.5,1045.8 1210.0,1045.8 1210.5,1045.8 1211.0,1045.8 1211.5,1045.8 1212.0,1045.8 1212.5,1045.8 1213.0,1045.8 1213.5,1045.7 1214.0,1045.7 1214.5,1045.7 1215.0,1045.7 1215.5,1045.7 1216.0,1045.7 1216.5,1045.7 1217.0,1045.7 1217.5,1045.7 1218.0,1045.7 1218.5,1045.7 1219.0,1045.7 1219.5,1045.7 1220.0,1045.7 1220.5,1045.6 1221.0,1045.6 1221.5,1045.6 1222.0,1045.6 1222.5,1045.6 1223.0,1045.6 1223.5,1045.6 1224.0,1045.6 1224.5,1045.6 1225.0,1045.6 1225.5,1045.6 1226.0,1045.6 1226.5,1045.6 1227.0,1045.5 1227.5,1045.5 1228.0,1045.5 1228.5,1045.5 1229.0,1045.5 1229.5,1045.5 1230.0,1045.5 1230.5,1045.5 1231.0,1045.5 1231.5,1045.5 1232.0,1045.5 1232.5,1045.5 1233.0,1045.5 1233.5,1045.4 1234.0,1045.4 1234.5,1045.4 1235.0,1045.4 1235.5,1045.4 1236.0,1045.4 1236.5,1045.4 1237.0,1045.4 1237.5,1045.4 1238.0,1045.4 1238.5,1045.4 1239.0,1045.4 1239.5,1045.4 1240.0,1045.4 1240.5,1045.3 1241.0,1045.3 1241.5,1045.3 1242.0,1045.3 1242.5,1045.3 1243.0,1045.3 1243.5,1045.3 1244.0,1045.3 1244.5,1045.3 1245.0,1045.3 1245.5,1045.3 1246.0,1045.3 1246.5,1045.3 1247.0,1045.2 1247.5,1045.2 1248.0,1045.2 1248.5,1045.2 1249.0,1045.2 1249.5,1045.2 1250.0,1045.2 1250.5,1045.2 1251.0,1045.2 1251.5,1045.2 1252.0,1045.2 1252.5,1045.2 1253.0,1045.2 1253.5,1045.1 1254.0,1045.1 1254.5,1045.1 1255.0,1045.1 1255.5,1045.1 1256.0,1045.1 1256.5,1045.1 1257.0,1045.1 1257.5,1045.1 1258.0,1045.1 1258.5,1045.1 1259.0,1045.1 1259.5,1045.1 1260.0,1045.1 1260.5,1045.0 1261.0,1045.0 1261.5,1045.0 1262.0,1045.0 1262.5,1045.0 1263.0,1045.0 1263.5,1045.0"/>
<polyline fill="none" stroke="#3CB7FF" stroke-width="4.2" stroke-linejoin="round" points="285.0,1062.1 285.5,1062.1 286.0,1062.1 286.5,1062.1 287.0,1062.0 287.5,1062.0 288.0,1062.0 288.5,1062.0 289.0,1062.0 289.5,1062.0 290.0,1062.0 290.5,1061.9 291.0,1061.9 291.5,1061.9 292.0,1061.9 292.5,1061.9 293.0,1061.9 293.5,1061.9 294.0,1061.9 294.5,1061.8 295.0,1061.8 295.5,1061.8 296.0,1061.8 296.5,1061.8 297.0,1061.8 297.5,1061.8 298.0,1061.7 298.5,1061.7 299.0,1061.7 299.5,1061.7 300.0,1061.7 300.5,1061.7 301.0,1061.7 301.5,1061.6 302.0,1061.6 302.5,1061.6 303.0,1061.6 303.5,1061.6 304.0,1061.6 304.5,1061.6 305.0,1061.5 305.5,1061.5 306.0,1061.5 306.5,1061.5 307.0,1061.5 307.5,1061.5 308.0,1061.5 308.5,1061.5 309.0,1061.4 309.5,1061.4 310.0,1061.4 310.5,1061.4 311.0,1061.4 311.5,1061.4 312.0,1061.4 312.5,1061.3 313.0,1061.3 313.5,1061.3 314.0,1061.3 314.5,1061.3 315.0,1061.3 315.5,1061.3 316.0,1061.2 316.5,1061.2 317.0,1061.2 317.5,1061.2 318.0,1061.2 318.5,1061.2 319.0,1061.2 319.5,1061.1 320.0,1061.1 320.5,1061.1 321.0,1061.1 321.5,1061.1 322.0,1061.1 322.5,1061.1 323.0,1061.0 323.5,1061.0 324.0,1061.0 324.5,1061.0 325.0,1061.0 325.5,1061.0 326.0,1061.0 326.5,1061.0 327.0,1060.9 327.5,1060.9 328.0,1060.9 328.5,1060.9 329.0,1060.9 329.5,1060.9 330.0,1060.9 330.5,1060.8 331.0,1060.8 331.5,1060.8 332.0,1060.8 332.5,1060.8 333.0,1060.8 333.5,1060.8 334.0,1060.7 334.5,1060.7 335.0,1060.7 335.5,1060.7 336.0,1060.7 336.5,1060.7 337.0,1060.7 337.5,1060.6 338.0,1060.6 338.5,1060.6 339.0,1060.6 339.5,1060.6 340.0,1060.6 340.5,1060.6 341.0,1060.6 341.5,1060.5 342.0,1060.5 342.5,1060.5 343.0,1060.5 343.5,1060.5 344.0,1060.5 344.5,1060.5 345.0,1060.4 345.5,1060.4 346.0,1060.4 346.5,1060.4 347.0,1060.4 347.5,1060.4 348.0,1060.4 348.5,1060.3 349.0,1060.3 349.5,1060.3 350.0,1060.3 350.5,1060.3 351.0,1060.3 351.5,1060.3 352.0,1060.2 352.5,1060.2 353.0,1060.2 353.5,1060.2 354.0,1060.2 354.5,1060.2 355.0,1060.2 355.5,1060.2 356.0,1060.1 356.5,1060.1 357.0,1060.1 357.5,1060.1 358.0,1060.1 358.5,1060.1 359.0,1060.1 359.5,1060.0 360.0,1060.0 360.5,1060.0 361.0,1060.0 361.5,1060.0 362.0,1060.0 362.5,1060.0 363.0,1059.9 363.5,1059.9 364.0,1059.9 364.5,1059.9 365.0,1059.9 365.5,1059.9 366.0,1059.9 366.5,1059.8 367.0,1059.8 367.5,1059.8 368.0,1059.8 368.5,1059.8 369.0,1059.8 369.5,1059.8 370.0,1059.7 370.5,1059.7 371.0,1059.7 371.5,1059.7 372.0,1059.7 372.5,1059.7 373.0,1059.7 373.5,1059.7 374.0,1059.6 374.5,1059.6 375.0,1059.6 375.5,1059.6 376.0,1059.6 376.5,1059.6 377.0,1059.6 377.5,1059.5 378.0,1059.5 378.5,1059.5 379.0,1059.5 379.5,1059.5 380.0,1059.5 380.5,1059.5 381.0,1059.4 381.5,1059.4 382.0,1059.4 382.5,1059.4 383.0,1059.4 383.5,1059.4 384.0,1059.4 384.5,1059.3 385.0,1059.3 385.5,1059.3 386.0,1059.3 386.5,1059.3 387.0,1059.3 387.5,1059.3 388.0,1059.3 388.5,1059.2 389.0,1059.2 389.5,1059.2 390.0,1059.2 390.5,1059.2 391.0,1059.2 391.5,1059.2 392.0,1059.1 392.5,1059.1 393.0,1059.1 393.5,1059.1 394.0,1059.1 394.5,1059.1 395.0,1059.1 395.5,1059.0 396.0,1059.0 396.5,1059.0 397.0,1059.0 397.5,1059.0 398.0,1059.0 398.5,1059.0 399.0,1058.9 399.5,1058.9 400.0,1058.9 400.5,1058.9 401.0,1058.9 401.5,1058.9 402.0,1058.9 402.5,1058.9 403.0,1058.8 403.5,1058.8 404.0,1058.8 404.5,1058.8 405.0,1058.8 405.5,1058.8 406.0,1058.8 406.5,1058.7 407.0,1058.7 407.5,1058.7 408.0,1058.7 408.5,1058.7 409.0,1058.7 409.5,1058.7 410.0,1058.6 410.5,1058.6 411.0,1058.6 411.5,1058.6 412.0,1058.6 412.5,1058.6 413.0,1058.6 413.5,1058.5 414.0,1058.5 414.5,1058.5 415.0,1058.5 415.5,1058.5 416.0,1058.5 416.5,1058.5 417.0,1058.5 417.5,1058.4 418.0,1058.4 418.5,1058.4 419.0,1058.4 419.5,1058.4 420.0,1058.4 420.5,1058.4 421.0,1058.3 421.5,1058.3 422.0,1058.3 422.5,1058.3 423.0,1058.3 423.5,1058.3 424.0,1058.3 424.5,1058.2 425.0,1058.2 425.5,1058.2 426.0,1058.2 426.5,1058.2 427.0,1058.2 427.5,1058.2 428.0,1058.1 428.5,1058.1 429.0,1058.1 429.5,1058.1 430.0,1058.1 430.5,1058.1 431.0,1058.1 431.5,1058.0 432.0,1058.0 432.5,1058.0 433.0,1058.0 433.5,1058.0 434.0,1058.0 434.5,1058.0 435.0,1058.0 435.5,1057.9 436.0,1057.9 436.5,1057.9 437.0,1057.9 437.5,1057.9 438.0,1057.9 438.5,1057.9 439.0,1057.8 439.5,1057.8 440.0,1057.8 440.5,1057.8 441.0,1057.8 441.5,1057.8 442.0,1057.8 442.5,1057.7 443.0,1057.7 443.5,1057.7 444.0,1057.7 444.5,1057.7 445.0,1057.7 445.5,1057.7 446.0,1057.6 446.5,1057.6 447.0,1057.6 447.5,1057.6 448.0,1057.6 448.5,1057.6 449.0,1057.6 449.5,1057.6 450.0,1057.5 450.5,1057.5 451.0,1057.5 451.5,1057.5 452.0,1057.5 452.5,1057.5 453.0,1057.5 453.5,1057.4 454.0,1057.4 454.5,1057.4 455.0,1057.4 455.5,1057.4 456.0,1057.4 456.5,1057.4 457.0,1057.3 457.5,1057.3 458.0,1057.3 458.5,1057.3 459.0,1057.3 459.5,1057.3 460.0,1057.3 460.5,1057.2 461.0,1057.2 461.5,1057.2 462.0,1057.2 462.5,1057.2 463.0,1057.2 463.5,1057.2 464.0,1057.2 464.5,1057.1 465.0,1057.1 465.5,1057.1 466.0,1057.1 466.5,1057.1 467.0,1057.1 467.5,1057.1 468.0,1057.0 468.5,1057.0 469.0,1057.0 469.5,1057.0 470.0,1057.0 470.5,1057.0 471.0,1057.0 471.5,1056.9 472.0,1056.9 472.5,1056.9 473.0,1056.9 473.5,1056.9 474.0,1056.9 474.5,1056.9 475.0,1056.8 475.5,1056.8 476.0,1056.8 476.5,1056.8 477.0,1056.8 477.5,1056.8 478.0,1056.8 478.5,1056.7 479.0,1056.7 479.5,1056.7 480.0,1056.7 480.5,1056.7 481.0,1056.7 481.5,1056.7 482.0,1056.7 482.5,1056.6 483.0,1056.6 483.5,1056.6 484.0,1056.6 484.5,1056.6 485.0,1056.6 485.5,1056.6 486.0,1056.5 486.5,1056.5 487.0,1056.5 487.5,1056.5 488.0,1056.5 488.5,1056.5 489.0,1056.5 489.5,1056.4 490.0,1056.4 490.5,1056.4 491.0,1056.4 491.5,1056.4 492.0,1056.4 492.5,1056.4 493.0,1056.3 493.5,1056.3 494.0,1056.3 494.5,1056.3 495.0,1056.3 495.5,1056.3 496.0,1056.3 496.5,1056.3 497.0,1056.2 497.5,1056.2 498.0,1056.2 498.5,1056.2 499.0,1056.2 499.5,1056.2 500.0,1056.2 500.5,1056.1 501.0,1056.1 501.5,1056.1 502.0,1056.1 502.5,1056.1 503.0,1056.1 503.5,1056.0 504.0,1056.0 504.5,1056.0 505.0,1056.0 505.5,1056.0 506.0,1056.0 506.5,1055.9 507.0,1055.9 507.5,1055.9 508.0,1055.9 508.5,1055.9 509.0,1055.9 509.5,1055.8 510.0,1055.8 510.5,1055.8 511.0,1055.8 511.5,1055.8 512.0,1055.8 512.5,1055.7 513.0,1055.7 513.5,1055.7 514.0,1055.7 514.5,1055.7 515.0,1055.7 515.5,1055.6 516.0,1055.6 516.5,1055.6 517.0,1055.6 517.5,1055.6 518.0,1055.6 518.5,1055.5 519.0,1055.5 519.5,1055.5 520.0,1055.5 520.5,1055.5 521.0,1055.5 521.5,1055.4 522.0,1055.4 522.5,1055.4 523.0,1055.4 523.5,1055.4 524.0,1055.4 524.5,1055.3 525.0,1055.3 525.5,1055.3 526.0,1055.3 526.5,1055.3 527.0,1055.2 527.5,1055.2 528.0,1055.2 528.5,1055.2 529.0,1055.2 529.5,1055.2 530.0,1055.1 530.5,1055.1 531.0,1055.1 531.5,1055.1 532.0,1055.1 532.5,1055.1 533.0,1055.0 533.5,1055.0 534.0,1055.0 534.5,1055.0 535.0,1055.0 535.5,1055.0 536.0,1054.9 536.5,1054.9 537.0,1054.9 537.5,1054.9 538.0,1054.9 538.5,1054.9 539.0,1054.8 539.5,1054.8 540.0,1054.8 540.5,1054.8 541.0,1054.8 541.5,1054.8 542.0,1054.7 542.5,1054.7 543.0,1054.7 543.5,1054.7 544.0,1054.7 544.5,1054.7 545.0,1054.6 545.5,1054.6 546.0,1054.6 546.5,1054.6 547.0,1054.6 547.5,1054.6 548.0,1054.5 548.5,1054.5 549.0,1054.5 549.5,1054.5 550.0,1054.5 550.5,1054.5 551.0,1054.4 551.5,1054.4 552.0,1054.4 552.5,1054.4 553.0,1054.4 553.5,1054.4 554.0,1054.3 554.5,1054.3 555.0,1054.3 555.5,1054.3 556.0,1054.3 556.5,1054.3 557.0,1054.2 557.5,1054.2 558.0,1054.2 558.5,1054.2 559.0,1054.2 559.5,1054.2 560.0,1054.1 560.5,1054.1 561.0,1054.1 561.5,1054.1 562.0,1054.1 562.5,1054.1 563.0,1054.0 563.5,1054.0 564.0,1054.0 564.5,1054.0 565.0,1054.0 565.5,1054.0 566.0,1053.9 566.5,1053.9 567.0,1053.9 567.5,1053.9 568.0,1053.9 568.5,1053.9 569.0,1053.8 569.5,1053.8 570.0,1053.8 570.5,1053.8 571.0,1053.8 571.5,1053.8 572.0,1053.7 572.5,1053.7 573.0,1053.7 573.5,1053.7 574.0,1053.7 574.5,1053.7 575.0,1053.6 575.5,1053.6 576.0,1053.6 576.5,1053.6 577.0,1053.6 577.5,1053.6 578.0,1053.5 578.5,1053.5 579.0,1053.5 579.5,1053.5 580.0,1053.5 580.5,1053.5 581.0,1053.4 581.5,1053.4 582.0,1053.4 582.5,1053.4 583.0,1053.4 583.5,1053.4 584.0,1053.3 584.5,1053.3 585.0,1053.3 585.5,1053.3 586.0,1053.3 586.5,1053.3 587.0,1053.2 587.5,1053.2 588.0,1053.2 588.5,1053.2 589.0,1053.2 589.5,1053.2 590.0,1053.1 590.5,1053.1 591.0,1053.1 591.5,1053.1 592.0,1053.1 592.5,1053.1 593.0,1053.0 593.5,1053.0 594.0,1053.0 594.5,1053.0 595.0,1053.0 595.5,1053.0 596.0,1052.9 596.5,1052.9 597.0,1052.9 597.5,1052.9 598.0,1052.9 598.5,1052.9 599.0,1052.8 599.5,1052.8 600.0,1052.8 600.5,1052.8 601.0,1052.8 601.5,1052.8 602.0,1052.7 602.5,1052.7 603.0,1052.7 603.5,1052.7 604.0,1052.7 604.5,1052.7 605.0,1052.6 605.5,1052.6 606.0,1052.6 606.5,1052.6 607.0,1052.6 607.5,1052.6 608.0,1052.5 608.5,1052.5 609.0,1052.5 609.5,1052.5 610.0,1052.5 610.5,1052.5 611.0,1052.4 611.5,1052.4 612.0,1052.4 612.5,1052.4 613.0,1052.4 613.5,1052.3 614.0,1052.3 614.5,1052.3 615.0,1052.3 615.5,1052.3 616.0,1052.3 616.5,1052.2 617.0,1052.2 617.5,1052.2 618.0,1052.2 618.5,1052.2 619.0,1052.2 619.5,1052.1 620.0,1052.1 620.5,1052.1 621.0,1052.1 621.5,1052.1 622.0,1052.1 622.5,1052.0 623.0,1052.0 623.5,1052.0 624.0,1052.0 624.5,1052.0 625.0,1052.0 625.5,1051.9 626.0,1051.9 626.5,1051.9 627.0,1051.9 627.5,1051.9 628.0,1051.9 628.5,1051.8 629.0,1051.8 629.5,1051.8 630.0,1051.8 630.5,1051.8 631.0,1051.8 631.5,1051.7 632.0,1051.7 632.5,1051.7 633.0,1051.7 633.5,1051.7 634.0,1051.7 634.5,1051.6 635.0,1051.6 635.5,1051.6 636.0,1051.6 636.5,1051.6 637.0,1051.6 637.5,1051.5 638.0,1051.5 638.5,1051.5 639.0,1051.5 639.5,1051.5 640.0,1051.5 640.5,1051.4 641.0,1051.4 641.5,1051.4 642.0,1051.4 642.5,1051.4 643.0,1051.4 643.5,1051.3 644.0,1051.3 644.5,1051.3 645.0,1051.3 645.5,1051.3 646.0,1051.3 646.5,1051.2 647.0,1051.2 647.5,1051.2 648.0,1051.2 648.5,1051.2 649.0,1051.2 649.5,1051.1 650.0,1051.1 650.5,1051.1 651.0,1051.1 651.5,1051.1 652.0,1051.1 652.5,1051.0 653.0,1051.0 653.5,1051.0 654.0,1051.0 654.5,1051.0 655.0,1051.0 655.5,1050.9 656.0,1050.9 656.5,1050.9 657.0,1050.9 657.5,1050.9 658.0,1050.9 658.5,1050.8 659.0,1050.8 659.5,1050.8 660.0,1050.8 660.5,1050.8 661.0,1050.8 661.5,1050.7 662.0,1050.7 662.5,1050.7 663.0,1050.7 663.5,1050.7 664.0,1050.7 664.5,1050.6 665.0,1050.6 665.5,1050.6 666.0,1050.6 666.5,1050.6 667.0,1050.5 667.5,1050.5 668.0,1050.5 668.5,1050.5 669.0,1050.5 669.5,1050.5 670.0,1050.4 670.5,1050.4 671.0,1050.4 671.5,1050.4 672.0,1050.4 672.5,1050.4 673.0,1050.3 673.5,1050.3 674.0,1050.3 674.5,1050.3 675.0,1050.3 675.5,1050.2 676.0,1050.2 676.5,1050.2 677.0,1050.2 677.5,1050.2 678.0,1050.1 678.5,1050.1 679.0,1050.1 679.5,1050.1 680.0,1050.1 680.5,1050.0 681.0,1050.0 681.5,1050.0 682.0,1050.0 682.5,1049.9 683.0,1049.9 683.5,1049.9 684.0,1049.9 684.5,1049.9 685.0,1049.8 685.5,1049.8 686.0,1049.8 686.5,1049.7 687.0,1049.7 687.5,1049.7 688.0,1049.7 688.5,1049.6 689.0,1049.6 689.5,1049.6 690.0,1049.5 690.5,1049.5 691.0,1049.5 691.5,1049.5 692.0,1049.4 692.5,1049.4 693.0,1049.4 693.5,1049.4 694.0,1049.3 694.5,1049.3 695.0,1049.3 695.5,1049.3 696.0,1049.2 696.5,1049.2 697.0,1049.1 697.5,1049.1 698.0,1049.1 698.5,1049.0 699.0,1049.0 699.5,1048.9 700.0,1048.9 700.5,1048.8 701.0,1048.7 701.5,1048.7 702.0,1048.6 702.5,1048.5 703.0,1048.5 703.5,1048.4 704.0,1048.3 704.5,1048.2 705.0,1048.1 705.5,1048.0 706.0,1047.9 706.5,1047.8 707.0,1047.7 707.5,1047.6 708.0,1047.4 708.5,1047.3 709.0,1047.2 709.5,1047.0 710.0,1046.9 710.5,1046.7 711.0,1046.6 711.5,1046.4 712.0,1046.2 712.5,1046.0 713.0,1045.8 713.5,1045.6 714.0,1045.4 714.5,1045.1 715.0,1044.9 715.5,1044.7 716.0,1044.4 716.5,1044.1 717.0,1043.8 717.5,1043.5 718.0,1043.2 718.5,1042.9 719.0,1042.6 719.5,1042.2 720.0,1041.9 720.5,1041.5 721.0,1041.1 721.5,1040.7 722.0,1040.3 722.5,1039.8 723.0,1039.4 723.5,1038.9 724.0,1038.4 724.5,1037.9 725.0,1037.4 725.5,1036.8 726.0,1036.3 726.5,1035.7 727.0,1035.1 727.5,1034.5 728.0,1033.8 728.5,1033.1 729.0,1032.4 729.5,1031.7 730.0,1031.0 730.5,1030.2 731.0,1029.4 731.5,1028.6 732.0,1027.8 732.5,1026.9 733.0,1026.0 733.5,1025.1 734.0,1024.2 734.5,1023.2 735.0,1022.2 735.5,1021.2 736.0,1020.2 736.5,1019.1 737.0,1018.0 737.5,1016.9 738.0,1015.7 738.5,1014.5 739.0,1013.3 739.5,1012.0 740.0,1010.8 740.5,1009.4 741.0,1008.1 741.5,1006.7 742.0,1005.3 742.5,1003.9 743.0,1002.5 743.5,1001.0 744.0,999.5 744.5,997.9 745.0,996.3 745.5,994.7 746.0,993.1 746.5,991.4 747.0,989.8 747.5,988.0 748.0,986.3 748.5,984.5 749.0,982.7 749.5,980.9 750.0,979.1 750.5,977.2 751.0,975.3 751.5,973.4 752.0,971.4 752.5,969.5 753.0,967.5 753.5,965.5 754.0,963.5 754.5,961.4 755.0,959.3 755.5,957.3 756.0,955.2 756.5,953.1 757.0,950.9 757.5,948.8 758.0,946.7 758.5,944.5 759.0,942.4 759.5,940.2 760.0,938.0 760.5,935.8 761.0,933.7 761.5,931.5 762.0,929.3 762.5,927.1 763.0,924.9 763.5,922.8 764.0,920.6 764.5,918.5 765.0,916.3 765.5,914.2 766.0,912.1 766.5,909.9 767.0,907.9 767.5,905.8 768.0,903.7 768.5,901.7 769.0,899.7 769.5,897.7 770.0,895.8 770.5,893.8 771.0,891.9 771.5,890.1 772.0,888.2 772.5,886.4 773.0,884.7 773.5,882.9 774.0,881.3 774.5,879.6 775.0,878.0 775.5,876.5 776.0,875.0 776.5,873.5 777.0,872.1 777.5,870.7 778.0,869.4 778.5,868.1 779.0,866.9 779.5,865.8 780.0,864.7 780.5,863.6 781.0,862.7 781.5,861.8 782.0,860.9 782.5,860.1 783.0,859.4 783.5,858.7 784.0,858.1 784.5,857.5 785.0,857.0 785.5,856.6 786.0,856.3 786.5,856.0 787.0,855.8 787.5,855.6 788.0,855.5 788.5,855.5 789.0,855.5 789.5,855.7 790.0,855.8 790.5,856.1 791.0,856.4 791.5,856.8 792.0,857.2 792.5,857.7 793.0,858.3 793.5,858.9 794.0,859.6 794.5,860.4 795.0,861.2 795.5,862.1 796.0,863.0 796.5,864.0 797.0,865.1 797.5,866.2 798.0,867.4 798.5,868.6 799.0,869.9 799.5,871.2 800.0,872.6 800.5,874.0 801.0,875.5 801.5,877.0 802.0,878.6 802.5,880.2 803.0,881.9 803.5,883.6 804.0,885.3 804.5,887.1 805.0,888.9 805.5,890.7 806.0,892.6 806.5,894.5 807.0,896.5 807.5,898.4 808.0,900.4 808.5,902.4 809.0,904.5 809.5,906.5 810.0,908.6 810.5,910.7 811.0,912.8 811.5,914.9 812.0,917.1 812.5,919.2 813.0,921.4 813.5,923.5 814.0,925.7 814.5,927.9 815.0,930.1 815.5,932.2 816.0,934.4 816.5,936.6 817.0,938.8 817.5,940.9 818.0,943.1 818.5,945.3 819.0,947.4 819.5,949.5 820.0,951.7 820.5,953.8 821.0,955.9 821.5,958.0 822.0,960.0 822.5,962.1 823.0,964.1 823.5,966.1 824.0,968.1 824.5,970.1 825.0,972.1 825.5,974.0 826.0,975.9 826.5,977.8 827.0,979.6 827.5,981.5 828.0,983.3 828.5,985.1 829.0,986.8 829.5,988.6 830.0,990.3 830.5,991.9 831.0,993.6 831.5,995.2 832.0,996.8 832.5,998.3 833.0,999.9 833.5,1001.4 834.0,1002.8 834.5,1004.3 835.0,1005.7 835.5,1007.1 836.0,1008.4 836.5,1009.8 837.0,1011.1 837.5,1012.3 838.0,1013.6 838.5,1014.8 839.0,1015.9 839.5,1017.1 840.0,1018.2 840.5,1019.3 841.0,1020.4 841.5,1021.4 842.0,1022.4 842.5,1023.4 843.0,1024.3 843.5,1025.3 844.0,1026.2 844.5,1027.0 845.0,1027.9 845.5,1028.7 846.0,1029.5 846.5,1030.3 847.0,1031.0 847.5,1031.8 848.0,1032.5 848.5,1033.1 849.0,1033.8 849.5,1034.4 850.0,1035.1 850.5,1035.7 851.0,1036.2 851.5,1036.8 852.0,1037.3 852.5,1037.8 853.0,1038.3 853.5,1038.8 854.0,1039.3 854.5,1039.7 855.0,1040.2 855.5,1040.6 856.0,1041.0 856.5,1041.4 857.0,1041.7 857.5,1042.1 858.0,1042.4 858.5,1042.7 859.0,1043.1 859.5,1043.4 860.0,1043.6 860.5,1043.9 861.0,1044.2 861.5,1044.4 862.0,1044.7 862.5,1044.9 863.0,1045.1 863.5,1045.3 864.0,1045.6 864.5,1045.7 865.0,1045.9 865.5,1046.1 866.0,1046.3 866.5,1046.4 867.0,1046.6 867.5,1046.7 868.0,1046.9 868.5,1047.0 869.0,1047.1 869.5,1047.3 870.0,1047.4 870.5,1047.5 871.0,1047.6 871.5,1047.7 872.0,1047.8 872.5,1047.9 873.0,1048.0 873.5,1048.0 874.0,1048.1 874.5,1048.2 875.0,1048.2 875.5,1048.3 876.0,1048.4 876.5,1048.4 877.0,1048.5 877.5,1048.5 878.0,1048.6 878.5,1048.6 879.0,1048.7 879.5,1048.7 880.0,1048.8 880.5,1048.8 881.0,1048.8 881.5,1048.9 882.0,1048.9 882.5,1048.9 883.0,1048.9 883.5,1049.0 884.0,1049.0 884.5,1049.0 885.0,1049.0 885.5,1049.1 886.0,1049.1 886.5,1049.1 887.0,1049.1 887.5,1049.1 888.0,1049.1 888.5,1049.1 889.0,1049.2 889.5,1049.2 890.0,1049.2 890.5,1049.2 891.0,1049.2 891.5,1049.2 892.0,1049.2 892.5,1049.2 893.0,1049.2 893.5,1049.2 894.0,1049.2 894.5,1049.2 895.0,1049.3 895.5,1049.3 896.0,1049.3 896.5,1049.3 897.0,1049.3 897.5,1049.3 898.0,1049.3 898.5,1049.3 899.0,1049.3 899.5,1049.3 900.0,1049.3 900.5,1049.3 901.0,1049.3 901.5,1049.3 902.0,1049.3 902.5,1049.3 903.0,1049.3 903.5,1049.3 904.0,1049.3 904.5,1049.3 905.0,1049.3 905.5,1049.3 906.0,1049.3 906.5,1049.3 907.0,1049.3 907.5,1049.3 908.0,1049.3 908.5,1049.3 909.0,1049.3 909.5,1049.3 910.0,1049.3 910.5,1049.3 911.0,1049.3 911.5,1049.3 912.0,1049.3 912.5,1049.3 913.0,1049.3 913.5,1049.3 914.0,1049.3 914.5,1049.3 915.0,1049.3 915.5,1049.3 916.0,1049.3 916.5,1049.3 917.0,1049.3 917.5,1049.3 918.0,1049.3 918.5,1049.3 919.0,1049.3 919.5,1049.3 920.0,1049.3 920.5,1049.3 921.0,1049.3 921.5,1049.3 922.0,1049.3 922.5,1049.3 923.0,1049.3 923.5,1049.3 924.0,1049.3 924.5,1049.3 925.0,1049.3 925.5,1049.3 926.0,1049.3 926.5,1049.3 927.0,1049.3 927.5,1049.3 928.0,1049.3 928.5,1049.3 929.0,1049.3 929.5,1049.3 930.0,1049.3 930.5,1049.3 931.0,1049.3 931.5,1049.3 932.0,1049.3 932.5,1049.3 933.0,1049.3 933.5,1049.2 934.0,1049.2 934.5,1049.2 935.0,1049.2 935.5,1049.2 936.0,1049.2 936.5,1049.2 937.0,1049.2 937.5,1049.2 938.0,1049.2 938.5,1049.2 939.0,1049.2 939.5,1049.2 940.0,1049.2 940.5,1049.2 941.0,1049.2 941.5,1049.2 942.0,1049.2 942.5,1049.2 943.0,1049.2 943.5,1049.2 944.0,1049.2 944.5,1049.2 945.0,1049.2 945.5,1049.1 946.0,1049.1 946.5,1049.1 947.0,1049.1 947.5,1049.1 948.0,1049.1 948.5,1049.1 949.0,1049.1 949.5,1049.1 950.0,1049.1 950.5,1049.1 951.0,1049.1 951.5,1049.0 952.0,1049.0 952.5,1049.0 953.0,1049.0 953.5,1049.0 954.0,1049.0 954.5,1049.0 955.0,1049.0 955.5,1049.0 956.0,1049.0 956.5,1049.0 957.0,1049.0 957.5,1049.0 958.0,1048.9 958.5,1048.9 959.0,1048.9 959.5,1048.9 960.0,1048.9 960.5,1048.9 961.0,1048.9 961.5,1048.9 962.0,1048.9 962.5,1048.9 963.0,1048.9 963.5,1048.9 964.0,1048.8 964.5,1048.8 965.0,1048.8 965.5,1048.8 966.0,1048.8 966.5,1048.8 967.0,1048.8 967.5,1048.8 968.0,1048.8 968.5,1048.8 969.0,1048.8 969.5,1048.8 970.0,1048.7 970.5,1048.7 971.0,1048.7 971.5,1048.7 972.0,1048.7 972.5,1048.7 973.0,1048.7 973.5,1048.7 974.0,1048.7 974.5,1048.7 975.0,1048.7 975.5,1048.7 976.0,1048.7 976.5,1048.6 977.0,1048.6 977.5,1048.6 978.0,1048.6 978.5,1048.6 979.0,1048.6 979.5,1048.6 980.0,1048.6 980.5,1048.6 981.0,1048.6 981.5,1048.6 982.0,1048.6 982.5,1048.5 983.0,1048.5 983.5,1048.5 984.0,1048.5 984.5,1048.5 985.0,1048.5 985.5,1048.5 986.0,1048.5 986.5,1048.5 987.0,1048.5 987.5,1048.5 988.0,1048.5 988.5,1048.4 989.0,1048.4 989.5,1048.4 990.0,1048.4 990.5,1048.4 991.0,1048.4 991.5,1048.4 992.0,1048.4 992.5,1048.4 993.0,1048.4 993.5,1048.4 994.0,1048.4 994.5,1048.4 995.0,1048.3 995.5,1048.3 996.0,1048.3 996.5,1048.3 997.0,1048.3 997.5,1048.3 998.0,1048.3 998.5,1048.3 999.0,1048.3 999.5,1048.3 1000.0,1048.3 1000.5,1048.3 1001.0,1048.2 1001.5,1048.2 1002.0,1048.2 1002.5,1048.2 1003.0,1048.2 1003.5,1048.2 1004.0,1048.2 1004.5,1048.2 1005.0,1048.2 1005.5,1048.2 1006.0,1048.2 1006.5,1048.2 1007.0,1048.2 1007.5,1048.1 1008.0,1048.1 1008.5,1048.1 1009.0,1048.1 1009.5,1048.1 1010.0,1048.1 1010.5,1048.1 1011.0,1048.1 1011.5,1048.1 1012.0,1048.1 1012.5,1048.1 1013.0,1048.1 1013.5,1048.0 1014.0,1048.0 1014.5,1048.0 1015.0,1048.0 1015.5,1048.0 1016.0,1048.0 1016.5,1048.0 1017.0,1048.0 1017.5,1048.0 1018.0,1048.0 1018.5,1048.0 1019.0,1048.0 1019.5,1047.9 1020.0,1047.9 1020.5,1047.9 1021.0,1047.9 1021.5,1047.9 1022.0,1047.9 1022.5,1047.9 1023.0,1047.9 1023.5,1047.9 1024.0,1047.9 1024.5,1047.9 1025.0,1047.9 1025.5,1047.9 1026.0,1047.8 1026.5,1047.8 1027.0,1047.8 1027.5,1047.8 1028.0,1047.8 1028.5,1047.8 1029.0,1047.8 1029.5,1047.8 1030.0,1047.8 1030.5,1047.8 1031.0,1047.8 1031.5,1047.8 1032.0,1047.7 1032.5,1047.7 1033.0,1047.7 1033.5,1047.7 1034.0,1047.7 1034.5,1047.7 1035.0,1047.7 1035.5,1047.7 1036.0,1047.7 1036.5,1047.7 1037.0,1047.7 1037.5,1047.7 1038.0,1047.6 1038.5,1047.6 1039.0,1047.6 1039.5,1047.6 1040.0,1047.6 1040.5,1047.6 1041.0,1047.6 1041.5,1047.6 1042.0,1047.6 1042.5,1047.6 1043.0,1047.6 1043.5,1047.6 1044.0,1047.6 1044.5,1047.5 1045.0,1047.5 1045.5,1047.5 1046.0,1047.5 1046.5,1047.5 1047.0,1047.5 1047.5,1047.5 1048.0,1047.5 1048.5,1047.5 1049.0,1047.5 1049.5,1047.5 1050.0,1047.5 1050.5,1047.4 1051.0,1047.4 1051.5,1047.4 1052.0,1047.4 1052.5,1047.4 1053.0,1047.4 1053.5,1047.4 1054.0,1047.4 1054.5,1047.4 1055.0,1047.4 1055.5,1047.4 1056.0,1047.4 1056.5,1047.3 1057.0,1047.3 1057.5,1047.3 1058.0,1047.3 1058.5,1047.3 1059.0,1047.3 1059.5,1047.3 1060.0,1047.3 1060.5,1047.3 1061.0,1047.3 1061.5,1047.3 1062.0,1047.3 1062.5,1047.3 1063.0,1047.2 1063.5,1047.2 1064.0,1047.2 1064.5,1047.2 1065.0,1047.2 1065.5,1047.2 1066.0,1047.2 1066.5,1047.2 1067.0,1047.2 1067.5,1047.2 1068.0,1047.2 1068.5,1047.2 1069.0,1047.1 1069.5,1047.1 1070.0,1047.1 1070.5,1047.1 1071.0,1047.1 1071.5,1047.1 1072.0,1047.1 1072.5,1047.1 1073.0,1047.1 1073.5,1047.1 1074.0,1047.1 1074.5,1047.1 1075.0,1047.0 1075.5,1047.0 1076.0,1047.0 1076.5,1047.0 1077.0,1047.0 1077.5,1047.0 1078.0,1047.0 1078.5,1047.0 1079.0,1047.0 1079.5,1047.0 1080.0,1047.0 1080.5,1047.0 1081.0,1047.0 1081.5,1046.9 1082.0,1046.9 1082.5,1046.9 1083.0,1046.9 1083.5,1046.9 1084.0,1046.9 1084.5,1046.9 1085.0,1046.9 1085.5,1046.9 1086.0,1046.9 1086.5,1046.9 1087.0,1046.9 1087.5,1046.8 1088.0,1046.8 1088.5,1046.8 1089.0,1046.8 1089.5,1046.8 1090.0,1046.8 1090.5,1046.8 1091.0,1046.8 1091.5,1046.8 1092.0,1046.8 1092.5,1046.8 1093.0,1046.8 1093.5,1046.8 1094.0,1046.7 1094.5,1046.7 1095.0,1046.7 1095.5,1046.7 1096.0,1046.7 1096.5,1046.7 1097.0,1046.7 1097.5,1046.7 1098.0,1046.7 1098.5,1046.7 1099.0,1046.7 1099.5,1046.7 1100.0,1046.6 1100.5,1046.6 1101.0,1046.6 1101.5,1046.6 1102.0,1046.6 1102.5,1046.6 1103.0,1046.6 1103.5,1046.6 1104.0,1046.6 1104.5,1046.6 1105.0,1046.6 1105.5,1046.6 1106.0,1046.5 1106.5,1046.5 1107.0,1046.5 1107.5,1046.5 1108.0,1046.5 1108.5,1046.5 1109.0,1046.5 1109.5,1046.5 1110.0,1046.5 1110.5,1046.5 1111.0,1046.5 1111.5,1046.5 1112.0,1046.5 1112.5,1046.4 1113.0,1046.4 1113.5,1046.4 1114.0,1046.4 1114.5,1046.4 1115.0,1046.4 1115.5,1046.4 1116.0,1046.4 1116.5,1046.4 1117.0,1046.4 1117.5,1046.4 1118.0,1046.4 1118.5,1046.3 1119.0,1046.3 1119.5,1046.3 1120.0,1046.3 1120.5,1046.3 1121.0,1046.3 1121.5,1046.3 1122.0,1046.3 1122.5,1046.3 1123.0,1046.3 1123.5,1046.3 1124.0,1046.3 1124.5,1046.2 1125.0,1046.2 1125.5,1046.2 1126.0,1046.2 1126.5,1046.2 1127.0,1046.2 1127.5,1046.2 1128.0,1046.2 1128.5,1046.2 1129.0,1046.2 1129.5,1046.2 1130.0,1046.2 1130.5,1046.2 1131.0,1046.1 1131.5,1046.1 1132.0,1046.1 1132.5,1046.1 1133.0,1046.1 1133.5,1046.1 1134.0,1046.1 1134.5,1046.1 1135.0,1046.1 1135.5,1046.1 1136.0,1046.1 1136.5,1046.1 1137.0,1046.0 1137.5,1046.0 1138.0,1046.0 1138.5,1046.0 1139.0,1046.0 1139.5,1046.0 1140.0,1046.0 1140.5,1046.0 1141.0,1046.0 1141.5,1046.0 1142.0,1046.0 1142.5,1046.0 1143.0,1045.9 1143.5,1045.9 1144.0,1045.9 1144.5,1045.9 1145.0,1045.9 1145.5,1045.9 1146.0,1045.9 1146.5,1045.9 1147.0,1045.9 1147.5,1045.9 1148.0,1045.9 1148.5,1045.9 1149.0,1045.9 1149.5,1045.8 1150.0,1045.8 1150.5,1045.8 1151.0,1045.8 1151.5,1045.8 1152.0,1045.8 1152.5,1045.8 1153.0,1045.8 1153.5,1045.8 1154.0,1045.8 1154.5,1045.8 1155.0,1045.8 1155.5,1045.7 1156.0,1045.7 1156.5,1045.7 1157.0,1045.7 1157.5,1045.7 1158.0,1045.7 1158.5,1045.7 1159.0,1045.7 1159.5,1045.7 1160.0,1045.7 1160.5,1045.7 1161.0,1045.7 1161.5,1045.6 1162.0,1045.6 1162.5,1045.6 1163.0,1045.6 1163.5,1045.6 1164.0,1045.6 1164.5,1045.6 1165.0,1045.6 1165.5,1045.6 1166.0,1045.6 1166.5,1045.6 1167.0,1045.6 1167.5,1045.6 1168.0,1045.5 1168.5,1045.5 1169.0,1045.5 1169.5,1045.5 1170.0,1045.5 1170.5,1045.5 1171.0,1045.5 1171.5,1045.5 1172.0,1045.5 1172.5,1045.5 1173.0,1045.5 1173.5,1045.5 1174.0,1045.4 1174.5,1045.4 1175.0,1045.4 1175.5,1045.4 1176.0,1045.4 1176.5,1045.4 1177.0,1045.4 1177.5,1045.4 1178.0,1045.4 1178.5,1045.4 1179.0,1045.4 1179.5,1045.4 1180.0,1045.3 1180.5,1045.3 1181.0,1045.3 1181.5,1045.3 1182.0,1045.3 1182.5,1045.3 1183.0,1045.3 1183.5,1045.3 1184.0,1045.3 1184.5,1045.3 1185.0,1045.3 1185.5,1045.3 1186.0,1045.3 1186.5,1045.2 1187.0,1045.2 1187.5,1045.2 1188.0,1045.2 1188.5,1045.2 1189.0,1045.2 1189.5,1045.2 1190.0,1045.2 1190.5,1045.2 1191.0,1045.2 1191.5,1045.2 1192.0,1045.2 1192.5,1045.1 1193.0,1045.1 1193.5,1045.1 1194.0,1045.1 1194.5,1045.1 1195.0,1045.1 1195.5,1045.1 1196.0,1045.1 1196.5,1045.1 1197.0,1045.1 1197.5,1045.1 1198.0,1045.1 1198.5,1045.1 1199.0,1045.0 1199.5,1045.0 1200.0,1045.0 1200.5,1045.0 1201.0,1045.0 1201.5,1045.0 1202.0,1045.0 1202.5,1045.0 1203.0,1045.0 1203.5,1045.0 1204.0,1045.0 1204.5,1045.0 1205.0,1044.9 1205.5,1044.9 1206.0,1044.9 1206.5,1044.9 1207.0,1044.9 1207.5,1044.9 1208.0,1044.9 1208.5,1044.9 1209.0,1044.9 1209.5,1044.9 1210.0,1044.9 1210.5,1044.9 1211.0,1044.8 1211.5,1044.8 1212.0,1044.8 1212.5,1044.8 1213.0,1044.8 1213.5,1044.8 1214.0,1044.8 1214.5,1044.8 1215.0,1044.8 1215.5,1044.8 1216.0,1044.8 1216.5,1044.8 1217.0,1044.8 1217.5,1044.7 1218.0,1044.7 1218.5,1044.7 1219.0,1044.7 1219.5,1044.7 1220.0,1044.7 1220.5,1044.7 1221.0,1044.7 1221.5,1044.7 1222.0,1044.7 1222.5,1044.7 1223.0,1044.7 1223.5,1044.6 1224.0,1044.6 1224.5,1044.6 1225.0,1044.6 1225.5,1044.6 1226.0,1044.6 1226.5,1044.6 1227.0,1044.6 1227.5,1044.6 1228.0,1044.6 1228.5,1044.6 1229.0,1044.6 1229.5,1044.5 1230.0,1044.5 1230.5,1044.5 1231.0,1044.5 1231.5,1044.5 1232.0,1044.5 1232.5,1044.5 1233.0,1044.5 1233.5,1044.5 1234.0,1044.5 1234.5,1044.5 1235.0,1044.5 1235.5,1044.5 1236.0,1044.4 1236.5,1044.4 1237.0,1044.4 1237.5,1044.4 1238.0,1044.4 1238.5,1044.4 1239.0,1044.4 1239.5,1044.4 1240.0,1044.4 1240.5,1044.4 1241.0,1044.4 1241.5,1044.4 1242.0,1044.3 1242.5,1044.3 1243.0,1044.3 1243.5,1044.3 1244.0,1044.3 1244.5,1044.3 1245.0,1044.3 1245.5,1044.3 1246.0,1044.3 1246.5,1044.3 1247.0,1044.3 1247.5,1044.3 1248.0,1044.2 1248.5,1044.2 1249.0,1044.2 1249.5,1044.2 1250.0,1044.2 1250.5,1044.2 1251.0,1044.2 1251.5,1044.2 1252.0,1044.2 1252.5,1044.2 1253.0,1044.2 1253.5,1044.2 1254.0,1044.2 1254.5,1044.1 1255.0,1044.1 1255.5,1044.1 1256.0,1044.1 1256.5,1044.1 1257.0,1044.1 1257.5,1044.1 1258.0,1044.1 1258.5,1044.1 1259.0,1044.1 1259.5,1044.1 1260.0,1044.1 1260.5,1044.0 1261.0,1044.0 1261.5,1044.0 1262.0,1044.0 1262.5,1044.0 1263.0,1044.0 1263.5,1044.0"/>
<polyline fill="none" stroke="#FF2DA8" stroke-width="4.2" stroke-linejoin="round" points="285.0,1063.6 285.5,1063.6 286.0,1063.6 286.5,1063.6 287.0,1063.6 287.5,1063.5 288.0,1063.5 288.5,1063.5 289.0,1063.5 289.5,1063.5 290.0,1063.5 290.5,1063.5 291.0,1063.5 291.5,1063.5 292.0,1063.4 292.5,1063.4 293.0,1063.4 293.5,1063.4 294.0,1063.4 294.5,1063.4 295.0,1063.4 295.5,1063.4 296.0,1063.3 296.5,1063.3 297.0,1063.3 297.5,1063.3 298.0,1063.3 298.5,1063.3 299.0,1063.3 299.5,1063.3 300.0,1063.3 300.5,1063.2 301.0,1063.2 301.5,1063.2 302.0,1063.2 302.5,1063.2 303.0,1063.2 303.5,1063.2 304.0,1063.2 304.5,1063.2 305.0,1063.1 305.5,1063.1 306.0,1063.1 306.5,1063.1 307.0,1063.1 307.5,1063.1 308.0,1063.1 308.5,1063.1 309.0,1063.0 309.5,1063.0 310.0,1063.0 310.5,1063.0 311.0,1063.0 311.5,1063.0 312.0,1063.0 312.5,1063.0 313.0,1063.0 313.5,1062.9 314.0,1062.9 314.5,1062.9 315.0,1062.9 315.5,1062.9 316.0,1062.9 316.5,1062.9 317.0,1062.9 317.5,1062.9 318.0,1062.8 318.5,1062.8 319.0,1062.8 319.5,1062.8 320.0,1062.8 320.5,1062.8 321.0,1062.8 321.5,1062.8 322.0,1062.7 322.5,1062.7 323.0,1062.7 323.5,1062.7 324.0,1062.7 324.5,1062.7 325.0,1062.7 325.5,1062.7 326.0,1062.7 326.5,1062.6 327.0,1062.6 327.5,1062.6 328.0,1062.6 328.5,1062.6 329.0,1062.6 329.5,1062.6 330.0,1062.6 330.5,1062.6 331.0,1062.5 331.5,1062.5 332.0,1062.5 332.5,1062.5 333.0,1062.5 333.5,1062.5 334.0,1062.5 334.5,1062.5 335.0,1062.4 335.5,1062.4 336.0,1062.4 336.5,1062.4 337.0,1062.4 337.5,1062.4 338.0,1062.4 338.5,1062.4 339.0,1062.4 339.5,1062.3 340.0,1062.3 340.5,1062.3 341.0,1062.3 341.5,1062.3 342.0,1062.3 342.5,1062.3 343.0,1062.3 343.5,1062.3 344.0,1062.2 344.5,1062.2 345.0,1062.2 345.5,1062.2 346.0,1062.2 346.5,1062.2 347.0,1062.2 347.5,1062.2 348.0,1062.2 348.5,1062.1 349.0,1062.1 349.5,1062.1 350.0,1062.1 350.5,1062.1 351.0,1062.1 351.5,1062.1 352.0,1062.1 352.5,1062.0 353.0,1062.0 353.5,1062.0 354.0,1062.0 354.5,1062.0 355.0,1062.0 355.5,1062.0 356.0,1062.0 356.5,1062.0 357.0,1061.9 357.5,1061.9 358.0,1061.9 358.5,1061.9 359.0,1061.9 359.5,1061.9 360.0,1061.9 360.5,1061.9 361.0,1061.9 361.5,1061.8 362.0,1061.8 362.5,1061.8 363.0,1061.8 363.5,1061.8 364.0,1061.8 364.5,1061.8 365.0,1061.8 365.5,1061.7 366.0,1061.7 366.5,1061.7 367.0,1061.7 367.5,1061.7 368.0,1061.7 368.5,1061.7 369.0,1061.7 369.5,1061.7 370.0,1061.6 370.5,1061.6 371.0,1061.6 371.5,1061.6 372.0,1061.6 372.5,1061.6 373.0,1061.6 373.5,1061.6 374.0,1061.6 374.5,1061.5 375.0,1061.5 375.5,1061.5 376.0,1061.5 376.5,1061.5 377.0,1061.5 377.5,1061.5 378.0,1061.5 378.5,1061.4 379.0,1061.4 379.5,1061.4 380.0,1061.4 380.5,1061.4 381.0,1061.4 381.5,1061.4 382.0,1061.4 382.5,1061.4 383.0,1061.3 383.5,1061.3 384.0,1061.3 384.5,1061.3 385.0,1061.3 385.5,1061.3 386.0,1061.3 386.5,1061.3 387.0,1061.3 387.5,1061.2 388.0,1061.2 388.5,1061.2 389.0,1061.2 389.5,1061.2 390.0,1061.2 390.5,1061.2 391.0,1061.2 391.5,1061.2 392.0,1061.1 392.5,1061.1 393.0,1061.1 393.5,1061.1 394.0,1061.1 394.5,1061.1 395.0,1061.1 395.5,1061.1 396.0,1061.0 396.5,1061.0 397.0,1061.0 397.5,1061.0 398.0,1061.0 398.5,1061.0 399.0,1061.0 399.5,1061.0 400.0,1061.0 400.5,1060.9 401.0,1060.9 401.5,1060.9 402.0,1060.9 402.5,1060.9 403.0,1060.9 403.5,1060.9 404.0,1060.9 404.5,1060.9 405.0,1060.8 405.5,1060.8 406.0,1060.8 406.5,1060.8 407.0,1060.8 407.5,1060.8 408.0,1060.8 408.5,1060.8 409.0,1060.7 409.5,1060.7 410.0,1060.7 410.5,1060.7 411.0,1060.7 411.5,1060.7 412.0,1060.7 412.5,1060.7 413.0,1060.7 413.5,1060.6 414.0,1060.6 414.5,1060.6 415.0,1060.6 415.5,1060.6 416.0,1060.6 416.5,1060.6 417.0,1060.6 417.5,1060.6 418.0,1060.5 418.5,1060.5 419.0,1060.5 419.5,1060.5 420.0,1060.5 420.5,1060.5 421.0,1060.5 421.5,1060.5 422.0,1060.4 422.5,1060.4 423.0,1060.4 423.5,1060.4 424.0,1060.4 424.5,1060.4 425.0,1060.4 425.5,1060.4 426.0,1060.4 426.5,1060.3 427.0,1060.3 427.5,1060.3 428.0,1060.3 428.5,1060.3 429.0,1060.3 429.5,1060.3 430.0,1060.3 430.5,1060.3 431.0,1060.2 431.5,1060.2 432.0,1060.2 432.5,1060.2 433.0,1060.2 433.5,1060.2 434.0,1060.2 434.5,1060.2 435.0,1060.1 435.5,1060.1 436.0,1060.1 436.5,1060.1 437.0,1060.1 437.5,1060.1 438.0,1060.1 438.5,1060.1 439.0,1060.1 439.5,1060.0 440.0,1060.0 440.5,1060.0 441.0,1060.0 441.5,1060.0 442.0,1060.0 442.5,1060.0 443.0,1060.0 443.5,1060.0 444.0,1059.9 444.5,1059.9 445.0,1059.9 445.5,1059.9 446.0,1059.9 446.5,1059.9 447.0,1059.9 447.5,1059.9 448.0,1059.9 448.5,1059.8 449.0,1059.8 449.5,1059.8 450.0,1059.8 450.5,1059.8 451.0,1059.8 451.5,1059.8 452.0,1059.8 452.5,1059.7 453.0,1059.7 453.5,1059.7 454.0,1059.7 454.5,1059.7 455.0,1059.7 455.5,1059.7 456.0,1059.7 456.5,1059.7 457.0,1059.6 457.5,1059.6 458.0,1059.6 458.5,1059.6 459.0,1059.6 459.5,1059.6 460.0,1059.6 460.5,1059.6 461.0,1059.6 461.5,1059.5 462.0,1059.5 462.5,1059.5 463.0,1059.5 463.5,1059.5 464.0,1059.5 464.5,1059.5 465.0,1059.5 465.5,1059.4 466.0,1059.4 466.5,1059.4 467.0,1059.4 467.5,1059.4 468.0,1059.4 468.5,1059.4 469.0,1059.4 469.5,1059.4 470.0,1059.3 470.5,1059.3 471.0,1059.3 471.5,1059.3 472.0,1059.3 472.5,1059.3 473.0,1059.3 473.5,1059.3 474.0,1059.3 474.5,1059.2 475.0,1059.2 475.5,1059.2 476.0,1059.2 476.5,1059.2 477.0,1059.2 477.5,1059.2 478.0,1059.2 478.5,1059.1 479.0,1059.1 479.5,1059.1 480.0,1059.1 480.5,1059.1 481.0,1059.1 481.5,1059.1 482.0,1059.1 482.5,1059.1 483.0,1059.0 483.5,1059.0 484.0,1059.0 484.5,1059.0 485.0,1059.0 485.5,1059.0 486.0,1059.0 486.5,1059.0 487.0,1059.0 487.5,1058.9 488.0,1058.9 488.5,1058.9 489.0,1058.9 489.5,1058.9 490.0,1058.9 490.5,1058.9 491.0,1058.9 491.5,1058.9 492.0,1058.8 492.5,1058.8 493.0,1058.8 493.5,1058.8 494.0,1058.8 494.5,1058.8 495.0,1058.8 495.5,1058.8 496.0,1058.7 496.5,1058.7 497.0,1058.7 497.5,1058.7 498.0,1058.7 498.5,1058.7 499.0,1058.7 499.5,1058.7 500.0,1058.7 500.5,1058.6 501.0,1058.6 501.5,1058.6 502.0,1058.6 502.5,1058.6 503.0,1058.6 503.5,1058.6 504.0,1058.6 504.5,1058.6 505.0,1058.5 505.5,1058.5 506.0,1058.5 506.5,1058.5 507.0,1058.5 507.5,1058.5 508.0,1058.5 508.5,1058.5 509.0,1058.4 509.5,1058.4 510.0,1058.4 510.5,1058.4 511.0,1058.4 511.5,1058.4 512.0,1058.4 512.5,1058.4 513.0,1058.4 513.5,1058.3 514.0,1058.3 514.5,1058.3 515.0,1058.3 515.5,1058.3 516.0,1058.3 516.5,1058.3 517.0,1058.3 517.5,1058.3 518.0,1058.2 518.5,1058.2 519.0,1058.2 519.5,1058.2 520.0,1058.2 520.5,1058.2 521.0,1058.2 521.5,1058.2 522.0,1058.1 522.5,1058.1 523.0,1058.1 523.5,1058.1 524.0,1058.1 524.5,1058.1 525.0,1058.1 525.5,1058.1 526.0,1058.1 526.5,1058.0 527.0,1058.0 527.5,1058.0 528.0,1058.0 528.5,1058.0 529.0,1058.0 529.5,1058.0 530.0,1058.0 530.5,1058.0 531.0,1057.9 531.5,1057.9 532.0,1057.9 532.5,1057.9 533.0,1057.9 533.5,1057.9 534.0,1057.9 534.5,1057.9 535.0,1057.8 535.5,1057.8 536.0,1057.8 536.5,1057.8 537.0,1057.8 537.5,1057.8 538.0,1057.8 538.5,1057.8 539.0,1057.8 539.5,1057.7 540.0,1057.7 540.5,1057.7 541.0,1057.7 541.5,1057.7 542.0,1057.7 542.5,1057.7 543.0,1057.7 543.5,1057.7 544.0,1057.6 544.5,1057.6 545.0,1057.6 545.5,1057.6 546.0,1057.6 546.5,1057.6 547.0,1057.6 547.5,1057.6 548.0,1057.6 548.5,1057.5 549.0,1057.5 549.5,1057.5 550.0,1057.5 550.5,1057.5 551.0,1057.5 551.5,1057.5 552.0,1057.5 552.5,1057.4 553.0,1057.4 553.5,1057.4 554.0,1057.4 554.5,1057.4 555.0,1057.4 555.5,1057.4 556.0,1057.4 556.5,1057.4 557.0,1057.3 557.5,1057.3 558.0,1057.3 558.5,1057.3 559.0,1057.3 559.5,1057.3 560.0,1057.3 560.5,1057.3 561.0,1057.3 561.5,1057.2 562.0,1057.2 562.5,1057.2 563.0,1057.2 563.5,1057.2 564.0,1057.2 564.5,1057.2 565.0,1057.2 565.5,1057.1 566.0,1057.1 566.5,1057.1 567.0,1057.1 567.5,1057.1 568.0,1057.1 568.5,1057.1 569.0,1057.1 569.5,1057.1 570.0,1057.0 570.5,1057.0 571.0,1057.0 571.5,1057.0 572.0,1057.0 572.5,1057.0 573.0,1057.0 573.5,1057.0 574.0,1057.0 574.5,1056.9 575.0,1056.9 575.5,1056.9 576.0,1056.9 576.5,1056.9 577.0,1056.9 577.5,1056.9 578.0,1056.9 578.5,1056.8 579.0,1056.8 579.5,1056.8 580.0,1056.8 580.5,1056.8 581.0,1056.8 581.5,1056.8 582.0,1056.8 582.5,1056.8 583.0,1056.7 583.5,1056.7 584.0,1056.7 584.5,1056.7 585.0,1056.7 585.5,1056.7 586.0,1056.7 586.5,1056.7 587.0,1056.7 587.5,1056.6 588.0,1056.6 588.5,1056.6 589.0,1056.6 589.5,1056.6 590.0,1056.6 590.5,1056.6 591.0,1056.6 591.5,1056.6 592.0,1056.5 592.5,1056.5 593.0,1056.5 593.5,1056.5 594.0,1056.5 594.5,1056.5 595.0,1056.5 595.5,1056.5 596.0,1056.4 596.5,1056.4 597.0,1056.4 597.5,1056.4 598.0,1056.4 598.5,1056.4 599.0,1056.4 599.5,1056.4 600.0,1056.4 600.5,1056.3 601.0,1056.3 601.5,1056.3 602.0,1056.3 602.5,1056.3 603.0,1056.3 603.5,1056.2 604.0,1056.2 604.5,1056.2 605.0,1056.2 605.5,1056.2 606.0,1056.2 606.5,1056.1 607.0,1056.1 607.5,1056.1 608.0,1056.1 608.5,1056.1 609.0,1056.1 609.5,1056.0 610.0,1056.0 610.5,1056.0 611.0,1056.0 611.5,1056.0 612.0,1056.0 612.5,1056.0 613.0,1055.9 613.5,1055.9 614.0,1055.9 614.5,1055.9 615.0,1055.9 615.5,1055.9 616.0,1055.8 616.5,1055.8 617.0,1055.8 617.5,1055.8 618.0,1055.8 618.5,1055.8 619.0,1055.7 619.5,1055.7 620.0,1055.7 620.5,1055.7 621.0,1055.7 621.5,1055.7 622.0,1055.6 622.5,1055.6 623.0,1055.6 623.5,1055.6 624.0,1055.6 624.5,1055.6 625.0,1055.6 625.5,1055.5 626.0,1055.5 626.5,1055.5 627.0,1055.5 627.5,1055.5 628.0,1055.5 628.5,1055.4 629.0,1055.4 629.5,1055.4 630.0,1055.4 630.5,1055.4 631.0,1055.4 631.5,1055.3 632.0,1055.3 632.5,1055.3 633.0,1055.3 633.5,1055.3 634.0,1055.3 634.5,1055.2 635.0,1055.2 635.5,1055.2 636.0,1055.2 636.5,1055.2 637.0,1055.2 637.5,1055.2 638.0,1055.1 638.5,1055.1 639.0,1055.1 639.5,1055.1 640.0,1055.1 640.5,1055.1 641.0,1055.0 641.5,1055.0 642.0,1055.0 642.5,1055.0 643.0,1055.0 643.5,1055.0 644.0,1054.9 644.5,1054.9 645.0,1054.9 645.5,1054.9 646.0,1054.9 646.5,1054.9 647.0,1054.8 647.5,1054.8 648.0,1054.8 648.5,1054.8 649.0,1054.8 649.5,1054.8 650.0,1054.7 650.5,1054.7 651.0,1054.7 651.5,1054.7 652.0,1054.7 652.5,1054.7 653.0,1054.7 653.5,1054.6 654.0,1054.6 654.5,1054.6 655.0,1054.6 655.5,1054.6 656.0,1054.6 656.5,1054.5 657.0,1054.5 657.5,1054.5 658.0,1054.5 658.5,1054.5 659.0,1054.5 659.5,1054.4 660.0,1054.4 660.5,1054.4 661.0,1054.4 661.5,1054.4 662.0,1054.4 662.5,1054.3 663.0,1054.3 663.5,1054.3 664.0,1054.3 664.5,1054.3 665.0,1054.3 665.5,1054.3 666.0,1054.2 666.5,1054.2 667.0,1054.2 667.5,1054.2 668.0,1054.2 668.5,1054.2 669.0,1054.1 669.5,1054.1 670.0,1054.1 670.5,1054.1 671.0,1054.1 671.5,1054.1 672.0,1054.0 672.5,1054.0 673.0,1054.0 673.5,1054.0 674.0,1054.0 674.5,1054.0 675.0,1053.9 675.5,1053.9 676.0,1053.9 676.5,1053.9 677.0,1053.9 677.5,1053.9 678.0,1053.8 678.5,1053.8 679.0,1053.8 679.5,1053.8 680.0,1053.8 680.5,1053.8 681.0,1053.8 681.5,1053.7 682.0,1053.7 682.5,1053.7 683.0,1053.7 683.5,1053.7 684.0,1053.7 684.5,1053.6 685.0,1053.6 685.5,1053.6 686.0,1053.6 686.5,1053.6 687.0,1053.6 687.5,1053.5 688.0,1053.5 688.5,1053.5 689.0,1053.5 689.5,1053.5 690.0,1053.5 690.5,1053.4 691.0,1053.4 691.5,1053.4 692.0,1053.4 692.5,1053.4 693.0,1053.4 693.5,1053.4 694.0,1053.3 694.5,1053.3 695.0,1053.3 695.5,1053.3 696.0,1053.3 696.5,1053.3 697.0,1053.2 697.5,1053.2 698.0,1053.2 698.5,1053.2 699.0,1053.2 699.5,1053.2 700.0,1053.1 700.5,1053.1 701.0,1053.1 701.5,1053.1 702.0,1053.1 702.5,1053.1 703.0,1053.0 703.5,1053.0 704.0,1053.0 704.5,1053.0 705.0,1053.0 705.5,1053.0 706.0,1053.0 706.5,1052.9 707.0,1052.9 707.5,1052.9 708.0,1052.9 708.5,1052.9 709.0,1052.9 709.5,1052.8 710.0,1052.8 710.5,1052.8 711.0,1052.8 711.5,1052.8 712.0,1052.8 712.5,1052.7 713.0,1052.7 713.5,1052.7 714.0,1052.7 714.5,1052.7 715.0,1052.7 715.5,1052.6 716.0,1052.6 716.5,1052.6 717.0,1052.6 717.5,1052.6 718.0,1052.6 718.5,1052.5 719.0,1052.5 719.5,1052.5 720.0,1052.5 720.5,1052.5 721.0,1052.5 721.5,1052.5 722.0,1052.4 722.5,1052.4 723.0,1052.4 723.5,1052.4 724.0,1052.4 724.5,1052.4 725.0,1052.3 725.5,1052.3 726.0,1052.3 726.5,1052.3 727.0,1052.3 727.5,1052.3 728.0,1052.2 728.5,1052.2 729.0,1052.2 729.5,1052.2 730.0,1052.2 730.5,1052.2 731.0,1052.1 731.5,1052.1 732.0,1052.1 732.5,1052.1 733.0,1052.1 733.5,1052.1 734.0,1052.1 734.5,1052.0 735.0,1052.0 735.5,1052.0 736.0,1052.0 736.5,1052.0 737.0,1052.0 737.5,1051.9 738.0,1051.9 738.5,1051.9 739.0,1051.9 739.5,1051.9 740.0,1051.9 740.5,1051.8 741.0,1051.8 741.5,1051.8 742.0,1051.8 742.5,1051.8 743.0,1051.8 743.5,1051.7 744.0,1051.7 744.5,1051.7 745.0,1051.7 745.5,1051.7 746.0,1051.7 746.5,1051.6 747.0,1051.6 747.5,1051.6 748.0,1051.6 748.5,1051.6 749.0,1051.6 749.5,1051.6 750.0,1051.5 750.5,1051.5 751.0,1051.5 751.5,1051.5 752.0,1051.5 752.5,1051.5 753.0,1051.4 753.5,1051.4 754.0,1051.4 754.5,1051.4 755.0,1051.4 755.5,1051.4 756.0,1051.3 756.5,1051.3 757.0,1051.3 757.5,1051.3 758.0,1051.3 758.5,1051.3 759.0,1051.2 759.5,1051.2 760.0,1051.2 760.5,1051.2 761.0,1051.2 761.5,1051.2 762.0,1051.1 762.5,1051.1 763.0,1051.1 763.5,1051.1 764.0,1051.1 764.5,1051.0 765.0,1051.0 765.5,1051.0 766.0,1051.0 766.5,1051.0 767.0,1050.9 767.5,1050.9 768.0,1050.9 768.5,1050.9 769.0,1050.9 769.5,1050.8 770.0,1050.8 770.5,1050.8 771.0,1050.8 771.5,1050.7 772.0,1050.7 772.5,1050.7 773.0,1050.7 773.5,1050.6 774.0,1050.6 774.5,1050.6 775.0,1050.5 775.5,1050.5 776.0,1050.5 776.5,1050.4 777.0,1050.4 777.5,1050.3 778.0,1050.3 778.5,1050.2 779.0,1050.2 779.5,1050.1 780.0,1050.1 780.5,1050.0 781.0,1050.0 781.5,1049.9 782.0,1049.8 782.5,1049.8 783.0,1049.7 783.5,1049.6 784.0,1049.5 784.5,1049.4 785.0,1049.3 785.5,1049.2 786.0,1049.1 786.5,1049.0 787.0,1048.9 787.5,1048.8 788.0,1048.6 788.5,1048.5 789.0,1048.3 789.5,1048.2 790.0,1048.0 790.5,1047.8 791.0,1047.6 791.5,1047.4 792.0,1047.2 792.5,1047.0 793.0,1046.7 793.5,1046.5 794.0,1046.2 794.5,1045.9 795.0,1045.6 795.5,1045.3 796.0,1045.0 796.5,1044.6 797.0,1044.3 797.5,1043.9 798.0,1043.5 798.5,1043.0 799.0,1042.6 799.5,1042.1 800.0,1041.6 800.5,1041.1 801.0,1040.5 801.5,1039.9 802.0,1039.3 802.5,1038.7 803.0,1038.0 803.5,1037.3 804.0,1036.6 804.5,1035.8 805.0,1035.0 805.5,1034.2 806.0,1033.3 806.5,1032.4 807.0,1031.5 807.5,1030.5 808.0,1029.5 808.5,1028.4 809.0,1027.3 809.5,1026.2 810.0,1025.0 810.5,1023.7 811.0,1022.4 811.5,1021.1 812.0,1019.7 812.5,1018.3 813.0,1016.8 813.5,1015.3 814.0,1013.7 814.5,1012.1 815.0,1010.4 815.5,1008.7 816.0,1006.9 816.5,1005.1 817.0,1003.2 817.5,1001.3 818.0,999.3 818.5,997.3 819.0,995.2 819.5,993.0 820.0,990.8 820.5,988.6 821.0,986.3 821.5,983.9 822.0,981.5 822.5,979.1 823.0,976.6 823.5,974.1 824.0,971.5 824.5,968.9 825.0,966.2 825.5,963.5 826.0,960.8 826.5,958.0 827.0,955.2 827.5,952.3 828.0,949.5 828.5,946.5 829.0,943.6 829.5,940.7 830.0,937.7 830.5,934.7 831.0,931.7 831.5,928.7 832.0,925.6 832.5,922.6 833.0,919.6 833.5,916.5 834.0,913.5 834.5,910.5 835.0,907.5 835.5,904.5 836.0,901.5 836.5,898.5 837.0,895.6 837.5,892.7 838.0,889.8 838.5,887.0 839.0,884.2 839.5,881.4 840.0,878.7 840.5,876.1 841.0,873.5 841.5,871.0 842.0,868.5 842.5,866.1 843.0,863.8 843.5,861.5 844.0,859.3 844.5,857.2 845.0,855.2 845.5,853.3 846.0,851.4 846.5,849.7 847.0,848.0 847.5,846.5 848.0,845.0 848.5,843.6 849.0,842.4 849.5,841.3 850.0,840.2 850.5,839.3 851.0,838.5 851.5,837.8 852.0,837.2 852.5,836.7 853.0,836.4 853.5,836.1 854.0,836.0 854.5,836.0 855.0,836.1 855.5,836.4 856.0,836.7 856.5,837.2 857.0,837.7 857.5,838.4 858.0,839.2 858.5,840.1 859.0,841.2 859.5,842.3 860.0,843.5 860.5,844.9 861.0,846.3 861.5,847.9 862.0,849.5 862.5,851.2 863.0,853.1 863.5,855.0 864.0,857.0 864.5,859.1 865.0,861.2 865.5,863.5 866.0,865.8 866.5,868.2 867.0,870.6 867.5,873.2 868.0,875.7 868.5,878.4 869.0,881.0 869.5,883.8 870.0,886.5 870.5,889.3 871.0,892.2 871.5,895.1 872.0,898.0 872.5,900.9 873.0,903.9 873.5,906.8 874.0,909.8 874.5,912.8 875.0,915.8 875.5,918.8 876.0,921.8 876.5,924.8 877.0,927.8 877.5,930.8 878.0,933.8 878.5,936.7 879.0,939.7 879.5,942.6 880.0,945.5 880.5,948.3 881.0,951.2 881.5,954.0 882.0,956.8 882.5,959.5 883.0,962.2 883.5,964.9 884.0,967.5 884.5,970.1 885.0,972.6 885.5,975.1 886.0,977.6 886.5,980.0 887.0,982.3 887.5,984.6 888.0,986.9 888.5,989.1 889.0,991.2 889.5,993.3 890.0,995.4 890.5,997.4 891.0,999.3 891.5,1001.2 892.0,1003.0 892.5,1004.8 893.0,1006.6 893.5,1008.2 894.0,1009.9 894.5,1011.5 895.0,1013.0 895.5,1014.5 896.0,1015.9 896.5,1017.3 897.0,1018.6 897.5,1019.9 898.0,1021.2 898.5,1022.4 899.0,1023.5 899.5,1024.6 900.0,1025.7 900.5,1026.7 901.0,1027.7 901.5,1028.6 902.0,1029.5 902.5,1030.4 903.0,1031.2 903.5,1032.0 904.0,1032.8 904.5,1033.5 905.0,1034.2 905.5,1034.9 906.0,1035.5 906.5,1036.1 907.0,1036.7 907.5,1037.2 908.0,1037.7 908.5,1038.2 909.0,1038.7 909.5,1039.1 910.0,1039.5 910.5,1039.9 911.0,1040.3 911.5,1040.7 912.0,1041.0 912.5,1041.3 913.0,1041.6 913.5,1041.9 914.0,1042.1 914.5,1042.4 915.0,1042.6 915.5,1042.8 916.0,1043.1 916.5,1043.2 917.0,1043.4 917.5,1043.6 918.0,1043.8 918.5,1043.9 919.0,1044.0 919.5,1044.2 920.0,1044.3 920.5,1044.4 921.0,1044.5 921.5,1044.6 922.0,1044.7 922.5,1044.8 923.0,1044.8 923.5,1044.9 924.0,1045.0 924.5,1045.0 925.0,1045.1 925.5,1045.1 926.0,1045.2 926.5,1045.2 927.0,1045.2 927.5,1045.3 928.0,1045.3 928.5,1045.3 929.0,1045.3 929.5,1045.4 930.0,1045.4 930.5,1045.4 931.0,1045.4 931.5,1045.4 932.0,1045.4 932.5,1045.4 933.0,1045.4 933.5,1045.4 934.0,1045.4 934.5,1045.4 935.0,1045.4 935.5,1045.4 936.0,1045.4 936.5,1045.4 937.0,1045.4 937.5,1045.4 938.0,1045.4 938.5,1045.4 939.0,1045.4 939.5,1045.4 940.0,1045.4 940.5,1045.4 941.0,1045.4 941.5,1045.4 942.0,1045.4 942.5,1045.4 943.0,1045.4 943.5,1045.4 944.0,1045.4 944.5,1045.4 945.0,1045.4 945.5,1045.4 946.0,1045.4 946.5,1045.4 947.0,1045.4 947.5,1045.4 948.0,1045.4 948.5,1045.4 949.0,1045.4 949.5,1045.4 950.0,1045.4 950.5,1045.4 951.0,1045.4 951.5,1045.4 952.0,1045.4 952.5,1045.4 953.0,1045.4 953.5,1045.4 954.0,1045.4 954.5,1045.4 955.0,1045.4 955.5,1045.4 956.0,1045.4 956.5,1045.4 957.0,1045.4 957.5,1045.4 958.0,1045.4 958.5,1045.4 959.0,1045.4 959.5,1045.4 960.0,1045.4 960.5,1045.4 961.0,1045.4 961.5,1045.4 962.0,1045.4 962.5,1045.4 963.0,1045.4 963.5,1045.4 964.0,1045.4 964.5,1045.4 965.0,1045.4 965.5,1045.4 966.0,1045.4 966.5,1045.4 967.0,1045.4 967.5,1045.4 968.0,1045.4 968.5,1045.4 969.0,1045.4 969.5,1045.4 970.0,1045.4 970.5,1045.4 971.0,1045.4 971.5,1045.4 972.0,1045.4 972.5,1045.4 973.0,1045.4 973.5,1045.4 974.0,1045.4 974.5,1045.4 975.0,1045.4 975.5,1045.4 976.0,1045.4 976.5,1045.4 977.0,1045.4 977.5,1045.4 978.0,1045.4 978.5,1045.4 979.0,1045.4 979.5,1045.4 980.0,1045.4 980.5,1045.4 981.0,1045.4 981.5,1045.4 982.0,1045.4 982.5,1045.4 983.0,1045.4 983.5,1045.4 984.0,1045.4 984.5,1045.4 985.0,1045.4 985.5,1045.4 986.0,1045.4 986.5,1045.4 987.0,1045.4 987.5,1045.4 988.0,1045.4 988.5,1045.4 989.0,1045.4 989.5,1045.4 990.0,1045.4 990.5,1045.4 991.0,1045.4 991.5,1045.4 992.0,1045.4 992.5,1045.4 993.0,1045.4 993.5,1045.4 994.0,1045.4 994.5,1045.4 995.0,1045.4 995.5,1045.4 996.0,1045.4 996.5,1045.4 997.0,1045.4 997.5,1045.4 998.0,1045.4 998.5,1045.4 999.0,1045.4 999.5,1045.4 1000.0,1045.4 1000.5,1045.4 1001.0,1045.4 1001.5,1045.4 1002.0,1045.4 1002.5,1045.4 1003.0,1045.4 1003.5,1045.4 1004.0,1045.4 1004.5,1045.4 1005.0,1045.4 1005.5,1045.4 1006.0,1045.4 1006.5,1045.4 1007.0,1045.4 1007.5,1045.4 1008.0,1045.4 1008.5,1045.4 1009.0,1045.4 1009.5,1045.4 1010.0,1045.4 1010.5,1045.4 1011.0,1045.4 1011.5,1045.4 1012.0,1045.4 1012.5,1045.4 1013.0,1045.4 1013.5,1045.4 1014.0,1045.4 1014.5,1045.4 1015.0,1045.4 1015.5,1045.4 1016.0,1045.4 1016.5,1045.4 1017.0,1045.4 1017.5,1045.4 1018.0,1045.4 1018.5,1045.4 1019.0,1045.4 1019.5,1045.4 1020.0,1045.4 1020.5,1045.4 1021.0,1045.4 1021.5,1045.4 1022.0,1045.4 1022.5,1045.4 1023.0,1045.4 1023.5,1045.4 1024.0,1045.4 1024.5,1045.4 1025.0,1045.4 1025.5,1045.4 1026.0,1045.4 1026.5,1045.4 1027.0,1045.4 1027.5,1045.4 1028.0,1045.4 1028.5,1045.4 1029.0,1045.4 1029.5,1045.4 1030.0,1045.4 1030.5,1045.4 1031.0,1045.4 1031.5,1045.4 1032.0,1045.4 1032.5,1045.4 1033.0,1045.4 1033.5,1045.4 1034.0,1045.4 1034.5,1045.4 1035.0,1045.4 1035.5,1045.4 1036.0,1045.4 1036.5,1045.4 1037.0,1045.4 1037.5,1045.4 1038.0,1045.4 1038.5,1045.4 1039.0,1045.4 1039.5,1045.4 1040.0,1045.4 1040.5,1045.4 1041.0,1045.4 1041.5,1045.4 1042.0,1045.4 1042.5,1045.4 1043.0,1045.4 1043.5,1045.4 1044.0,1045.4 1044.5,1045.4 1045.0,1045.4 1045.5,1045.4 1046.0,1045.4 1046.5,1045.4 1047.0,1045.4 1047.5,1045.4 1048.0,1045.4 1048.5,1045.4 1049.0,1045.4 1049.5,1045.4 1050.0,1045.4 1050.5,1045.4 1051.0,1045.4 1051.5,1045.4 1052.0,1045.4 1052.5,1045.4 1053.0,1045.4 1053.5,1045.4 1054.0,1045.4 1054.5,1045.4 1055.0,1045.4 1055.5,1045.4 1056.0,1045.4 1056.5,1045.4 1057.0,1045.4 1057.5,1045.4 1058.0,1045.4 1058.5,1045.4 1059.0,1045.4 1059.5,1045.4 1060.0,1045.4 1060.5,1045.4 1061.0,1045.4 1061.5,1045.4 1062.0,1045.4 1062.5,1045.4 1063.0,1045.4 1063.5,1045.4 1064.0,1045.4 1064.5,1045.4 1065.0,1045.4 1065.5,1045.4 1066.0,1045.4 1066.5,1045.4 1067.0,1045.4 1067.5,1045.4 1068.0,1045.4 1068.5,1045.4 1069.0,1045.4 1069.5,1045.4 1070.0,1045.4 1070.5,1045.4 1071.0,1045.4 1071.5,1045.4 1072.0,1045.4 1072.5,1045.4 1073.0,1045.4 1073.5,1045.4 1074.0,1045.4 1074.5,1045.4 1075.0,1045.4 1075.5,1045.4 1076.0,1045.4 1076.5,1045.4 1077.0,1045.4 1077.5,1045.4 1078.0,1045.4 1078.5,1045.4 1079.0,1045.4 1079.5,1045.4 1080.0,1045.4 1080.5,1045.4 1081.0,1045.4 1081.5,1045.4 1082.0,1045.4 1082.5,1045.4 1083.0,1045.4 1083.5,1045.4 1084.0,1045.4 1084.5,1045.4 1085.0,1045.4 1085.5,1045.4 1086.0,1045.4 1086.5,1045.4 1087.0,1045.4 1087.5,1045.4 1088.0,1045.4 1088.5,1045.4 1089.0,1045.4 1089.5,1045.4 1090.0,1045.4 1090.5,1045.4 1091.0,1045.4 1091.5,1045.4 1092.0,1045.4 1092.5,1045.4 1093.0,1045.4 1093.5,1045.4 1094.0,1045.4 1094.5,1045.4 1095.0,1045.4 1095.5,1045.4 1096.0,1045.4 1096.5,1045.4 1097.0,1045.4 1097.5,1045.4 1098.0,1045.4 1098.5,1045.4 1099.0,1045.4 1099.5,1045.4 1100.0,1045.4 1100.5,1045.4 1101.0,1045.3 1101.5,1045.3 1102.0,1045.3 1102.5,1045.3 1103.0,1045.3 1103.5,1045.3 1104.0,1045.3 1104.5,1045.3 1105.0,1045.3 1105.5,1045.3 1106.0,1045.3 1106.5,1045.3 1107.0,1045.3 1107.5,1045.3 1108.0,1045.3 1108.5,1045.3 1109.0,1045.3 1109.5,1045.3 1110.0,1045.3 1110.5,1045.3 1111.0,1045.3 1111.5,1045.3 1112.0,1045.3 1112.5,1045.3 1113.0,1045.3 1113.5,1045.3 1114.0,1045.2 1114.5,1045.2 1115.0,1045.2 1115.5,1045.2 1116.0,1045.2 1116.5,1045.2 1117.0,1045.2 1117.5,1045.2 1118.0,1045.2 1118.5,1045.2 1119.0,1045.2 1119.5,1045.2 1120.0,1045.2 1120.5,1045.2 1121.0,1045.2 1121.5,1045.2 1122.0,1045.2 1122.5,1045.2 1123.0,1045.2 1123.5,1045.2 1124.0,1045.2 1124.5,1045.2 1125.0,1045.2 1125.5,1045.2 1126.0,1045.2 1126.5,1045.2 1127.0,1045.1 1127.5,1045.1 1128.0,1045.1 1128.5,1045.1 1129.0,1045.1 1129.5,1045.1 1130.0,1045.1 1130.5,1045.1 1131.0,1045.1 1131.5,1045.1 1132.0,1045.1 1132.5,1045.1 1133.0,1045.1 1133.5,1045.1 1134.0,1045.1 1134.5,1045.1 1135.0,1045.1 1135.5,1045.1 1136.0,1045.1 1136.5,1045.1 1137.0,1045.1 1137.5,1045.1 1138.0,1045.1 1138.5,1045.1 1139.0,1045.1 1139.5,1045.1 1140.0,1045.0 1140.5,1045.0 1141.0,1045.0 1141.5,1045.0 1142.0,1045.0 1142.5,1045.0 1143.0,1045.0 1143.5,1045.0 1144.0,1045.0 1144.5,1045.0 1145.0,1045.0 1145.5,1045.0 1146.0,1045.0 1146.5,1045.0 1147.0,1045.0 1147.5,1045.0 1148.0,1045.0 1148.5,1045.0 1149.0,1045.0 1149.5,1045.0 1150.0,1045.0 1150.5,1045.0 1151.0,1045.0 1151.5,1045.0 1152.0,1045.0 1152.5,1045.0 1153.0,1044.9 1153.5,1044.9 1154.0,1044.9 1154.5,1044.9 1155.0,1044.9 1155.5,1044.9 1156.0,1044.9 1156.5,1044.9 1157.0,1044.9 1157.5,1044.9 1158.0,1044.9 1158.5,1044.9 1159.0,1044.9 1159.5,1044.9 1160.0,1044.9 1160.5,1044.9 1161.0,1044.9 1161.5,1044.9 1162.0,1044.9 1162.5,1044.9 1163.0,1044.9 1163.5,1044.9 1164.0,1044.9 1164.5,1044.9 1165.0,1044.9 1165.5,1044.9 1166.0,1044.8 1166.5,1044.8 1167.0,1044.8 1167.5,1044.8 1168.0,1044.8 1168.5,1044.8 1169.0,1044.8 1169.5,1044.8 1170.0,1044.8 1170.5,1044.8 1171.0,1044.8 1171.5,1044.8 1172.0,1044.8 1172.5,1044.8 1173.0,1044.8 1173.5,1044.8 1174.0,1044.8 1174.5,1044.8 1175.0,1044.8 1175.5,1044.8 1176.0,1044.8 1176.5,1044.8 1177.0,1044.8 1177.5,1044.8 1178.0,1044.8 1178.5,1044.8 1179.0,1044.7 1179.5,1044.7 1180.0,1044.7 1180.5,1044.7 1181.0,1044.7 1181.5,1044.7 1182.0,1044.7 1182.5,1044.7 1183.0,1044.7 1183.5,1044.7 1184.0,1044.7 1184.5,1044.7 1185.0,1044.7 1185.5,1044.7 1186.0,1044.7 1186.5,1044.7 1187.0,1044.7 1187.5,1044.7 1188.0,1044.7 1188.5,1044.7 1189.0,1044.7 1189.5,1044.7 1190.0,1044.7 1190.5,1044.7 1191.0,1044.7 1191.5,1044.7 1192.0,1044.7 1192.5,1044.6 1193.0,1044.6 1193.5,1044.6 1194.0,1044.6 1194.5,1044.6 1195.0,1044.6 1195.5,1044.6 1196.0,1044.6 1196.5,1044.6 1197.0,1044.6 1197.5,1044.6 1198.0,1044.6 1198.5,1044.6 1199.0,1044.6 1199.5,1044.6 1200.0,1044.6 1200.5,1044.6 1201.0,1044.6 1201.5,1044.6 1202.0,1044.6 1202.5,1044.6 1203.0,1044.6 1203.5,1044.6 1204.0,1044.6 1204.5,1044.6 1205.0,1044.6 1205.5,1044.5 1206.0,1044.5 1206.5,1044.5 1207.0,1044.5 1207.5,1044.5 1208.0,1044.5 1208.5,1044.5 1209.0,1044.5 1209.5,1044.5 1210.0,1044.5 1210.5,1044.5 1211.0,1044.5 1211.5,1044.5 1212.0,1044.5 1212.5,1044.5 1213.0,1044.5 1213.5,1044.5 1214.0,1044.5 1214.5,1044.5 1215.0,1044.5 1215.5,1044.5 1216.0,1044.5 1216.5,1044.5 1217.0,1044.5 1217.5,1044.5 1218.0,1044.5 1218.5,1044.4 1219.0,1044.4 1219.5,1044.4 1220.0,1044.4 1220.5,1044.4 1221.0,1044.4 1221.5,1044.4 1222.0,1044.4 1222.5,1044.4 1223.0,1044.4 1223.5,1044.4 1224.0,1044.4 1224.5,1044.4 1225.0,1044.4 1225.5,1044.4 1226.0,1044.4 1226.5,1044.4 1227.0,1044.4 1227.5,1044.4 1228.0,1044.4 1228.5,1044.4 1229.0,1044.4 1229.5,1044.4 1230.0,1044.4 1230.5,1044.4 1231.0,1044.4 1231.5,1044.3 1232.0,1044.3 1232.5,1044.3 1233.0,1044.3 1233.5,1044.3 1234.0,1044.3 1234.5,1044.3 1235.0,1044.3 1235.5,1044.3 1236.0,1044.3 1236.5,1044.3 1237.0,1044.3 1237.5,1044.3 1238.0,1044.3 1238.5,1044.3 1239.0,1044.3 1239.5,1044.3 1240.0,1044.3 1240.5,1044.3 1241.0,1044.3 1241.5,1044.3 1242.0,1044.3 1242.5,1044.3 1243.0,1044.3 1243.5,1044.3 1244.0,1044.3 1244.5,1044.2 1245.0,1044.2 1245.5,1044.2 1246.0,1044.2 1246.5,1044.2 1247.0,1044.2 1247.5,1044.2 1248.0,1044.2 1248.5,1044.2 1249.0,1044.2 1249.5,1044.2 1250.0,1044.2 1250.5,1044.2 1251.0,1044.2 1251.5,1044.2 1252.0,1044.2 1252.5,1044.2 1253.0,1044.2 1253.5,1044.2 1254.0,1044.2 1254.5,1044.2 1255.0,1044.2 1255.5,1044.2 1256.0,1044.2 1256.5,1044.2 1257.0,1044.2 1257.5,1044.1 1258.0,1044.1 1258.5,1044.1 1259.0,1044.1 1259.5,1044.1 1260.0,1044.1 1260.5,1044.1 1261.0,1044.1 1261.5,1044.1 1262.0,1044.1 1262.5,1044.1 1263.0,1044.1 1263.5,1044.1"/>
<polyline fill="none" stroke="#00D084" stroke-width="4.2" stroke-linejoin="round" points="285.0,1056.2 285.5,1056.2 286.0,1056.1 286.5,1056.1 287.0,1056.1 287.5,1056.0 288.0,1056.0 288.5,1056.0 289.0,1056.0 289.5,1055.9 290.0,1055.9 290.5,1055.9 291.0,1055.8 291.5,1055.8 292.0,1055.8 292.5,1055.7 293.0,1055.7 293.5,1055.7 294.0,1055.6 294.5,1055.6 295.0,1055.6 295.5,1055.5 296.0,1055.5 296.5,1055.5 297.0,1055.5 297.5,1055.4 298.0,1055.4 298.5,1055.4 299.0,1055.3 299.5,1055.3 300.0,1055.3 300.5,1055.2 301.0,1055.2 301.5,1055.2 302.0,1055.1 302.5,1055.1 303.0,1055.1 303.5,1055.0 304.0,1055.0 304.5,1055.0 305.0,1054.9 305.5,1054.9 306.0,1054.9 306.5,1054.8 307.0,1054.8 307.5,1054.8 308.0,1054.7 308.5,1054.7 309.0,1054.7 309.5,1054.6 310.0,1054.6 310.5,1054.5 311.0,1054.5 311.5,1054.5 312.0,1054.4 312.5,1054.4 313.0,1054.4 313.5,1054.3 314.0,1054.3 314.5,1054.3 315.0,1054.2 315.5,1054.2 316.0,1054.1 316.5,1054.1 317.0,1054.1 317.5,1054.0 318.0,1054.0 318.5,1054.0 319.0,1053.9 319.5,1053.9 320.0,1053.8 320.5,1053.8 321.0,1053.8 321.5,1053.7 322.0,1053.7 322.5,1053.7 323.0,1053.6 323.5,1053.6 324.0,1053.5 324.5,1053.5 325.0,1053.5 325.5,1053.4 326.0,1053.4 326.5,1053.3 327.0,1053.3 327.5,1053.3 328.0,1053.2 328.5,1053.2 329.0,1053.1 329.5,1053.1 330.0,1053.0 330.5,1053.0 331.0,1053.0 331.5,1052.9 332.0,1052.9 332.5,1052.8 333.0,1052.8 333.5,1052.7 334.0,1052.7 334.5,1052.7 335.0,1052.6 335.5,1052.6 336.0,1052.5 336.5,1052.5 337.0,1052.4 337.5,1052.4 338.0,1052.3 338.5,1052.3 339.0,1052.2 339.5,1052.2 340.0,1052.1 340.5,1052.1 341.0,1052.1 341.5,1052.0 342.0,1052.0 342.5,1051.9 343.0,1051.9 343.5,1051.8 344.0,1051.8 344.5,1051.7 345.0,1051.7 345.5,1051.6 346.0,1051.6 346.5,1051.5 347.0,1051.5 347.5,1051.4 348.0,1051.3 348.5,1051.3 349.0,1051.2 349.5,1051.2 350.0,1051.1 350.5,1051.1 351.0,1051.0 351.5,1051.0 352.0,1050.9 352.5,1050.9 353.0,1050.8 353.5,1050.7 354.0,1050.7 354.5,1050.6 355.0,1050.6 355.5,1050.5 356.0,1050.4 356.5,1050.4 357.0,1050.3 357.5,1050.3 358.0,1050.2 358.5,1050.1 359.0,1050.1 359.5,1050.0 360.0,1050.0 360.5,1049.9 361.0,1049.8 361.5,1049.8 362.0,1049.7 362.5,1049.6 363.0,1049.6 363.5,1049.5 364.0,1049.4 364.5,1049.4 365.0,1049.3 365.5,1049.2 366.0,1049.1 366.5,1049.1 367.0,1049.0 367.5,1048.9 368.0,1048.9 368.5,1048.8 369.0,1048.7 369.5,1048.6 370.0,1048.6 370.5,1048.5 371.0,1048.4 371.5,1048.3 372.0,1048.2 372.5,1048.2 373.0,1048.1 373.5,1048.0 374.0,1047.9 374.5,1047.8 375.0,1047.7 375.5,1047.7 376.0,1047.6 376.5,1047.5 377.0,1047.4 377.5,1047.3 378.0,1047.2 378.5,1047.1 379.0,1047.0 379.5,1047.0 380.0,1046.9 380.5,1046.8 381.0,1046.7 381.5,1046.6 382.0,1046.5 382.5,1046.4 383.0,1046.3 383.5,1046.2 384.0,1046.1 384.5,1046.0 385.0,1045.9 385.5,1045.8 386.0,1045.7 386.5,1045.6 387.0,1045.4 387.5,1045.3 388.0,1045.2 388.5,1045.1 389.0,1045.0 389.5,1044.9 390.0,1044.8 390.5,1044.7 391.0,1044.5 391.5,1044.4 392.0,1044.3 392.5,1044.2 393.0,1044.1 393.5,1043.9 394.0,1043.8 394.5,1043.7 395.0,1043.5 395.5,1043.4 396.0,1043.3 396.5,1043.2 397.0,1043.0 397.5,1042.9 398.0,1042.7 398.5,1042.6 399.0,1042.5 399.5,1042.3 400.0,1042.2 400.5,1042.0 401.0,1041.9 401.5,1041.7 402.0,1041.6 402.5,1041.4 403.0,1041.3 403.5,1041.1 404.0,1040.9 404.5,1040.8 405.0,1040.6 405.5,1040.5 406.0,1040.3 406.5,1040.1 407.0,1040.0 407.5,1039.8 408.0,1039.6 408.5,1039.4 409.0,1039.3 409.5,1039.1 410.0,1038.9 410.5,1038.7 411.0,1038.5 411.5,1038.3 412.0,1038.1 412.5,1037.9 413.0,1037.7 413.5,1037.5 414.0,1037.3 414.5,1037.1 415.0,1036.9 415.5,1036.7 416.0,1036.5 416.5,1036.3 417.0,1036.1 417.5,1035.9 418.0,1035.6 418.5,1035.4 419.0,1035.2 419.5,1035.0 420.0,1034.7 420.5,1034.5 421.0,1034.2 421.5,1034.0 422.0,1033.8 422.5,1033.5 423.0,1033.3 423.5,1033.0 424.0,1032.8 424.5,1032.5 425.0,1032.2 425.5,1032.0 426.0,1031.7 426.5,1031.4 427.0,1031.2 427.5,1030.9 428.0,1030.6 428.5,1030.3 429.0,1030.0 429.5,1029.7 430.0,1029.4 430.5,1029.1 431.0,1028.8 431.5,1028.5 432.0,1028.2 432.5,1027.9 433.0,1027.6 433.5,1027.3 434.0,1026.9 434.5,1026.6 435.0,1026.3 435.5,1026.0 436.0,1025.6 436.5,1025.3 437.0,1024.9 437.5,1024.6 438.0,1024.2 438.5,1023.9 439.0,1023.5 439.5,1023.1 440.0,1022.8 440.5,1022.4 441.0,1022.0 441.5,1021.6 442.0,1021.2 442.5,1020.8 443.0,1020.4 443.5,1020.0 444.0,1019.6 444.5,1019.2 445.0,1018.8 445.5,1018.4 446.0,1017.9 446.5,1017.5 447.0,1017.1 447.5,1016.6 448.0,1016.2 448.5,1015.7 449.0,1015.3 449.5,1014.8 450.0,1014.3 450.5,1013.9 451.0,1013.4 451.5,1012.9 452.0,1012.4 452.5,1011.9 453.0,1011.4 453.5,1010.9 454.0,1010.4 454.5,1009.9 455.0,1009.4 455.5,1008.9 456.0,1008.3 456.5,1007.8 457.0,1007.2 457.5,1006.7 458.0,1006.1 458.5,1005.6 459.0,1005.0 459.5,1004.4 460.0,1003.9 460.5,1003.3 461.0,1002.7 461.5,1002.1 462.0,1001.5 462.5,1000.9 463.0,1000.3 463.5,999.6 464.0,999.0 464.5,998.4 465.0,997.7 465.5,997.1 466.0,996.4 466.5,995.8 467.0,995.1 467.5,994.4 468.0,993.7 468.5,993.0 469.0,992.3 469.5,991.6 470.0,990.9 470.5,990.2 471.0,989.5 471.5,988.8 472.0,988.0 472.5,987.3 473.0,986.5 473.5,985.8 474.0,985.0 474.5,984.2 475.0,983.4 475.5,982.6 476.0,981.8 476.5,981.0 477.0,980.2 477.5,979.4 478.0,978.6 478.5,977.7 479.0,976.9 479.5,976.0 480.0,975.2 480.5,974.3 481.0,973.4 481.5,972.6 482.0,971.7 482.5,970.8 483.0,969.9 483.5,968.9 484.0,968.0 484.5,967.1 485.0,966.1 485.5,965.2 486.0,964.2 486.5,963.3 487.0,962.3 487.5,961.3 488.0,960.3 488.5,959.3 489.0,958.3 489.5,957.3 490.0,956.3 490.5,955.2 491.0,954.2 491.5,953.1 492.0,952.1 492.5,951.0 493.0,949.9 493.5,948.8 494.0,947.7 494.5,946.6 495.0,945.5 495.5,944.4 496.0,943.3 496.5,942.1 497.0,941.0 497.5,939.8 498.0,938.7 498.5,937.5 499.0,936.3 499.5,935.1 500.0,933.9 500.5,932.7 501.0,931.5 501.5,930.2 502.0,929.0 502.5,927.7 503.0,926.5 503.5,925.2 504.0,923.9 504.5,922.6 505.0,921.3 505.5,920.0 506.0,918.7 506.5,917.4 507.0,916.1 507.5,914.7 508.0,913.4 508.5,912.0 509.0,910.6 509.5,909.2 510.0,907.8 510.5,906.4 511.0,905.0 511.5,903.6 512.0,902.2 512.5,900.8 513.0,899.3 513.5,897.8 514.0,896.4 514.5,894.9 515.0,893.4 515.5,891.9 516.0,890.4 516.5,888.9 517.0,887.4 517.5,885.8 518.0,884.3 518.5,882.8 519.0,881.2 519.5,879.6 520.0,878.0 520.5,876.5 521.0,874.9 521.5,873.3 522.0,871.6 522.5,870.0 523.0,868.4 523.5,866.7 524.0,865.1 524.5,863.4 525.0,861.8 525.5,860.1 526.0,858.4 526.5,856.7 527.0,855.0 527.5,853.3 528.0,851.6 528.5,849.8 529.0,848.1 529.5,846.3 530.0,844.6 530.5,842.8 531.0,841.0 531.5,839.2 532.0,837.5 532.5,835.7 533.0,833.8 533.5,832.0 534.0,830.2 534.5,828.4 535.0,826.5 535.5,824.7 536.0,822.8 536.5,821.0 537.0,819.1 537.5,817.2 538.0,815.3 538.5,813.4 539.0,811.5 539.5,809.6 540.0,807.7 540.5,805.8 541.0,803.8 541.5,801.9 542.0,799.9 542.5,798.0 543.0,796.0 543.5,794.0 544.0,792.1 544.5,790.1 545.0,788.1 545.5,786.1 546.0,784.1 546.5,782.1 547.0,780.1 547.5,778.1 548.0,776.0 548.5,774.0 549.0,772.0 549.5,769.9 550.0,767.9 550.5,765.8 551.0,763.7 551.5,761.7 552.0,759.6 552.5,757.5 553.0,755.4 553.5,753.3 554.0,751.3 554.5,749.2 555.0,747.0 555.5,744.9 556.0,742.8 556.5,740.7 557.0,738.6 557.5,736.5 558.0,734.3 558.5,732.2 559.0,730.1 559.5,727.9 560.0,725.8 560.5,723.6 561.0,721.5 561.5,719.3 562.0,717.2 562.5,715.0 563.0,712.9 563.5,710.7 564.0,708.5 564.5,706.4 565.0,704.2 565.5,702.0 566.0,699.9 566.5,697.7 567.0,695.5 567.5,693.3 568.0,691.2 568.5,689.0 569.0,686.8 569.5,684.6 570.0,682.4 570.5,680.3 571.0,678.1 571.5,675.9 572.0,673.7 572.5,671.5 573.0,669.4 573.5,667.2 574.0,665.0 574.5,662.8 575.0,660.6 575.5,658.5 576.0,656.3 576.5,654.1 577.0,651.9 577.5,649.8 578.0,647.6 578.5,645.4 579.0,643.3 579.5,641.1 580.0,639.0 580.5,636.8 581.0,634.7 581.5,632.5 582.0,630.4 582.5,628.2 583.0,626.1 583.5,624.0 584.0,621.8 584.5,619.7 585.0,617.6 585.5,615.5 586.0,613.4 586.5,611.3 587.0,609.2 587.5,607.1 588.0,605.0 588.5,602.9 589.0,600.8 589.5,598.8 590.0,596.7 590.5,594.7 591.0,592.6 591.5,590.6 592.0,588.5 592.5,586.5 593.0,584.5 593.5,582.5 594.0,580.5 594.5,578.5 595.0,576.5 595.5,574.5 596.0,572.6 596.5,570.6 597.0,568.7 597.5,566.7 598.0,564.8 598.5,562.9 599.0,561.0 599.5,559.1 600.0,557.2 600.5,555.4 601.0,553.5 601.5,551.6 602.0,549.8 602.5,548.0 603.0,546.2 603.5,544.4 604.0,542.6 604.5,540.8 605.0,539.0 605.5,537.3 606.0,535.5 606.5,533.8 607.0,532.1 607.5,530.4 608.0,528.7 608.5,527.1 609.0,525.4 609.5,523.8 610.0,522.1 610.5,520.5 611.0,518.9 611.5,517.4 612.0,515.8 612.5,514.3 613.0,512.7 613.5,511.2 614.0,509.7 614.5,508.2 615.0,506.8 615.5,505.3 616.0,503.9 616.5,502.5 617.0,501.1 617.5,499.7 618.0,498.4 618.5,497.0 619.0,495.7 619.5,494.4 620.0,493.1 620.5,491.8 621.0,490.6 621.5,489.4 622.0,488.2 622.5,487.0 623.0,485.8 623.5,484.7 624.0,483.5 624.5,482.4 625.0,481.4 625.5,480.3 626.0,479.2 626.5,478.2 627.0,477.2 627.5,476.2 628.0,475.3 628.5,474.3 629.0,473.4 629.5,472.5 630.0,471.7 630.5,470.8 631.0,470.0 631.5,469.2 632.0,468.4 632.5,467.6 633.0,466.9 633.5,466.2 634.0,465.5 634.5,464.8 635.0,464.2 635.5,463.6 636.0,463.0 636.5,462.4 637.0,461.8 637.5,461.3 638.0,460.8 638.5,460.3 639.0,459.9 639.5,459.5 640.0,459.0 640.5,458.7 641.0,458.3 641.5,458.0 642.0,457.7 642.5,457.4 643.0,457.1 643.5,456.9 644.0,456.7 644.5,456.5 645.0,456.3 645.5,456.2 646.0,456.1 646.5,456.0 647.0,455.9 647.5,455.9 648.0,455.9 648.5,455.9 649.0,455.9 649.5,456.0 650.0,456.0 650.5,456.1 651.0,456.3 651.5,456.4 652.0,456.6 652.5,456.8 653.0,457.0 653.5,457.3 654.0,457.5 654.5,457.8 655.0,458.1 655.5,458.5 656.0,458.9 656.5,459.2 657.0,459.7 657.5,460.1 658.0,460.6 658.5,461.0 659.0,461.5 659.5,462.1 660.0,462.6 660.5,463.2 661.0,463.8 661.5,464.4 662.0,465.1 662.5,465.7 663.0,466.4 663.5,467.1 664.0,467.9 664.5,468.6 665.0,469.4 665.5,470.2 666.0,471.0 666.5,471.8 667.0,472.7 667.5,473.6 668.0,474.5 668.5,475.4 669.0,476.4 669.5,477.3 670.0,478.3 670.5,479.3 671.0,480.4 671.5,481.4 672.0,482.5 672.5,483.6 673.0,484.7 673.5,485.8 674.0,486.9 674.5,488.1 675.0,489.3 675.5,490.5 676.0,491.7 676.5,493.0 677.0,494.2 677.5,495.5 678.0,496.8 678.5,498.1 679.0,499.4 679.5,500.8 680.0,502.2 680.5,503.5 681.0,504.9 681.5,506.4 682.0,507.8 682.5,509.2 683.0,510.7 683.5,512.2 684.0,513.7 684.5,515.2 685.0,516.7 685.5,518.3 686.0,519.8 686.5,521.4 687.0,523.0 687.5,524.6 688.0,526.2 688.5,527.9 689.0,529.5 689.5,531.2 690.0,532.8 690.5,534.5 691.0,536.2 691.5,537.9 692.0,539.7 692.5,541.4 693.0,543.1 693.5,544.9 694.0,546.7 694.5,548.5 695.0,550.3 695.5,552.1 696.0,553.9 696.5,555.7 697.0,557.5 697.5,559.4 698.0,561.3 698.5,563.1 699.0,565.0 699.5,566.9 700.0,568.8 700.5,570.7 701.0,572.6 701.5,574.5 702.0,576.5 702.5,578.4 703.0,580.4 703.5,582.3 704.0,584.3 704.5,586.3 705.0,588.3 705.5,590.2 706.0,592.2 706.5,594.2 707.0,596.3 707.5,598.3 708.0,600.3 708.5,602.3 709.0,604.4 709.5,606.4 710.0,608.4 710.5,610.5 711.0,612.6 711.5,614.6 712.0,616.7 712.5,618.8 713.0,620.8 713.5,622.9 714.0,625.0 714.5,627.1 715.0,629.2 715.5,631.3 716.0,633.4 716.5,635.5 717.0,637.6 717.5,639.7 718.0,641.8 718.5,643.9 719.0,646.0 719.5,648.1 720.0,650.3 720.5,652.4 721.0,654.5 721.5,656.6 722.0,658.7 722.5,660.9 723.0,663.0 723.5,665.1 724.0,667.3 724.5,669.4 725.0,671.5 725.5,673.6 726.0,675.8 726.5,677.9 727.0,680.0 727.5,682.2 728.0,684.3 728.5,686.4 729.0,688.5 729.5,690.7 730.0,692.8 730.5,694.9 731.0,697.0 731.5,699.2 732.0,701.3 732.5,703.4 733.0,705.5 733.5,707.6 734.0,709.7 734.5,711.8 735.0,713.9 735.5,716.0 736.0,718.1 736.5,720.2 737.0,722.3 737.5,724.4 738.0,726.5 738.5,728.6 739.0,730.7 739.5,732.8 740.0,734.8 740.5,736.9 741.0,739.0 741.5,741.0 742.0,743.1 742.5,745.1 743.0,747.2 743.5,749.2 744.0,751.2 744.5,753.3 745.0,755.3 745.5,757.3 746.0,759.3 746.5,761.4 747.0,763.4 747.5,765.4 748.0,767.4 748.5,769.3 749.0,771.3 749.5,773.3 750.0,775.3 750.5,777.2 751.0,779.2 751.5,781.2 752.0,783.1 752.5,785.0 753.0,787.0 753.5,788.9 754.0,790.8 754.5,792.7 755.0,794.7 755.5,796.6 756.0,798.4 756.5,800.3 757.0,802.2 757.5,804.1 758.0,806.0 758.5,807.8 759.0,809.7 759.5,811.5 760.0,813.3 760.5,815.2 761.0,817.0 761.5,818.8 762.0,820.6 762.5,822.4 763.0,824.2 763.5,826.0 764.0,827.7 764.5,829.5 765.0,831.3 765.5,833.0 766.0,834.8 766.5,836.5 767.0,838.2 767.5,839.9 768.0,841.6 768.5,843.3 769.0,845.0 769.5,846.7 770.0,848.4 770.5,850.0 771.0,851.7 771.5,853.4 772.0,855.0 772.5,856.6 773.0,858.2 773.5,859.9 774.0,861.5 774.5,863.1 775.0,864.6 775.5,866.2 776.0,867.8 776.5,869.3 777.0,870.9 777.5,872.4 778.0,874.0 778.5,875.5 779.0,877.0 779.5,878.5 780.0,880.0 780.5,881.5 781.0,883.0 781.5,884.5 782.0,885.9 782.5,887.4 783.0,888.8 783.5,890.2 784.0,891.7 784.5,893.1 785.0,894.5 785.5,895.9 786.0,897.3 786.5,898.6 787.0,900.0 787.5,901.4 788.0,902.7 788.5,904.1 789.0,905.4 789.5,906.7 790.0,908.0 790.5,909.3 791.0,910.6 791.5,911.9 792.0,913.2 792.5,914.5 793.0,915.7 793.5,917.0 794.0,918.2 794.5,919.4 795.0,920.7 795.5,921.9 796.0,923.1 796.5,924.3 797.0,925.5 797.5,926.6 798.0,927.8 798.5,929.0 799.0,930.1 799.5,931.3 800.0,932.4 800.5,933.5 801.0,934.6 801.5,935.7 802.0,936.8 802.5,937.9 803.0,939.0 803.5,940.1 804.0,941.1 804.5,942.2 805.0,943.2 805.5,944.3 806.0,945.3 806.5,946.3 807.0,947.3 807.5,948.3 808.0,949.3 808.5,950.3 809.0,951.3 809.5,952.3 810.0,953.2 810.5,954.2 811.0,955.1 811.5,956.1 812.0,957.0 812.5,957.9 813.0,958.8 813.5,959.7 814.0,960.6 814.5,961.5 815.0,962.4 815.5,963.3 816.0,964.1 816.5,965.0 817.0,965.8 817.5,966.7 818.0,967.5 818.5,968.3 819.0,969.1 819.5,970.0 820.0,970.8 820.5,971.6 821.0,972.3 821.5,973.1 822.0,973.9 822.5,974.7 823.0,975.4 823.5,976.2 824.0,976.9 824.5,977.6 825.0,978.4 825.5,979.1 826.0,979.8 826.5,980.5 827.0,981.2 827.5,981.9 828.0,982.6 828.5,983.3 829.0,983.9 829.5,984.6 830.0,985.3 830.5,985.9 831.0,986.6 831.5,987.2 832.0,987.8 832.5,988.5 833.0,989.1 833.5,989.7 834.0,990.3 834.5,990.9 835.0,991.5 835.5,992.1 836.0,992.7 836.5,993.2 837.0,993.8 837.5,994.4 838.0,994.9 838.5,995.5 839.0,996.0 839.5,996.6 840.0,997.1 840.5,997.6 841.0,998.1 841.5,998.7 842.0,999.2 842.5,999.7 843.0,1000.2 843.5,1000.7 844.0,1001.2 844.5,1001.6 845.0,1002.1 845.5,1002.6 846.0,1003.1 846.5,1003.5 847.0,1004.0 847.5,1004.4 848.0,1004.9 848.5,1005.3 849.0,1005.7 849.5,1006.2 850.0,1006.6 850.5,1007.0 851.0,1007.4 851.5,1007.9 852.0,1008.3 852.5,1008.7 853.0,1009.1 853.5,1009.5 854.0,1009.8 854.5,1010.2 855.0,1010.6 855.5,1011.0 856.0,1011.4 856.5,1011.7 857.0,1012.1 857.5,1012.4 858.0,1012.8 858.5,1013.1 859.0,1013.5 859.5,1013.8 860.0,1014.2 860.5,1014.5 861.0,1014.8 861.5,1015.1 862.0,1015.5 862.5,1015.8 863.0,1016.1 863.5,1016.4 864.0,1016.7 864.5,1017.0 865.0,1017.3 865.5,1017.6 866.0,1017.9 866.5,1018.2 867.0,1018.5 867.5,1018.7 868.0,1019.0 868.5,1019.3 869.0,1019.6 869.5,1019.8 870.0,1020.1 870.5,1020.3 871.0,1020.6 871.5,1020.8 872.0,1021.1 872.5,1021.3 873.0,1021.6 873.5,1021.8 874.0,1022.1 874.5,1022.3 875.0,1022.5 875.5,1022.8 876.0,1023.0 876.5,1023.2 877.0,1023.4 877.5,1023.6 878.0,1023.9 878.5,1024.1 879.0,1024.3 879.5,1024.5 880.0,1024.7 880.5,1024.9 881.0,1025.1 881.5,1025.3 882.0,1025.5 882.5,1025.7 883.0,1025.8 883.5,1026.0 884.0,1026.2 884.5,1026.4 885.0,1026.6 885.5,1026.7 886.0,1026.9 886.5,1027.1 887.0,1027.3 887.5,1027.4 888.0,1027.6 888.5,1027.7 889.0,1027.9 889.5,1028.1 890.0,1028.2 890.5,1028.4 891.0,1028.5 891.5,1028.7 892.0,1028.8 892.5,1029.0 893.0,1029.1 893.5,1029.2 894.0,1029.4 894.5,1029.5 895.0,1029.7 895.5,1029.8 896.0,1029.9 896.5,1030.1 897.0,1030.2 897.5,1030.3 898.0,1030.4 898.5,1030.6 899.0,1030.7 899.5,1030.8 900.0,1030.9 900.5,1031.0 901.0,1031.2 901.5,1031.3 902.0,1031.4 902.5,1031.5 903.0,1031.6 903.5,1031.7 904.0,1031.8 904.5,1031.9 905.0,1032.0 905.5,1032.1 906.0,1032.2 906.5,1032.3 907.0,1032.4 907.5,1032.5 908.0,1032.6 908.5,1032.7 909.0,1032.8 909.5,1032.9 910.0,1033.0 910.5,1033.1 911.0,1033.2 911.5,1033.2 912.0,1033.3 912.5,1033.4 913.0,1033.5 913.5,1033.6 914.0,1033.7 914.5,1033.7 915.0,1033.8 915.5,1033.9 916.0,1034.0 916.5,1034.1 917.0,1034.1 917.5,1034.2 918.0,1034.3 918.5,1034.3 919.0,1034.4 919.5,1034.5 920.0,1034.6 920.5,1034.6 921.0,1034.7 921.5,1034.8 922.0,1034.8 922.5,1034.9 923.0,1034.9 923.5,1035.0 924.0,1035.1 924.5,1035.1 925.0,1035.2 925.5,1035.2 926.0,1035.3 926.5,1035.4 927.0,1035.4 927.5,1035.5 928.0,1035.5 928.5,1035.6 929.0,1035.6 929.5,1035.7 930.0,1035.7 930.5,1035.8 931.0,1035.8 931.5,1035.9 932.0,1035.9 932.5,1036.0 933.0,1036.0 933.5,1036.1 934.0,1036.1 934.5,1036.2 935.0,1036.2 935.5,1036.3 936.0,1036.3 936.5,1036.4 937.0,1036.4 937.5,1036.4 938.0,1036.5 938.5,1036.5 939.0,1036.6 939.5,1036.6 940.0,1036.7 940.5,1036.7 941.0,1036.7 941.5,1036.8 942.0,1036.8 942.5,1036.8 943.0,1036.9 943.5,1036.9 944.0,1037.0 944.5,1037.0 945.0,1037.0 945.5,1037.1 946.0,1037.1 946.5,1037.1 947.0,1037.2 947.5,1037.2 948.0,1037.2 948.5,1037.3 949.0,1037.3 949.5,1037.3 950.0,1037.4 950.5,1037.4 951.0,1037.4 951.5,1037.4 952.0,1037.5 952.5,1037.5 953.0,1037.5 953.5,1037.6 954.0,1037.6 954.5,1037.6 955.0,1037.6 955.5,1037.7 956.0,1037.7 956.5,1037.7 957.0,1037.8 957.5,1037.8 958.0,1037.8 958.5,1037.8 959.0,1037.9 959.5,1037.9 960.0,1037.9 960.5,1037.9 961.0,1037.9 961.5,1038.0 962.0,1038.0 962.5,1038.0 963.0,1038.0 963.5,1038.1 964.0,1038.1 964.5,1038.1 965.0,1038.1 965.5,1038.1 966.0,1038.2 966.5,1038.2 967.0,1038.2 967.5,1038.2 968.0,1038.2 968.5,1038.3 969.0,1038.3 969.5,1038.3 970.0,1038.3 970.5,1038.3 971.0,1038.4 971.5,1038.4 972.0,1038.4 972.5,1038.4 973.0,1038.4 973.5,1038.5 974.0,1038.5 974.5,1038.5 975.0,1038.5 975.5,1038.5 976.0,1038.5 976.5,1038.6 977.0,1038.6 977.5,1038.6 978.0,1038.6 978.5,1038.6 979.0,1038.6 979.5,1038.6 980.0,1038.7 980.5,1038.7 981.0,1038.7 981.5,1038.7 982.0,1038.7 982.5,1038.7 983.0,1038.7 983.5,1038.8 984.0,1038.8 984.5,1038.8 985.0,1038.8 985.5,1038.8 986.0,1038.8 986.5,1038.8 987.0,1038.9 987.5,1038.9 988.0,1038.9 988.5,1038.9 989.0,1038.9 989.5,1038.9 990.0,1038.9 990.5,1038.9 991.0,1039.0 991.5,1039.0 992.0,1039.0 992.5,1039.0 993.0,1039.0 993.5,1039.0 994.0,1039.0 994.5,1039.0 995.0,1039.0 995.5,1039.1 996.0,1039.1 996.5,1039.1 997.0,1039.1 997.5,1039.1 998.0,1039.1 998.5,1039.1 999.0,1039.1 999.5,1039.1 1000.0,1039.1 1000.5,1039.2 1001.0,1039.2 1001.5,1039.2 1002.0,1039.2 1002.5,1039.2 1003.0,1039.2 1003.5,1039.2 1004.0,1039.2 1004.5,1039.2 1005.0,1039.2 1005.5,1039.2 1006.0,1039.2 1006.5,1039.3 1007.0,1039.3 1007.5,1039.3 1008.0,1039.3 1008.5,1039.3 1009.0,1039.3 1009.5,1039.3 1010.0,1039.3 1010.5,1039.3 1011.0,1039.3 1011.5,1039.3 1012.0,1039.3 1012.5,1039.3 1013.0,1039.4 1013.5,1039.4 1014.0,1039.4 1014.5,1039.4 1015.0,1039.4 1015.5,1039.4 1016.0,1039.4 1016.5,1039.4 1017.0,1039.4 1017.5,1039.4 1018.0,1039.4 1018.5,1039.4 1019.0,1039.4 1019.5,1039.4 1020.0,1039.4 1020.5,1039.5 1021.0,1039.5 1021.5,1039.5 1022.0,1039.5 1022.5,1039.5 1023.0,1039.5 1023.5,1039.5 1024.0,1039.5 1024.5,1039.5 1025.0,1039.5 1025.5,1039.5 1026.0,1039.5 1026.5,1039.5 1027.0,1039.5 1027.5,1039.5 1028.0,1039.5 1028.5,1039.5 1029.0,1039.5 1029.5,1039.5 1030.0,1039.6 1030.5,1039.6 1031.0,1039.6 1031.5,1039.6 1032.0,1039.6 1032.5,1039.6 1033.0,1039.6 1033.5,1039.6 1034.0,1039.6 1034.5,1039.6 1035.0,1039.6 1035.5,1039.6 1036.0,1039.6 1036.5,1039.6 1037.0,1039.6 1037.5,1039.6 1038.0,1039.6 1038.5,1039.6 1039.0,1039.6 1039.5,1039.6 1040.0,1039.6 1040.5,1039.6 1041.0,1039.6 1041.5,1039.6 1042.0,1039.6 1042.5,1039.6 1043.0,1039.6 1043.5,1039.7 1044.0,1039.7 1044.5,1039.7 1045.0,1039.7 1045.5,1039.7 1046.0,1039.7 1046.5,1039.7 1047.0,1039.7 1047.5,1039.7 1048.0,1039.7 1048.5,1039.7 1049.0,1039.7 1049.5,1039.7 1050.0,1039.7 1050.5,1039.7 1051.0,1039.7 1051.5,1039.7 1052.0,1039.7 1052.5,1039.7 1053.0,1039.7 1053.5,1039.7 1054.0,1039.7 1054.5,1039.7 1055.0,1039.7 1055.5,1039.7 1056.0,1039.7 1056.5,1039.7 1057.0,1039.7 1057.5,1039.7 1058.0,1039.7 1058.5,1039.7 1059.0,1039.7 1059.5,1039.7 1060.0,1039.7 1060.5,1039.7 1061.0,1039.7 1061.5,1039.7 1062.0,1039.7 1062.5,1039.7 1063.0,1039.7 1063.5,1039.7 1064.0,1039.7 1064.5,1039.7 1065.0,1039.7 1065.5,1039.7 1066.0,1039.7 1066.5,1039.7 1067.0,1039.7 1067.5,1039.7 1068.0,1039.7 1068.5,1039.7 1069.0,1039.7 1069.5,1039.7 1070.0,1039.7 1070.5,1039.7 1071.0,1039.7 1071.5,1039.7 1072.0,1039.7 1072.5,1039.7 1073.0,1039.7 1073.5,1039.7 1074.0,1039.7 1074.5,1039.7 1075.0,1039.7 1075.5,1039.7 1076.0,1039.7 1076.5,1039.7 1077.0,1039.7 1077.5,1039.7 1078.0,1039.7 1078.5,1039.7 1079.0,1039.7 1079.5,1039.7 1080.0,1039.7 1080.5,1039.7 1081.0,1039.7 1081.5,1039.7 1082.0,1039.7 1082.5,1039.7 1083.0,1039.7 1083.5,1039.7 1084.0,1039.7 1084.5,1039.7 1085.0,1039.7 1085.5,1039.7 1086.0,1039.7 1086.5,1039.7 1087.0,1039.7 1087.5,1039.7 1088.0,1039.7 1088.5,1039.7 1089.0,1039.7 1089.5,1039.7 1090.0,1039.7 1090.5,1039.7 1091.0,1039.7 1091.5,1039.7 1092.0,1039.7 1092.5,1039.7 1093.0,1039.7 1093.5,1039.7 1094.0,1039.7 1094.5,1039.7 1095.0,1039.7 1095.5,1039.7 1096.0,1039.7 1096.5,1039.7 1097.0,1039.7 1097.5,1039.7 1098.0,1039.7 1098.5,1039.7 1099.0,1039.7 1099.5,1039.7 1100.0,1039.7 1100.5,1039.7 1101.0,1039.7 1101.5,1039.7 1102.0,1039.7 1102.5,1039.7 1103.0,1039.7 1103.5,1039.7 1104.0,1039.7 1104.5,1039.7 1105.0,1039.7 1105.5,1039.7 1106.0,1039.7 1106.5,1039.7 1107.0,1039.7 1107.5,1039.7 1108.0,1039.7 1108.5,1039.7 1109.0,1039.7 1109.5,1039.7 1110.0,1039.7 1110.5,1039.7 1111.0,1039.7 1111.5,1039.7 1112.0,1039.7 1112.5,1039.6 1113.0,1039.6 1113.5,1039.6 1114.0,1039.6 1114.5,1039.6 1115.0,1039.6 1115.5,1039.6 1116.0,1039.6 1116.5,1039.6 1117.0,1039.6 1117.5,1039.6 1118.0,1039.6 1118.5,1039.6 1119.0,1039.6 1119.5,1039.6 1120.0,1039.6 1120.5,1039.6 1121.0,1039.6 1121.5,1039.6 1122.0,1039.6 1122.5,1039.6 1123.0,1039.6 1123.5,1039.6 1124.0,1039.6 1124.5,1039.6 1125.0,1039.6 1125.5,1039.6 1126.0,1039.6 1126.5,1039.6 1127.0,1039.6 1127.5,1039.6 1128.0,1039.6 1128.5,1039.6 1129.0,1039.6 1129.5,1039.6 1130.0,1039.5 1130.5,1039.5 1131.0,1039.5 1131.5,1039.5 1132.0,1039.5 1132.5,1039.5 1133.0,1039.5 1133.5,1039.5 1134.0,1039.5 1134.5,1039.5 1135.0,1039.5 1135.5,1039.5 1136.0,1039.5 1136.5,1039.5 1137.0,1039.5 1137.5,1039.5 1138.0,1039.5 1138.5,1039.5 1139.0,1039.5 1139.5,1039.5 1140.0,1039.5 1140.5,1039.5 1141.0,1039.5 1141.5,1039.5 1142.0,1039.5 1142.5,1039.5 1143.0,1039.5 1143.5,1039.5 1144.0,1039.4 1144.5,1039.4 1145.0,1039.4 1145.5,1039.4 1146.0,1039.4 1146.5,1039.4 1147.0,1039.4 1147.5,1039.4 1148.0,1039.4 1148.5,1039.4 1149.0,1039.4 1149.5,1039.4 1150.0,1039.4 1150.5,1039.4 1151.0,1039.4 1151.5,1039.4 1152.0,1039.4 1152.5,1039.4 1153.0,1039.4 1153.5,1039.4 1154.0,1039.4 1154.5,1039.4 1155.0,1039.4 1155.5,1039.4 1156.0,1039.3 1156.5,1039.3 1157.0,1039.3 1157.5,1039.3 1158.0,1039.3 1158.5,1039.3 1159.0,1039.3 1159.5,1039.3 1160.0,1039.3 1160.5,1039.3 1161.0,1039.3 1161.5,1039.3 1162.0,1039.3 1162.5,1039.3 1163.0,1039.3 1163.5,1039.3 1164.0,1039.3 1164.5,1039.3 1165.0,1039.3 1165.5,1039.3 1166.0,1039.3 1166.5,1039.3 1167.0,1039.2 1167.5,1039.2 1168.0,1039.2 1168.5,1039.2 1169.0,1039.2 1169.5,1039.2 1170.0,1039.2 1170.5,1039.2 1171.0,1039.2 1171.5,1039.2 1172.0,1039.2 1172.5,1039.2 1173.0,1039.2 1173.5,1039.2 1174.0,1039.2 1174.5,1039.2 1175.0,1039.2 1175.5,1039.2 1176.0,1039.2 1176.5,1039.1 1177.0,1039.1 1177.5,1039.1 1178.0,1039.1 1178.5,1039.1 1179.0,1039.1 1179.5,1039.1 1180.0,1039.1 1180.5,1039.1 1181.0,1039.1 1181.5,1039.1 1182.0,1039.1 1182.5,1039.1 1183.0,1039.1 1183.5,1039.1 1184.0,1039.1 1184.5,1039.1 1185.0,1039.1 1185.5,1039.1 1186.0,1039.0 1186.5,1039.0 1187.0,1039.0 1187.5,1039.0 1188.0,1039.0 1188.5,1039.0 1189.0,1039.0 1189.5,1039.0 1190.0,1039.0 1190.5,1039.0 1191.0,1039.0 1191.5,1039.0 1192.0,1039.0 1192.5,1039.0 1193.0,1039.0 1193.5,1039.0 1194.0,1039.0 1194.5,1039.0 1195.0,1038.9 1195.5,1038.9 1196.0,1038.9 1196.5,1038.9 1197.0,1038.9 1197.5,1038.9 1198.0,1038.9 1198.5,1038.9 1199.0,1038.9 1199.5,1038.9 1200.0,1038.9 1200.5,1038.9 1201.0,1038.9 1201.5,1038.9 1202.0,1038.9 1202.5,1038.9 1203.0,1038.9 1203.5,1038.8 1204.0,1038.8 1204.5,1038.8 1205.0,1038.8 1205.5,1038.8 1206.0,1038.8 1206.5,1038.8 1207.0,1038.8 1207.5,1038.8 1208.0,1038.8 1208.5,1038.8 1209.0,1038.8 1209.5,1038.8 1210.0,1038.8 1210.5,1038.8 1211.0,1038.8 1211.5,1038.7 1212.0,1038.7 1212.5,1038.7 1213.0,1038.7 1213.5,1038.7 1214.0,1038.7 1214.5,1038.7 1215.0,1038.7 1215.5,1038.7 1216.0,1038.7 1216.5,1038.7 1217.0,1038.7 1217.5,1038.7 1218.0,1038.7 1218.5,1038.7 1219.0,1038.7 1219.5,1038.6 1220.0,1038.6 1220.5,1038.6 1221.0,1038.6 1221.5,1038.6 1222.0,1038.6 1222.5,1038.6 1223.0,1038.6 1223.5,1038.6 1224.0,1038.6 1224.5,1038.6 1225.0,1038.6 1225.5,1038.6 1226.0,1038.6 1226.5,1038.6 1227.0,1038.5 1227.5,1038.5 1228.0,1038.5 1228.5,1038.5 1229.0,1038.5 1229.5,1038.5 1230.0,1038.5 1230.5,1038.5 1231.0,1038.5 1231.5,1038.5 1232.0,1038.5 1232.5,1038.5 1233.0,1038.5 1233.5,1038.5 1234.0,1038.5 1234.5,1038.4 1235.0,1038.4 1235.5,1038.4 1236.0,1038.4 1236.5,1038.4 1237.0,1038.4 1237.5,1038.4 1238.0,1038.4 1238.5,1038.4 1239.0,1038.4 1239.5,1038.4 1240.0,1038.4 1240.5,1038.4 1241.0,1038.4 1241.5,1038.3 1242.0,1038.3 1242.5,1038.3 1243.0,1038.3 1243.5,1038.3 1244.0,1038.3 1244.5,1038.3 1245.0,1038.3 1245.5,1038.3 1246.0,1038.3 1246.5,1038.3 1247.0,1038.3 1247.5,1038.3 1248.0,1038.3 1248.5,1038.3 1249.0,1038.2 1249.5,1038.2 1250.0,1038.2 1250.5,1038.2 1251.0,1038.2 1251.5,1038.2 1252.0,1038.2 1252.5,1038.2 1253.0,1038.2 1253.5,1038.2 1254.0,1038.2 1254.5,1038.2 1255.0,1038.2 1255.5,1038.1 1256.0,1038.1 1256.5,1038.1 1257.0,1038.1 1257.5,1038.1 1258.0,1038.1 1258.5,1038.1 1259.0,1038.1 1259.5,1038.1 1260.0,1038.1 1260.5,1038.1 1261.0,1038.1 1261.5,1038.1 1262.0,1038.1 1262.5,1038.0 1263.0,1038.0 1263.5,1038.0"/>
<polyline fill="none" stroke="#009000" stroke-width="4.2" stroke-linejoin="round" points="285.0,1063.1 285.5,1063.1 286.0,1063.1 286.5,1063.1 287.0,1063.1 287.5,1063.0 288.0,1063.0 288.5,1063.0 289.0,1063.0 289.5,1063.0 290.0,1063.0 290.5,1063.0 291.0,1063.0 291.5,1063.0 292.0,1062.9 292.5,1062.9 293.0,1062.9 293.5,1062.9 294.0,1062.9 294.5,1062.9 295.0,1062.9 295.5,1062.9 296.0,1062.8 296.5,1062.8 297.0,1062.8 297.5,1062.8 298.0,1062.8 298.5,1062.8 299.0,1062.8 299.5,1062.8 300.0,1062.8 300.5,1062.7 301.0,1062.7 301.5,1062.7 302.0,1062.7 302.5,1062.7 303.0,1062.7 303.5,1062.7 304.0,1062.7 304.5,1062.7 305.0,1062.6 305.5,1062.6 306.0,1062.6 306.5,1062.6 307.0,1062.6 307.5,1062.6 308.0,1062.6 308.5,1062.6 309.0,1062.5 309.5,1062.5 310.0,1062.5 310.5,1062.5 311.0,1062.5 311.5,1062.5 312.0,1062.5 312.5,1062.5 313.0,1062.5 313.5,1062.4 314.0,1062.4 314.5,1062.4 315.0,1062.4 315.5,1062.4 316.0,1062.4 316.5,1062.4 317.0,1062.4 317.5,1062.4 318.0,1062.3 318.5,1062.3 319.0,1062.3 319.5,1062.3 320.0,1062.3 320.5,1062.3 321.0,1062.3 321.5,1062.3 322.0,1062.2 322.5,1062.2 323.0,1062.2 323.5,1062.2 324.0,1062.2 324.5,1062.2 325.0,1062.2 325.5,1062.2 326.0,1062.2 326.5,1062.1 327.0,1062.1 327.5,1062.1 328.0,1062.1 328.5,1062.1 329.0,1062.1 329.5,1062.1 330.0,1062.1 330.5,1062.1 331.0,1062.0 331.5,1062.0 332.0,1062.0 332.5,1062.0 333.0,1062.0 333.5,1062.0 334.0,1062.0 334.5,1062.0 335.0,1061.9 335.5,1061.9 336.0,1061.9 336.5,1061.9 337.0,1061.9 337.5,1061.9 338.0,1061.9 338.5,1061.9 339.0,1061.9 339.5,1061.8 340.0,1061.8 340.5,1061.8 341.0,1061.8 341.5,1061.8 342.0,1061.8 342.5,1061.8 343.0,1061.8 343.5,1061.8 344.0,1061.7 344.5,1061.7 345.0,1061.7 345.5,1061.7 346.0,1061.7 346.5,1061.7 347.0,1061.7 347.5,1061.7 348.0,1061.7 348.5,1061.6 349.0,1061.6 349.5,1061.6 350.0,1061.6 350.5,1061.6 351.0,1061.6 351.5,1061.6 352.0,1061.6 352.5,1061.5 353.0,1061.5 353.5,1061.5 354.0,1061.5 354.5,1061.5 355.0,1061.5 355.5,1061.5 356.0,1061.5 356.5,1061.5 357.0,1061.4 357.5,1061.4 358.0,1061.4 358.5,1061.4 359.0,1061.4 359.5,1061.4 360.0,1061.4 360.5,1061.4 361.0,1061.4 361.5,1061.3 362.0,1061.3 362.5,1061.3 363.0,1061.3 363.5,1061.3 364.0,1061.3 364.5,1061.3 365.0,1061.3 365.5,1061.2 366.0,1061.2 366.5,1061.2 367.0,1061.2 367.5,1061.2 368.0,1061.2 368.5,1061.2 369.0,1061.2 369.5,1061.2 370.0,1061.1 370.5,1061.1 371.0,1061.1 371.5,1061.1 372.0,1061.1 372.5,1061.1 373.0,1061.1 373.5,1061.1 374.0,1061.1 374.5,1061.0 375.0,1061.0 375.5,1061.0 376.0,1061.0 376.5,1061.0 377.0,1061.0 377.5,1061.0 378.0,1061.0 378.5,1060.9 379.0,1060.9 379.5,1060.9 380.0,1060.9 380.5,1060.9 381.0,1060.9 381.5,1060.9 382.0,1060.9 382.5,1060.9 383.0,1060.8 383.5,1060.8 384.0,1060.8 384.5,1060.8 385.0,1060.8 385.5,1060.8 386.0,1060.8 386.5,1060.8 387.0,1060.8 387.5,1060.7 388.0,1060.7 388.5,1060.7 389.0,1060.7 389.5,1060.7 390.0,1060.7 390.5,1060.7 391.0,1060.7 391.5,1060.7 392.0,1060.6 392.5,1060.6 393.0,1060.6 393.5,1060.6 394.0,1060.6 394.5,1060.6 395.0,1060.6 395.5,1060.6 396.0,1060.5 396.5,1060.5 397.0,1060.5 397.5,1060.5 398.0,1060.5 398.5,1060.5 399.0,1060.5 399.5,1060.5 400.0,1060.5 400.5,1060.4 401.0,1060.4 401.5,1060.4 402.0,1060.4 402.5,1060.4 403.0,1060.4 403.5,1060.4 404.0,1060.4 404.5,1060.4 405.0,1060.3 405.5,1060.3 406.0,1060.3 406.5,1060.3 407.0,1060.3 407.5,1060.3 408.0,1060.3 408.5,1060.3 409.0,1060.2 409.5,1060.2 410.0,1060.2 410.5,1060.2 411.0,1060.2 411.5,1060.2 412.0,1060.2 412.5,1060.2 413.0,1060.2 413.5,1060.1 414.0,1060.1 414.5,1060.1 415.0,1060.1 415.5,1060.1 416.0,1060.1 416.5,1060.1 417.0,1060.1 417.5,1060.1 418.0,1060.0 418.5,1060.0 419.0,1060.0 419.5,1060.0 420.0,1060.0 420.5,1060.0 421.0,1060.0 421.5,1060.0 422.0,1059.9 422.5,1059.9 423.0,1059.9 423.5,1059.9 424.0,1059.9 424.5,1059.9 425.0,1059.9 425.5,1059.9 426.0,1059.9 426.5,1059.8 427.0,1059.8 427.5,1059.8 428.0,1059.8 428.5,1059.8 429.0,1059.8 429.5,1059.8 430.0,1059.8 430.5,1059.8 431.0,1059.7 431.5,1059.7 432.0,1059.7 432.5,1059.7 433.0,1059.7 433.5,1059.7 434.0,1059.7 434.5,1059.7 435.0,1059.6 435.5,1059.6 436.0,1059.6 436.5,1059.6 437.0,1059.6 437.5,1059.6 438.0,1059.6 438.5,1059.6 439.0,1059.6 439.5,1059.5 440.0,1059.5 440.5,1059.5 441.0,1059.5 441.5,1059.5 442.0,1059.5 442.5,1059.5 443.0,1059.5 443.5,1059.5 444.0,1059.4 444.5,1059.4 445.0,1059.4 445.5,1059.4 446.0,1059.4 446.5,1059.4 447.0,1059.4 447.5,1059.4 448.0,1059.4 448.5,1059.3 449.0,1059.3 449.5,1059.3 450.0,1059.3 450.5,1059.3 451.0,1059.3 451.5,1059.3 452.0,1059.3 452.5,1059.2 453.0,1059.2 453.5,1059.2 454.0,1059.2 454.5,1059.2 455.0,1059.2 455.5,1059.2 456.0,1059.2 456.5,1059.2 457.0,1059.1 457.5,1059.1 458.0,1059.1 458.5,1059.1 459.0,1059.1 459.5,1059.1 460.0,1059.1 460.5,1059.1 461.0,1059.1 461.5,1059.0 462.0,1059.0 462.5,1059.0 463.0,1059.0 463.5,1059.0 464.0,1059.0 464.5,1059.0 465.0,1059.0 465.5,1058.9 466.0,1058.9 466.5,1058.9 467.0,1058.9 467.5,1058.9 468.0,1058.9 468.5,1058.9 469.0,1058.9 469.5,1058.9 470.0,1058.8 470.5,1058.8 471.0,1058.8 471.5,1058.8 472.0,1058.8 472.5,1058.8 473.0,1058.8 473.5,1058.8 474.0,1058.8 474.5,1058.7 475.0,1058.7 475.5,1058.7 476.0,1058.7 476.5,1058.7 477.0,1058.7 477.5,1058.7 478.0,1058.7 478.5,1058.6 479.0,1058.6 479.5,1058.6 480.0,1058.6 480.5,1058.6 481.0,1058.6 481.5,1058.6 482.0,1058.6 482.5,1058.6 483.0,1058.5 483.5,1058.5 484.0,1058.5 484.5,1058.5 485.0,1058.5 485.5,1058.5 486.0,1058.5 486.5,1058.5 487.0,1058.5 487.5,1058.4 488.0,1058.4 488.5,1058.4 489.0,1058.4 489.5,1058.4 490.0,1058.4 490.5,1058.4 491.0,1058.4 491.5,1058.4 492.0,1058.3 492.5,1058.3 493.0,1058.3 493.5,1058.3 494.0,1058.3 494.5,1058.3 495.0,1058.3 495.5,1058.3 496.0,1058.2 496.5,1058.2 497.0,1058.2 497.5,1058.2 498.0,1058.2 498.5,1058.2 499.0,1058.2 499.5,1058.2 500.0,1058.2 500.5,1058.1 501.0,1058.1 501.5,1058.1 502.0,1058.1 502.5,1058.1 503.0,1058.1 503.5,1058.1 504.0,1058.1 504.5,1058.1 505.0,1058.0 505.5,1058.0 506.0,1058.0 506.5,1058.0 507.0,1058.0 507.5,1058.0 508.0,1058.0 508.5,1058.0 509.0,1057.9 509.5,1057.9 510.0,1057.9 510.5,1057.9 511.0,1057.9 511.5,1057.9 512.0,1057.9 512.5,1057.9 513.0,1057.9 513.5,1057.8 514.0,1057.8 514.5,1057.8 515.0,1057.8 515.5,1057.8 516.0,1057.8 516.5,1057.8 517.0,1057.8 517.5,1057.8 518.0,1057.7 518.5,1057.7 519.0,1057.7 519.5,1057.7 520.0,1057.7 520.5,1057.7 521.0,1057.7 521.5,1057.7 522.0,1057.6 522.5,1057.6 523.0,1057.6 523.5,1057.6 524.0,1057.6 524.5,1057.6 525.0,1057.6 525.5,1057.6 526.0,1057.6 526.5,1057.5 527.0,1057.5 527.5,1057.5 528.0,1057.5 528.5,1057.5 529.0,1057.5 529.5,1057.5 530.0,1057.5 530.5,1057.5 531.0,1057.4 531.5,1057.4 532.0,1057.4 532.5,1057.4 533.0,1057.4 533.5,1057.4 534.0,1057.4 534.5,1057.4 535.0,1057.3 535.5,1057.3 536.0,1057.3 536.5,1057.3 537.0,1057.3 537.5,1057.3 538.0,1057.3 538.5,1057.3 539.0,1057.3 539.5,1057.2 540.0,1057.2 540.5,1057.2 541.0,1057.2 541.5,1057.2 542.0,1057.2 542.5,1057.2 543.0,1057.2 543.5,1057.2 544.0,1057.1 544.5,1057.1 545.0,1057.1 545.5,1057.1 546.0,1057.1 546.5,1057.1 547.0,1057.1 547.5,1057.1 548.0,1057.1 548.5,1057.0 549.0,1057.0 549.5,1057.0 550.0,1057.0 550.5,1057.0 551.0,1057.0 551.5,1057.0 552.0,1057.0 552.5,1056.9 553.0,1056.9 553.5,1056.9 554.0,1056.9 554.5,1056.9 555.0,1056.9 555.5,1056.9 556.0,1056.9 556.5,1056.9 557.0,1056.8 557.5,1056.8 558.0,1056.8 558.5,1056.8 559.0,1056.8 559.5,1056.8 560.0,1056.8 560.5,1056.8 561.0,1056.8 561.5,1056.7 562.0,1056.7 562.5,1056.7 563.0,1056.7 563.5,1056.7 564.0,1056.7 564.5,1056.7 565.0,1056.7 565.5,1056.6 566.0,1056.6 566.5,1056.6 567.0,1056.6 567.5,1056.6 568.0,1056.6 568.5,1056.6 569.0,1056.6 569.5,1056.6 570.0,1056.5 570.5,1056.5 571.0,1056.5 571.5,1056.5 572.0,1056.5 572.5,1056.5 573.0,1056.5 573.5,1056.5 574.0,1056.5 574.5,1056.4 575.0,1056.4 575.5,1056.4 576.0,1056.4 576.5,1056.4 577.0,1056.4 577.5,1056.4 578.0,1056.4 578.5,1056.3 579.0,1056.3 579.5,1056.3 580.0,1056.3 580.5,1056.3 581.0,1056.3 581.5,1056.3 582.0,1056.3 582.5,1056.3 583.0,1056.2 583.5,1056.2 584.0,1056.2 584.5,1056.2 585.0,1056.2 585.5,1056.2 586.0,1056.2 586.5,1056.2 587.0,1056.2 587.5,1056.1 588.0,1056.1 588.5,1056.1 589.0,1056.1 589.5,1056.1 590.0,1056.1 590.5,1056.1 591.0,1056.1 591.5,1056.1 592.0,1056.0 592.5,1056.0 593.0,1056.0 593.5,1056.0 594.0,1056.0 594.5,1056.0 595.0,1056.0 595.5,1056.0 596.0,1055.9 596.5,1055.9 597.0,1055.9 597.5,1055.9 598.0,1055.9 598.5,1055.9 599.0,1055.9 599.5,1055.9 600.0,1055.9 600.5,1055.8 601.0,1055.8 601.5,1055.8 602.0,1055.8 602.5,1055.8 603.0,1055.8 603.5,1055.8 604.0,1055.8 604.5,1055.8 605.0,1055.7 605.5,1055.7 606.0,1055.7 606.5,1055.7 607.0,1055.7 607.5,1055.7 608.0,1055.7 608.5,1055.7 609.0,1055.6 609.5,1055.6 610.0,1055.6 610.5,1055.6 611.0,1055.6 611.5,1055.6 612.0,1055.6 612.5,1055.6 613.0,1055.6 613.5,1055.5 614.0,1055.5 614.5,1055.5 615.0,1055.5 615.5,1055.5 616.0,1055.5 616.5,1055.5 617.0,1055.5 617.5,1055.5 618.0,1055.4 618.5,1055.4 619.0,1055.4 619.5,1055.4 620.0,1055.4 620.5,1055.4 621.0,1055.4 621.5,1055.4 622.0,1055.3 622.5,1055.3 623.0,1055.3 623.5,1055.3 624.0,1055.3 624.5,1055.3 625.0,1055.3 625.5,1055.3 626.0,1055.3 626.5,1055.2 627.0,1055.2 627.5,1055.2 628.0,1055.2 628.5,1055.2 629.0,1055.2 629.5,1055.2 630.0,1055.2 630.5,1055.2 631.0,1055.1 631.5,1055.1 632.0,1055.1 632.5,1055.1 633.0,1055.1 633.5,1055.1 634.0,1055.1 634.5,1055.1 635.0,1055.0 635.5,1055.0 636.0,1055.0 636.5,1055.0 637.0,1055.0 637.5,1055.0 638.0,1055.0 638.5,1055.0 639.0,1055.0 639.5,1054.9 640.0,1054.9 640.5,1054.9 641.0,1054.9 641.5,1054.9 642.0,1054.9 642.5,1054.9 643.0,1054.9 643.5,1054.9 644.0,1054.8 644.5,1054.8 645.0,1054.8 645.5,1054.8 646.0,1054.8 646.5,1054.8 647.0,1054.8 647.5,1054.8 648.0,1054.7 648.5,1054.7 649.0,1054.7 649.5,1054.7 650.0,1054.7 650.5,1054.7 651.0,1054.7 651.5,1054.7 652.0,1054.7 652.5,1054.6 653.0,1054.6 653.5,1054.6 654.0,1054.6 654.5,1054.6 655.0,1054.6 655.5,1054.6 656.0,1054.6 656.5,1054.5 657.0,1054.5 657.5,1054.5 658.0,1054.5 658.5,1054.5 659.0,1054.5 659.5,1054.5 660.0,1054.5 660.5,1054.5 661.0,1054.4 661.5,1054.4 662.0,1054.4 662.5,1054.4 663.0,1054.4 663.5,1054.4 664.0,1054.4 664.5,1054.4 665.0,1054.3 665.5,1054.3 666.0,1054.3 666.5,1054.3 667.0,1054.3 667.5,1054.3 668.0,1054.3 668.5,1054.3 669.0,1054.2 669.5,1054.2 670.0,1054.2 670.5,1054.2 671.0,1054.2 671.5,1054.2 672.0,1054.2 672.5,1054.2 673.0,1054.1 673.5,1054.1 674.0,1054.1 674.5,1054.1 675.0,1054.1 675.5,1054.1 676.0,1054.1 676.5,1054.1 677.0,1054.0 677.5,1054.0 678.0,1054.0 678.5,1054.0 679.0,1054.0 679.5,1054.0 680.0,1054.0 680.5,1054.0 681.0,1053.9 681.5,1053.9 682.0,1053.9 682.5,1053.9 683.0,1053.9 683.5,1053.9 684.0,1053.9 684.5,1053.9 685.0,1053.8 685.5,1053.8 686.0,1053.8 686.5,1053.8 687.0,1053.8 687.5,1053.8 688.0,1053.8 688.5,1053.8 689.0,1053.7 689.5,1053.7 690.0,1053.7 690.5,1053.7 691.0,1053.7 691.5,1053.7 692.0,1053.7 692.5,1053.6 693.0,1053.6 693.5,1053.6 694.0,1053.6 694.5,1053.6 695.0,1053.6 695.5,1053.6 696.0,1053.5 696.5,1053.5 697.0,1053.5 697.5,1053.5 698.0,1053.5 698.5,1053.5 699.0,1053.5 699.5,1053.4 700.0,1053.4 700.5,1053.4 701.0,1053.4 701.5,1053.4 702.0,1053.4 702.5,1053.4 703.0,1053.3 703.5,1053.3 704.0,1053.3 704.5,1053.3 705.0,1053.3 705.5,1053.3 706.0,1053.2 706.5,1053.2 707.0,1053.2 707.5,1053.2 708.0,1053.2 708.5,1053.2 709.0,1053.1 709.5,1053.1 710.0,1053.1 710.5,1053.1 711.0,1053.1 711.5,1053.1 712.0,1053.0 712.5,1053.0 713.0,1053.0 713.5,1053.0 714.0,1053.0 714.5,1053.0 715.0,1052.9 715.5,1052.9 716.0,1052.9 716.5,1052.9 717.0,1052.9 717.5,1052.8 718.0,1052.8 718.5,1052.8 719.0,1052.8 719.5,1052.8 720.0,1052.8 720.5,1052.7 721.0,1052.7 721.5,1052.7 722.0,1052.7 722.5,1052.6 723.0,1052.6 723.5,1052.6 724.0,1052.6 724.5,1052.6 725.0,1052.5 725.5,1052.5 726.0,1052.5 726.5,1052.5 727.0,1052.5 727.5,1052.4 728.0,1052.4 728.5,1052.4 729.0,1052.4 729.5,1052.3 730.0,1052.3 730.5,1052.3 731.0,1052.3 731.5,1052.2 732.0,1052.2 732.5,1052.2 733.0,1052.2 733.5,1052.1 734.0,1052.1 734.5,1052.1 735.0,1052.1 735.5,1052.0 736.0,1052.0 736.5,1052.0 737.0,1051.9 737.5,1051.9 738.0,1051.9 738.5,1051.9 739.0,1051.8 739.5,1051.8 740.0,1051.8 740.5,1051.7 741.0,1051.7 741.5,1051.7 742.0,1051.6 742.5,1051.6 743.0,1051.6 743.5,1051.5 744.0,1051.5 744.5,1051.5 745.0,1051.4 745.5,1051.4 746.0,1051.4 746.5,1051.3 747.0,1051.3 747.5,1051.3 748.0,1051.2 748.5,1051.2 749.0,1051.1 749.5,1051.1 750.0,1051.1 750.5,1051.0 751.0,1051.0 751.5,1050.9 752.0,1050.9 752.5,1050.9 753.0,1050.8 753.5,1050.8 754.0,1050.7 754.5,1050.7 755.0,1050.6 755.5,1050.6 756.0,1050.6 756.5,1050.5 757.0,1050.5 757.5,1050.4 758.0,1050.4 758.5,1050.3 759.0,1050.3 759.5,1050.2 760.0,1050.2 760.5,1050.1 761.0,1050.1 761.5,1050.0 762.0,1050.0 762.5,1049.9 763.0,1049.8 763.5,1049.8 764.0,1049.7 764.5,1049.7 765.0,1049.6 765.5,1049.6 766.0,1049.5 766.5,1049.4 767.0,1049.4 767.5,1049.3 768.0,1049.2 768.5,1049.2 769.0,1049.1 769.5,1049.1 770.0,1049.0 770.5,1048.9 771.0,1048.9 771.5,1048.8 772.0,1048.7 772.5,1048.6 773.0,1048.6 773.5,1048.5 774.0,1048.4 774.5,1048.3 775.0,1048.3 775.5,1048.2 776.0,1048.1 776.5,1048.0 777.0,1048.0 777.5,1047.9 778.0,1047.8 778.5,1047.7 779.0,1047.6 779.5,1047.5 780.0,1047.5 780.5,1047.4 781.0,1047.3 781.5,1047.2 782.0,1047.1 782.5,1047.0 783.0,1046.9 783.5,1046.8 784.0,1046.7 784.5,1046.6 785.0,1046.5 785.5,1046.4 786.0,1046.3 786.5,1046.2 787.0,1046.1 787.5,1046.0 788.0,1045.9 788.5,1045.8 789.0,1045.7 789.5,1045.6 790.0,1045.5 790.5,1045.4 791.0,1045.3 791.5,1045.2 792.0,1045.1 792.5,1044.9 793.0,1044.8 793.5,1044.7 794.0,1044.6 794.5,1044.5 795.0,1044.3 795.5,1044.2 796.0,1044.1 796.5,1044.0 797.0,1043.8 797.5,1043.7 798.0,1043.6 798.5,1043.4 799.0,1043.3 799.5,1043.2 800.0,1043.0 800.5,1042.9 801.0,1042.8 801.5,1042.6 802.0,1042.5 802.5,1042.3 803.0,1042.2 803.5,1042.0 804.0,1041.9 804.5,1041.7 805.0,1041.6 805.5,1041.4 806.0,1041.3 806.5,1041.1 807.0,1041.0 807.5,1040.8 808.0,1040.6 808.5,1040.5 809.0,1040.3 809.5,1040.1 810.0,1040.0 810.5,1039.8 811.0,1039.6 811.5,1039.5 812.0,1039.3 812.5,1039.1 813.0,1038.9 813.5,1038.7 814.0,1038.6 814.5,1038.4 815.0,1038.2 815.5,1038.0 816.0,1037.8 816.5,1037.6 817.0,1037.4 817.5,1037.2 818.0,1037.0 818.5,1036.9 819.0,1036.7 819.5,1036.5 820.0,1036.3 820.5,1036.0 821.0,1035.8 821.5,1035.6 822.0,1035.4 822.5,1035.2 823.0,1035.0 823.5,1034.8 824.0,1034.6 824.5,1034.4 825.0,1034.1 825.5,1033.9 826.0,1033.7 826.5,1033.5 827.0,1033.2 827.5,1033.0 828.0,1032.8 828.5,1032.6 829.0,1032.3 829.5,1032.1 830.0,1031.9 830.5,1031.6 831.0,1031.4 831.5,1031.1 832.0,1030.9 832.5,1030.7 833.0,1030.4 833.5,1030.2 834.0,1029.9 834.5,1029.7 835.0,1029.4 835.5,1029.2 836.0,1028.9 836.5,1028.6 837.0,1028.4 837.5,1028.1 838.0,1027.9 838.5,1027.6 839.0,1027.3 839.5,1027.1 840.0,1026.8 840.5,1026.5 841.0,1026.3 841.5,1026.0 842.0,1025.7 842.5,1025.4 843.0,1025.2 843.5,1024.9 844.0,1024.6 844.5,1024.3 845.0,1024.0 845.5,1023.8 846.0,1023.5 846.5,1023.2 847.0,1022.9 847.5,1022.6 848.0,1022.3 848.5,1022.0 849.0,1021.7 849.5,1021.5 850.0,1021.2 850.5,1020.9 851.0,1020.6 851.5,1020.3 852.0,1020.0 852.5,1019.7 853.0,1019.4 853.5,1019.1 854.0,1018.8 854.5,1018.5 855.0,1018.2 855.5,1017.8 856.0,1017.5 856.5,1017.2 857.0,1016.9 857.5,1016.6 858.0,1016.3 858.5,1016.0 859.0,1015.7 859.5,1015.4 860.0,1015.0 860.5,1014.7 861.0,1014.4 861.5,1014.1 862.0,1013.8 862.5,1013.5 863.0,1013.2 863.5,1012.8 864.0,1012.5 864.5,1012.2 865.0,1011.9 865.5,1011.6 866.0,1011.2 866.5,1010.9 867.0,1010.6 867.5,1010.3 868.0,1010.0 868.5,1009.6 869.0,1009.3 869.5,1009.0 870.0,1008.7 870.5,1008.3 871.0,1008.0 871.5,1007.7 872.0,1007.4 872.5,1007.1 873.0,1006.7 873.5,1006.4 874.0,1006.1 874.5,1005.8 875.0,1005.5 875.5,1005.1 876.0,1004.8 876.5,1004.5 877.0,1004.2 877.5,1003.9 878.0,1003.5 878.5,1003.2 879.0,1002.9 879.5,1002.6 880.0,1002.3 880.5,1001.9 881.0,1001.6 881.5,1001.3 882.0,1001.0 882.5,1000.7 883.0,1000.4 883.5,1000.1 884.0,999.8 884.5,999.5 885.0,999.1 885.5,998.8 886.0,998.5 886.5,998.2 887.0,997.9 887.5,997.6 888.0,997.3 888.5,997.0 889.0,996.7 889.5,996.4 890.0,996.1 890.5,995.8 891.0,995.5 891.5,995.2 892.0,995.0 892.5,994.7 893.0,994.4 893.5,994.1 894.0,993.8 894.5,993.5 895.0,993.3 895.5,993.0 896.0,992.7 896.5,992.4 897.0,992.2 897.5,991.9 898.0,991.6 898.5,991.3 899.0,991.1 899.5,990.8 900.0,990.6 900.5,990.3 901.0,990.1 901.5,989.8 902.0,989.5 902.5,989.3 903.0,989.1 903.5,988.8 904.0,988.6 904.5,988.3 905.0,988.1 905.5,987.9 906.0,987.6 906.5,987.4 907.0,987.2 907.5,987.0 908.0,986.7 908.5,986.5 909.0,986.3 909.5,986.1 910.0,985.9 910.5,985.7 911.0,985.5 911.5,985.3 912.0,985.1 912.5,984.9 913.0,984.7 913.5,984.5 914.0,984.3 914.5,984.1 915.0,984.0 915.5,983.8 916.0,983.6 916.5,983.4 917.0,983.3 917.5,983.1 918.0,982.9 918.5,982.8 919.0,982.6 919.5,982.5 920.0,982.3 920.5,982.2 921.0,982.1 921.5,981.9 922.0,981.8 922.5,981.7 923.0,981.5 923.5,981.4 924.0,981.3 924.5,981.2 925.0,981.1 925.5,981.0 926.0,980.9 926.5,980.8 927.0,980.7 927.5,980.6 928.0,980.5 928.5,980.4 929.0,980.3 929.5,980.2 930.0,980.2 930.5,980.1 931.0,980.0 931.5,980.0 932.0,979.9 932.5,979.9 933.0,979.8 933.5,979.8 934.0,979.7 934.5,979.7 935.0,979.6 935.5,979.6 936.0,979.6 936.5,979.6 937.0,979.5 937.5,979.5 938.0,979.5 938.5,979.5 939.0,979.5 939.5,979.5 940.0,979.5 940.5,979.5 941.0,979.5 941.5,979.5 942.0,979.5 942.5,979.6 943.0,979.6 943.5,979.6 944.0,979.6 944.5,979.7 945.0,979.7 945.5,979.8 946.0,979.8 946.5,979.9 947.0,979.9 947.5,980.0 948.0,980.0 948.5,980.1 949.0,980.2 949.5,980.2 950.0,980.3 950.5,980.4 951.0,980.5 951.5,980.6 952.0,980.7 952.5,980.8 953.0,980.9 953.5,981.0 954.0,981.1 954.5,981.2 955.0,981.3 955.5,981.4 956.0,981.5 956.5,981.6 957.0,981.8 957.5,981.9 958.0,982.0 958.5,982.2 959.0,982.3 959.5,982.4 960.0,982.6 960.5,982.7 961.0,982.9 961.5,983.1 962.0,983.2 962.5,983.4 963.0,983.5 963.5,983.7 964.0,983.9 964.5,984.1 965.0,984.2 965.5,984.4 966.0,984.6 966.5,984.8 967.0,985.0 967.5,985.2 968.0,985.4 968.5,985.5 969.0,985.7 969.5,986.0 970.0,986.2 970.5,986.4 971.0,986.6 971.5,986.8 972.0,987.0 972.5,987.2 973.0,987.4 973.5,987.7 974.0,987.9 974.5,988.1 975.0,988.3 975.5,988.6 976.0,988.8 976.5,989.1 977.0,989.3 977.5,989.5 978.0,989.8 978.5,990.0 979.0,990.3 979.5,990.5 980.0,990.8 980.5,991.0 981.0,991.3 981.5,991.5 982.0,991.8 982.5,992.1 983.0,992.3 983.5,992.6 984.0,992.8 984.5,993.1 985.0,993.4 985.5,993.6 986.0,993.9 986.5,994.2 987.0,994.5 987.5,994.7 988.0,995.0 988.5,995.3 989.0,995.6 989.5,995.9 990.0,996.1 990.5,996.4 991.0,996.7 991.5,997.0 992.0,997.3 992.5,997.6 993.0,997.9 993.5,998.1 994.0,998.4 994.5,998.7 995.0,999.0 995.5,999.3 996.0,999.6 996.5,999.9 997.0,1000.2 997.5,1000.5 998.0,1000.8 998.5,1001.1 999.0,1001.4 999.5,1001.7 1000.0,1002.0 1000.5,1002.3 1001.0,1002.6 1001.5,1002.9 1002.0,1003.2 1002.5,1003.4 1003.0,1003.7 1003.5,1004.0 1004.0,1004.3 1004.5,1004.6 1005.0,1004.9 1005.5,1005.2 1006.0,1005.5 1006.5,1005.8 1007.0,1006.1 1007.5,1006.4 1008.0,1006.7 1008.5,1007.0 1009.0,1007.3 1009.5,1007.6 1010.0,1007.9 1010.5,1008.2 1011.0,1008.5 1011.5,1008.8 1012.0,1009.1 1012.5,1009.4 1013.0,1009.7 1013.5,1010.0 1014.0,1010.3 1014.5,1010.6 1015.0,1010.9 1015.5,1011.2 1016.0,1011.5 1016.5,1011.8 1017.0,1012.0 1017.5,1012.3 1018.0,1012.6 1018.5,1012.9 1019.0,1013.2 1019.5,1013.5 1020.0,1013.8 1020.5,1014.0 1021.0,1014.3 1021.5,1014.6 1022.0,1014.9 1022.5,1015.2 1023.0,1015.5 1023.5,1015.7 1024.0,1016.0 1024.5,1016.3 1025.0,1016.6 1025.5,1016.8 1026.0,1017.1 1026.5,1017.4 1027.0,1017.7 1027.5,1017.9 1028.0,1018.2 1028.5,1018.5 1029.0,1018.7 1029.5,1019.0 1030.0,1019.2 1030.5,1019.5 1031.0,1019.8 1031.5,1020.0 1032.0,1020.3 1032.5,1020.5 1033.0,1020.8 1033.5,1021.1 1034.0,1021.3 1034.5,1021.6 1035.0,1021.8 1035.5,1022.1 1036.0,1022.3 1036.5,1022.5 1037.0,1022.8 1037.5,1023.0 1038.0,1023.3 1038.5,1023.5 1039.0,1023.7 1039.5,1024.0 1040.0,1024.2 1040.5,1024.4 1041.0,1024.7 1041.5,1024.9 1042.0,1025.1 1042.5,1025.4 1043.0,1025.6 1043.5,1025.8 1044.0,1026.0 1044.5,1026.2 1045.0,1026.5 1045.5,1026.7 1046.0,1026.9 1046.5,1027.1 1047.0,1027.3 1047.5,1027.5 1048.0,1027.7 1048.5,1027.9 1049.0,1028.1 1049.5,1028.3 1050.0,1028.5 1050.5,1028.7 1051.0,1028.9 1051.5,1029.1 1052.0,1029.3 1052.5,1029.5 1053.0,1029.7 1053.5,1029.9 1054.0,1030.1 1054.5,1030.3 1055.0,1030.5 1055.5,1030.6 1056.0,1030.8 1056.5,1031.0 1057.0,1031.2 1057.5,1031.4 1058.0,1031.5 1058.5,1031.7 1059.0,1031.9 1059.5,1032.0 1060.0,1032.2 1060.5,1032.4 1061.0,1032.5 1061.5,1032.7 1062.0,1032.9 1062.5,1033.0 1063.0,1033.2 1063.5,1033.3 1064.0,1033.5 1064.5,1033.6 1065.0,1033.8 1065.5,1033.9 1066.0,1034.1 1066.5,1034.2 1067.0,1034.4 1067.5,1034.5 1068.0,1034.7 1068.5,1034.8 1069.0,1034.9 1069.5,1035.1 1070.0,1035.2 1070.5,1035.3 1071.0,1035.5 1071.5,1035.6 1072.0,1035.7 1072.5,1035.8 1073.0,1036.0 1073.5,1036.1 1074.0,1036.2 1074.5,1036.3 1075.0,1036.5 1075.5,1036.6 1076.0,1036.7 1076.5,1036.8 1077.0,1036.9 1077.5,1037.0 1078.0,1037.1 1078.5,1037.2 1079.0,1037.3 1079.5,1037.5 1080.0,1037.6 1080.5,1037.7 1081.0,1037.8 1081.5,1037.9 1082.0,1038.0 1082.5,1038.1 1083.0,1038.2 1083.5,1038.2 1084.0,1038.3 1084.5,1038.4 1085.0,1038.5 1085.5,1038.6 1086.0,1038.7 1086.5,1038.8 1087.0,1038.9 1087.5,1039.0 1088.0,1039.0 1088.5,1039.1 1089.0,1039.2 1089.5,1039.3 1090.0,1039.4 1090.5,1039.4 1091.0,1039.5 1091.5,1039.6 1092.0,1039.7 1092.5,1039.7 1093.0,1039.8 1093.5,1039.9 1094.0,1039.9 1094.5,1040.0 1095.0,1040.1 1095.5,1040.1 1096.0,1040.2 1096.5,1040.3 1097.0,1040.3 1097.5,1040.4 1098.0,1040.4 1098.5,1040.5 1099.0,1040.6 1099.5,1040.6 1100.0,1040.7 1100.5,1040.7 1101.0,1040.8 1101.5,1040.8 1102.0,1040.9 1102.5,1040.9 1103.0,1041.0 1103.5,1041.0 1104.0,1041.1 1104.5,1041.1 1105.0,1041.2 1105.5,1041.2 1106.0,1041.3 1106.5,1041.3 1107.0,1041.3 1107.5,1041.4 1108.0,1041.4 1108.5,1041.5 1109.0,1041.5 1109.5,1041.5 1110.0,1041.6 1110.5,1041.6 1111.0,1041.7 1111.5,1041.7 1112.0,1041.7 1112.5,1041.8 1113.0,1041.8 1113.5,1041.8 1114.0,1041.9 1114.5,1041.9 1115.0,1041.9 1115.5,1041.9 1116.0,1042.0 1116.5,1042.0 1117.0,1042.0 1117.5,1042.1 1118.0,1042.1 1118.5,1042.1 1119.0,1042.1 1119.5,1042.2 1120.0,1042.2 1120.5,1042.2 1121.0,1042.2 1121.5,1042.2 1122.0,1042.3 1122.5,1042.3 1123.0,1042.3 1123.5,1042.3 1124.0,1042.3 1124.5,1042.4 1125.0,1042.4 1125.5,1042.4 1126.0,1042.4 1126.5,1042.4 1127.0,1042.5 1127.5,1042.5 1128.0,1042.5 1128.5,1042.5 1129.0,1042.5 1129.5,1042.5 1130.0,1042.5 1130.5,1042.5 1131.0,1042.6 1131.5,1042.6 1132.0,1042.6 1132.5,1042.6 1133.0,1042.6 1133.5,1042.6 1134.0,1042.6 1134.5,1042.6 1135.0,1042.6 1135.5,1042.6 1136.0,1042.7 1136.5,1042.7 1137.0,1042.7 1137.5,1042.7 1138.0,1042.7 1138.5,1042.7 1139.0,1042.7 1139.5,1042.7 1140.0,1042.7 1140.5,1042.7 1141.0,1042.7 1141.5,1042.7 1142.0,1042.7 1142.5,1042.7 1143.0,1042.7 1143.5,1042.7 1144.0,1042.7 1144.5,1042.7 1145.0,1042.7 1145.5,1042.7 1146.0,1042.7 1146.5,1042.7 1147.0,1042.7 1147.5,1042.7 1148.0,1042.7 1148.5,1042.7 1149.0,1042.7 1149.5,1042.7 1150.0,1042.7 1150.5,1042.7 1151.0,1042.7 1151.5,1042.7 1152.0,1042.7 1152.5,1042.7 1153.0,1042.7 1153.5,1042.7 1154.0,1042.7 1154.5,1042.7 1155.0,1042.7 1155.5,1042.7 1156.0,1042.7 1156.5,1042.7 1157.0,1042.7 1157.5,1042.7 1158.0,1042.7 1158.5,1042.7 1159.0,1042.7 1159.5,1042.7 1160.0,1042.7 1160.5,1042.7 1161.0,1042.7 1161.5,1042.7 1162.0,1042.7 1162.5,1042.7 1163.0,1042.7 1163.5,1042.7 1164.0,1042.7 1164.5,1042.6 1165.0,1042.6 1165.5,1042.6 1166.0,1042.6 1166.5,1042.6 1167.0,1042.6 1167.5,1042.6 1168.0,1042.6 1168.5,1042.6 1169.0,1042.6 1169.5,1042.6 1170.0,1042.6 1170.5,1042.6 1171.0,1042.6 1171.5,1042.6 1172.0,1042.5 1172.5,1042.5 1173.0,1042.5 1173.5,1042.5 1174.0,1042.5 1174.5,1042.5 1175.0,1042.5 1175.5,1042.5 1176.0,1042.5 1176.5,1042.5 1177.0,1042.5 1177.5,1042.5 1178.0,1042.4 1178.5,1042.4 1179.0,1042.4 1179.5,1042.4 1180.0,1042.4 1180.5,1042.4 1181.0,1042.4 1181.5,1042.4 1182.0,1042.4 1182.5,1042.4 1183.0,1042.4 1183.5,1042.4 1184.0,1042.3 1184.5,1042.3 1185.0,1042.3 1185.5,1042.3 1186.0,1042.3 1186.5,1042.3 1187.0,1042.3 1187.5,1042.3 1188.0,1042.3 1188.5,1042.3 1189.0,1042.2 1189.5,1042.2 1190.0,1042.2 1190.5,1042.2 1191.0,1042.2 1191.5,1042.2 1192.0,1042.2 1192.5,1042.2 1193.0,1042.2 1193.5,1042.2 1194.0,1042.1 1194.5,1042.1 1195.0,1042.1 1195.5,1042.1 1196.0,1042.1 1196.5,1042.1 1197.0,1042.1 1197.5,1042.1 1198.0,1042.1 1198.5,1042.1 1199.0,1042.0 1199.5,1042.0 1200.0,1042.0 1200.5,1042.0 1201.0,1042.0 1201.5,1042.0 1202.0,1042.0 1202.5,1042.0 1203.0,1042.0 1203.5,1041.9 1204.0,1041.9 1204.5,1041.9 1205.0,1041.9 1205.5,1041.9 1206.0,1041.9 1206.5,1041.9 1207.0,1041.9 1207.5,1041.9 1208.0,1041.9 1208.5,1041.8 1209.0,1041.8 1209.5,1041.8 1210.0,1041.8 1210.5,1041.8 1211.0,1041.8 1211.5,1041.8 1212.0,1041.8 1212.5,1041.8 1213.0,1041.7 1213.5,1041.7 1214.0,1041.7 1214.5,1041.7 1215.0,1041.7 1215.5,1041.7 1216.0,1041.7 1216.5,1041.7 1217.0,1041.7 1217.5,1041.6 1218.0,1041.6 1218.5,1041.6 1219.0,1041.6 1219.5,1041.6 1220.0,1041.6 1220.5,1041.6 1221.0,1041.6 1221.5,1041.6 1222.0,1041.5 1222.5,1041.5 1223.0,1041.5 1223.5,1041.5 1224.0,1041.5 1224.5,1041.5 1225.0,1041.5 1225.5,1041.5 1226.0,1041.5 1226.5,1041.4 1227.0,1041.4 1227.5,1041.4 1228.0,1041.4 1228.5,1041.4 1229.0,1041.4 1229.5,1041.4 1230.0,1041.4 1230.5,1041.3 1231.0,1041.3 1231.5,1041.3 1232.0,1041.3 1232.5,1041.3 1233.0,1041.3 1233.5,1041.3 1234.0,1041.3 1234.5,1041.3 1235.0,1041.2 1235.5,1041.2 1236.0,1041.2 1236.5,1041.2 1237.0,1041.2 1237.5,1041.2 1238.0,1041.2 1238.5,1041.2 1239.0,1041.2 1239.5,1041.1 1240.0,1041.1 1240.5,1041.1 1241.0,1041.1 1241.5,1041.1 1242.0,1041.1 1242.5,1041.1 1243.0,1041.1 1243.5,1041.1 1244.0,1041.0 1244.5,1041.0 1245.0,1041.0 1245.5,1041.0 1246.0,1041.0 1246.5,1041.0 1247.0,1041.0 1247.5,1041.0 1248.0,1040.9 1248.5,1040.9 1249.0,1040.9 1249.5,1040.9 1250.0,1040.9 1250.5,1040.9 1251.0,1040.9 1251.5,1040.9 1252.0,1040.9 1252.5,1040.8 1253.0,1040.8 1253.5,1040.8 1254.0,1040.8 1254.5,1040.8 1255.0,1040.8 1255.5,1040.8 1256.0,1040.8 1256.5,1040.8 1257.0,1040.7 1257.5,1040.7 1258.0,1040.7 1258.5,1040.7 1259.0,1040.7 1259.5,1040.7 1260.0,1040.7 1260.5,1040.7 1261.0,1040.7 1261.5,1040.6 1262.0,1040.6 1262.5,1040.6 1263.0,1040.6 1263.5,1040.6"/>
<rect x="964.5" y="91.5" width="610" height="551" fill="#c6c6c6"/>
<rect x="950" y="76.3" width="609" height="551.3" fill="#fff" stroke="#808080" stroke-width="3.5"/>
<line x1="968.5" y1="120.0" x2="1120" y2="120.0" stroke="#000000" stroke-width="4.5"/>
<text x="1133" y="141.8" font-size="58" textLength="403.7" lengthAdjust="spacingAndGlyphs">recorded pattern</text>
<line x1="968.5" y1="197.2" x2="1120" y2="197.2" stroke="#FF0000" stroke-width="4.5"/>
<text x="1133" y="219.0" font-size="58" textLength="315" lengthAdjust="spacingAndGlyphs">fitted pattern</text>
<line x1="968.5" y1="274.4" x2="1120" y2="274.4" stroke="#9900CC" stroke-width="4.5"/>
<text x="1133" y="296.2" font-size="58" textLength="380" lengthAdjust="spacingAndGlyphs">crystalline (110)</text>
<line x1="968.5" y1="351.6" x2="1120" y2="351.6" stroke="#3CB7FF" stroke-width="4.5"/>
<text x="1133" y="373.4" font-size="58" textLength="380" lengthAdjust="spacingAndGlyphs">crystalline (200)</text>
<line x1="968.5" y1="428.8" x2="1120" y2="428.8" stroke="#FF2DA8" stroke-width="4.5"/>
<text x="1133" y="450.6" font-size="58" textLength="380" lengthAdjust="spacingAndGlyphs">crystalline (210)</text>
<line x1="968.5" y1="506.0" x2="1120" y2="506.0" stroke="#00D084" stroke-width="4.5"/>
<text x="1133" y="527.8" font-size="58" textLength="275.3" lengthAdjust="spacingAndGlyphs">amorphous</text>
<line x1="968.5" y1="583.2" x2="1120" y2="583.2" stroke="#009000" stroke-width="4.5"/>
<text x="1133" y="605.0" font-size="58" textLength="275.3" lengthAdjust="spacingAndGlyphs">amorphous</text>
<rect x="164" y="27.2" width="1462.3" height="1053.8" fill="none" stroke="#000" stroke-width="5"/>
<path d="M164.0,1081 V1100.5 M285.9,29 V38 M285.9,1081 V1091 M407.7,29 V48.2 M407.7,1081 V1100.5 M529.6,29 V38 M529.6,1081 V1091 M651.4,29 V48.2 M651.4,1081 V1100.5 M773.3,29 V38 M773.3,1081 V1091 M895.1,29 V48.2 M895.1,1081 V1100.5 M1017.0,29 V38 M1017.0,1081 V1091 M1138.9,29 V48.2 M1138.9,1081 V1100.5 M1260.7,29 V38 M1260.7,1081 V1091 M1382.6,29 V48.2 M1382.6,1081 V1100.5 M1504.4,29 V38 M1504.4,1081 V1091 M1626.3,1081 V1100.5 M164,108.8 H154 M1626,108.8 H1615.7 M164,224.5 H143 M1626,224.5 H1605.2 M164,340.2 H154 M1626,340.2 H1615.7 M164,455.9 H143 M1626,455.9 H1605.2 M164,571.6 H154 M1626,571.6 H1615.7 M164,687.3 H143 M1626,687.3 H1605.2 M164,803.0 H154 M1626,803.0 H1615.7 M164,918.7 H143 M1626,918.7 H1605.2 M164,1034.4 H154 M1626,1034.4 H1615.7" stroke="#000" stroke-width="4.5" fill="none"/>
<text x="164.0" y="1162.6" font-size="69" text-anchor="middle">0</text>
<text x="407.7" y="1162.6" font-size="69" text-anchor="middle">10</text>
<text x="651.4" y="1162.6" font-size="69" text-anchor="middle">20</text>
<text x="895.1" y="1162.6" font-size="69" text-anchor="middle">30</text>
<text x="1138.9" y="1162.6" font-size="69" text-anchor="middle">40</text>
<text x="1382.6" y="1162.6" font-size="69" text-anchor="middle">50</text>
<text x="1626.3" y="1162.6" font-size="69" text-anchor="middle">60</text>
<text x="696.5" y="1260.5" font-size="71" font-weight="bold" textLength="33" lengthAdjust="spacingAndGlyphs">2</text>
<text x="735.5" y="1260.5" font-size="71" font-style="italic" textLength="45" lengthAdjust="spacingAndGlyphs">θ</text>
<text x="806.8" y="1260.5" font-size="71" font-weight="bold" textLength="284" lengthAdjust="spacingAndGlyphs">(degrees)</text>
<text transform="translate(77.5,960.2) rotate(-90)" x="0" y="0" font-size="72" font-weight="bold" textLength="292.5" lengthAdjust="spacingAndGlyphs">Intensity</text>
<text transform="translate(77.5,656) rotate(-90)" x="0" y="0" font-size="72" font-weight="bold" textLength="301" lengthAdjust="spacingAndGlyphs">(arbitrary</text>
<text transform="translate(77.5,332) rotate(-90)" x="0" y="0" font-size="72" font-weight="bold" textLength="183" lengthAdjust="spacingAndGlyphs">units)</text>
</svg>
</body></html>
